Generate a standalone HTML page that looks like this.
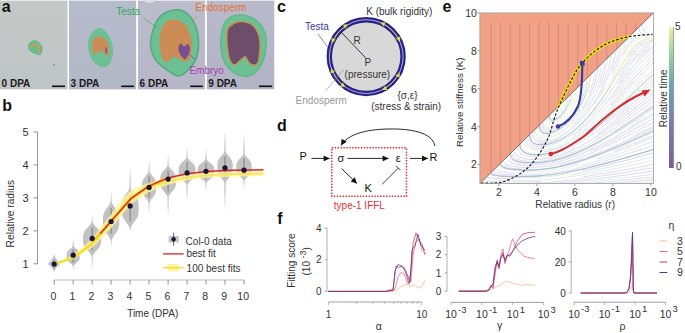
<!DOCTYPE html>
<html><head><meta charset="utf-8"><style>
html,body{margin:0;padding:0;background:#fff;width:685px;height:333px;overflow:hidden}
svg{display:block}
</style></head><body>
<svg width="685" height="333" viewBox="0 0 685 333">
<rect width="685" height="333" fill="#fff"/>
<g id="pa">
<defs><linearGradient id="bg0" x1="0" y1="0" x2="0" y2="1"><stop offset="0" stop-color="#c4c9c8"/><stop offset="1" stop-color="#bfc4c4"/></linearGradient></defs>
<rect x="0" y="0.6" width="67.5" height="88.8" fill="url(#bg0)"/>
<defs><linearGradient id="bg1" x1="0" y1="0" x2="0" y2="1"><stop offset="0" stop-color="#b6bccb"/><stop offset="1" stop-color="#b2b8c6"/></linearGradient></defs>
<rect x="69" y="0.6" width="67.2" height="88.8" fill="url(#bg1)"/>
<defs><linearGradient id="bg2" x1="0" y1="0" x2="0" y2="1"><stop offset="0" stop-color="#bdbccd"/><stop offset="1" stop-color="#b7b6c8"/></linearGradient></defs>
<rect x="138" y="0.6" width="67.0" height="88.8" fill="url(#bg2)"/>
<defs><linearGradient id="bg3" x1="0" y1="0" x2="0" y2="1"><stop offset="0" stop-color="#b9b9cc"/><stop offset="1" stop-color="#b3b3c6"/></linearGradient></defs>
<rect x="206.8" y="0.6" width="67.5" height="88.8" fill="url(#bg3)"/>
<path d="M34.8,40.3 C36.3,40.4 38.2,41.2 39.5,42.5 C40.8,43.8 42.5,46.1 42.7,48.2 C42.9,50.3 41.7,54.0 40.5,55.0 C39.3,56.0 37.3,54.6 35.5,54.0 C33.7,53.4 31.1,52.4 29.8,51.1 C28.6,49.8 27.9,47.5 28.0,46.0 C28.1,44.5 29.4,42.8 30.5,41.8 C31.6,40.8 33.3,40.2 34.8,40.3Z" fill="#66bc8c"/>
<path d="M31.2,47.6 C32.5,45 34,44.4 35.5,44.6 C37.5,44.8 39,46 39.1,48.5 C39.2,50 39.1,51.5 39.1,52.5" fill="none" stroke="#d09a5a" stroke-width="2.1" stroke-linecap="round"/>
<circle cx="54" cy="64.8" r="0.9" fill="#a08070"/>
<path d="M99.2,28.0 C101.8,27.8 104.5,29.5 106.7,32.5 C109.0,35.5 112.0,41.2 112.7,46.0 C113.5,50.8 112.6,57.5 111.2,61.0 C109.8,64.5 107.4,66.8 104.5,67.0 C101.6,67.2 96.8,65.8 94.0,62.5 C91.2,59.2 88.5,52.2 88.0,47.5 C87.5,42.8 89.1,37.2 91.0,34.0 C92.9,30.8 96.6,28.2 99.2,28.0Z" fill="#6cc094"/>
<path d="M98.5,36.2 C100.4,36.1 103.4,37.6 105.0,39.0 C106.6,40.4 107.5,42.0 108.2,44.5 C108.9,47.0 109.5,52.5 109.0,54.2 C108.5,56.0 106.6,55.5 105.5,55.0 C104.4,54.5 103.7,52.1 102.5,51.5 C101.3,50.9 99.8,50.9 98.5,51.5 C97.2,52.1 95.8,55.8 94.7,55.0 C93.6,54.2 91.9,49.6 91.7,47.0 C91.5,44.4 92.4,41.3 93.5,39.5 C94.6,37.7 96.6,36.3 98.5,36.2Z" fill="#cb8c56"/>
<path d="M106,48.2 L106.4,52.7" stroke="#7a4a90" stroke-width="1.6" stroke-linecap="round"/>
<path d="M174.3,10.0 C179.4,9.4 185.0,11.1 188.9,15.1 C192.8,19.1 196.6,27.3 197.9,34.3 C199.2,41.2 198.3,51.0 196.8,56.8 C195.3,62.6 191.9,66.0 188.9,69.2 C185.9,72.4 182.4,75.8 178.8,76.0 C175.2,76.2 171.4,73.1 167.5,70.3 C163.6,67.5 157.9,63.9 155.1,59.0 C152.3,54.1 150.0,47.8 150.6,41.0 C151.2,34.2 154.6,23.7 158.5,18.5 C162.4,13.3 169.2,10.6 174.3,10.0Z" fill="#6cc094"/>
<path d="M174.3,10.0 C179.4,9.4 185.0,11.1 188.9,15.1 C192.8,19.1 196.6,27.3 197.9,34.3 C199.2,41.2 198.3,51.0 196.8,56.8 C195.3,62.6 191.9,66.0 188.9,69.2 C185.9,72.4 182.4,75.8 178.8,76.0 C175.2,76.2 171.4,73.1 167.5,70.3 C163.6,67.5 157.9,63.9 155.1,59.0 C152.3,54.1 150.0,47.8 150.6,41.0 C151.2,34.2 154.6,23.7 158.5,18.5 C162.4,13.3 169.2,10.6 174.3,10.0Z" fill="none" stroke="#54ad80" stroke-width="1.6"/>
<ellipse cx="149.5" cy="1" rx="5" ry="1.8" fill="#dcdce6"/>
<path d="M173.2,19.6 C176.6,19.6 181.4,20.9 184.4,24.1 C187.4,27.3 190.1,33.7 191.2,38.8 C192.3,43.9 191.8,50.8 191.2,54.5 C190.6,58.2 189.5,60.3 187.8,61.3 C186.1,62.2 183.2,61.0 181.0,60.2 C178.8,59.5 176.0,57.0 174.3,56.8 C172.6,56.6 172.4,58.1 170.9,59.0 C169.4,59.9 166.9,63.1 165.3,62.4 C163.7,61.6 162.1,58.4 161.2,54.5 C160.2,50.6 159.1,43.9 159.6,38.8 C160.1,33.7 161.8,27.3 164.1,24.1 C166.4,20.9 169.8,19.6 173.2,19.6Z" fill="#cb8c56"/>
<path d="M181.0,43.5 C181.9,43.4 182.8,46.4 184.0,46.5 C185.2,46.6 187.0,43.4 188.0,44.0 C189.0,44.6 190.2,47.8 190.0,50.0 C189.8,52.2 188.0,55.5 187.0,57.0 C186.0,58.5 185.2,59.7 184.0,59.0 C182.8,58.3 180.4,55.0 179.5,53.0 C178.6,51.0 178.2,48.6 178.5,47.0 C178.8,45.4 180.1,43.6 181.0,43.5Z" fill="#7a4c90"/>
<path d="M227.8,19.0 C231.0,16.4 236.6,14.8 241.3,15.0 C246.0,15.2 252.0,17.2 255.9,20.1 C259.8,23.0 263.2,28.2 264.9,32.5 C266.6,36.8 266.4,41.1 266.0,46.0 C265.6,50.9 264.6,57.3 262.7,61.8 C260.8,66.3 257.6,70.6 254.8,73.0 C252.0,75.4 249.2,76.4 245.8,76.4 C242.4,76.4 237.9,75.1 234.5,73.0 C231.1,70.9 227.8,68.1 225.5,64.0 C223.2,59.9 221.6,53.9 221.0,48.3 C220.4,42.7 221.0,35.2 222.1,30.3 C223.2,25.4 224.6,21.6 227.8,19.0Z" fill="#6cc094"/>
<path d="M227.8,19.0 C231.0,16.4 236.6,14.8 241.3,15.0 C246.0,15.2 252.0,17.2 255.9,20.1 C259.8,23.0 263.2,28.2 264.9,32.5 C266.6,36.8 266.4,41.1 266.0,46.0 C265.6,50.9 264.6,57.3 262.7,61.8 C260.8,66.3 257.6,70.6 254.8,73.0 C252.0,75.4 249.2,76.4 245.8,76.4 C242.4,76.4 237.9,75.1 234.5,73.0 C231.1,70.9 227.8,68.1 225.5,64.0 C223.2,59.9 221.6,53.9 221.0,48.3 C220.4,42.7 221.0,35.2 222.1,30.3 C223.2,25.4 224.6,21.6 227.8,19.0Z" fill="none" stroke="#62b888" stroke-width="1.5"/>
<path d="M230.0,26.9 C231.9,25.2 235.6,22.8 239.0,22.4 C242.4,22.0 247.3,22.9 250.3,24.6 C253.3,26.3 255.5,29.3 257.0,32.5 C258.5,35.7 259.1,39.5 259.3,43.8 C259.5,48.1 258.8,55.0 258.2,58.4 C257.6,61.8 257.2,63.2 255.9,64.0 C254.6,64.8 252.0,64.2 250.3,62.9 C248.6,61.6 247.3,57.0 245.8,56.2 C244.3,55.5 243.2,57.1 241.3,58.4 C239.4,59.7 236.4,64.0 234.5,64.0 C232.6,64.0 231.1,61.8 230.0,58.4 C228.9,55.0 228.2,48.1 227.8,43.8 C227.4,39.5 227.4,35.3 227.8,32.5 C228.2,29.7 228.1,28.6 230.0,26.9Z" fill="#6e4c6c" stroke="#d48a40" stroke-width="2.6" stroke-linejoin="round"/>
<path d="M230.0,26.9 C231.9,25.2 235.6,22.8 239.0,22.4 C242.4,22.0 247.3,22.9 250.3,24.6 C253.3,26.3 255.5,29.3 257.0,32.5 C258.5,35.7 259.1,39.5 259.3,43.8 C259.5,48.1 258.8,55.0 258.2,58.4 C257.6,61.8 257.2,63.2 255.9,64.0 C254.6,64.8 252.0,64.2 250.3,62.9 C248.6,61.6 247.3,57.0 245.8,56.2 C244.3,55.5 243.2,57.1 241.3,58.4 C239.4,59.7 236.4,64.0 234.5,64.0 C232.6,64.0 231.1,61.8 230.0,58.4 C228.9,55.0 228.2,48.1 227.8,43.8 C227.4,39.5 227.4,35.3 227.8,32.5 C228.2,29.7 228.1,28.6 230.0,26.9Z" fill="#6e4c6c"/>
<line x1="142.7" y1="17.6" x2="156.2" y2="27" stroke="#3aa86a" stroke-width="0.6"/>
<line x1="196.8" y1="16.2" x2="180.5" y2="36.5" stroke="#e07a3a" stroke-width="0.6"/>
<line x1="188.6" y1="54" x2="195.4" y2="59.5" stroke="#9a3aa8" stroke-width="0.6"/>
<text x="116.2" y="14.6" font-family="Liberation Sans, sans-serif" font-size="10" fill="#2eab5c">Testa</text>
<text x="195.3" y="11.4" font-family="Liberation Sans, sans-serif" font-size="10" fill="#e8702c">Endosperm</text>
<text x="189.4" y="73.6" font-family="Liberation Sans, sans-serif" font-size="10" fill="#a040aa">Embryo</text>
<text x="1.6" y="86.9" font-family="Liberation Sans, sans-serif" font-size="10" font-weight="bold" fill="#1a1a1a">0 DPA</text>
<text x="70.6" y="86.9" font-family="Liberation Sans, sans-serif" font-size="10" font-weight="bold" fill="#1a1a1a">3 DPA</text>
<text x="139.6" y="86.9" font-family="Liberation Sans, sans-serif" font-size="10" font-weight="bold" fill="#1a1a1a">6 DPA</text>
<text x="208.3" y="86.9" font-family="Liberation Sans, sans-serif" font-size="10" font-weight="bold" fill="#1a1a1a">9 DPA</text>
<rect x="52" y="85.5" width="13.0" height="1.6" fill="#111"/>
<rect x="121.2" y="85.5" width="12.8" height="1.6" fill="#111"/>
<rect x="190.3" y="85.5" width="12.5" height="1.6" fill="#111"/>
<rect x="259" y="85.5" width="13.2" height="1.6" fill="#111"/>
</g>
<text x="1.8" y="11.9" font-family="Liberation Sans, sans-serif" font-size="16" font-weight="bold" fill="#111">a</text>
<g id="pb">
<line x1="37.5" y1="132" x2="37.5" y2="263.8" stroke="#999" stroke-width="1"/>
<line x1="33.5" y1="263.8" x2="37.5" y2="263.8" stroke="#777" stroke-width="0.8"/>
<text x="28.6" y="267.7" font-family="Liberation Sans, sans-serif" font-size="11" fill="#333" text-anchor="end">1</text>
<line x1="33.5" y1="230.9" x2="37.5" y2="230.9" stroke="#777" stroke-width="0.8"/>
<text x="28.6" y="234.8" font-family="Liberation Sans, sans-serif" font-size="11" fill="#333" text-anchor="end">2</text>
<line x1="33.5" y1="197.9" x2="37.5" y2="197.9" stroke="#777" stroke-width="0.8"/>
<text x="28.6" y="201.8" font-family="Liberation Sans, sans-serif" font-size="11" fill="#333" text-anchor="end">3</text>
<line x1="33.5" y1="164.9" x2="37.5" y2="164.9" stroke="#777" stroke-width="0.8"/>
<text x="28.6" y="168.8" font-family="Liberation Sans, sans-serif" font-size="11" fill="#333" text-anchor="end">4</text>
<line x1="33.5" y1="132.0" x2="37.5" y2="132.0" stroke="#777" stroke-width="0.8"/>
<text x="28.6" y="135.9" font-family="Liberation Sans, sans-serif" font-size="11" fill="#333" text-anchor="end">5</text>
<line x1="54.2" y1="280" x2="244" y2="280" stroke="#bbb" stroke-width="1.1"/>
<line x1="54.2" y1="280" x2="54.2" y2="284.6" stroke="#777" stroke-width="0.8"/>
<text x="53.4" y="299.7" font-family="Liberation Sans, sans-serif" font-size="10.5" fill="#333" text-anchor="middle">0</text>
<line x1="73.2" y1="280" x2="73.2" y2="284.6" stroke="#777" stroke-width="0.8"/>
<text x="72.4" y="299.7" font-family="Liberation Sans, sans-serif" font-size="10.5" fill="#333" text-anchor="middle">1</text>
<line x1="92.2" y1="280" x2="92.2" y2="284.6" stroke="#777" stroke-width="0.8"/>
<text x="91.4" y="299.7" font-family="Liberation Sans, sans-serif" font-size="10.5" fill="#333" text-anchor="middle">2</text>
<line x1="111.1" y1="280" x2="111.1" y2="284.6" stroke="#777" stroke-width="0.8"/>
<text x="110.3" y="299.7" font-family="Liberation Sans, sans-serif" font-size="10.5" fill="#333" text-anchor="middle">3</text>
<line x1="130.1" y1="280" x2="130.1" y2="284.6" stroke="#777" stroke-width="0.8"/>
<text x="129.3" y="299.7" font-family="Liberation Sans, sans-serif" font-size="10.5" fill="#333" text-anchor="middle">4</text>
<line x1="149.1" y1="280" x2="149.1" y2="284.6" stroke="#777" stroke-width="0.8"/>
<text x="148.3" y="299.7" font-family="Liberation Sans, sans-serif" font-size="10.5" fill="#333" text-anchor="middle">5</text>
<line x1="168.1" y1="280" x2="168.1" y2="284.6" stroke="#777" stroke-width="0.8"/>
<text x="167.3" y="299.7" font-family="Liberation Sans, sans-serif" font-size="10.5" fill="#333" text-anchor="middle">6</text>
<line x1="187.1" y1="280" x2="187.1" y2="284.6" stroke="#777" stroke-width="0.8"/>
<text x="186.3" y="299.7" font-family="Liberation Sans, sans-serif" font-size="10.5" fill="#333" text-anchor="middle">7</text>
<line x1="206.0" y1="280" x2="206.0" y2="284.6" stroke="#777" stroke-width="0.8"/>
<text x="205.2" y="299.7" font-family="Liberation Sans, sans-serif" font-size="10.5" fill="#333" text-anchor="middle">8</text>
<line x1="225.0" y1="280" x2="225.0" y2="284.6" stroke="#777" stroke-width="0.8"/>
<text x="224.2" y="299.7" font-family="Liberation Sans, sans-serif" font-size="10.5" fill="#333" text-anchor="middle">9</text>
<line x1="244.0" y1="280" x2="244.0" y2="284.6" stroke="#777" stroke-width="0.8"/>
<text x="243.2" y="299.7" font-family="Liberation Sans, sans-serif" font-size="10.5" fill="#333" text-anchor="middle">10</text>
<text x="152.7" y="317.2" font-family="Liberation Sans, sans-serif" font-size="10" fill="#333" text-anchor="middle">Time (DPA)</text>
<text transform="translate(14.2,213.7) rotate(-90)" x="0" y="0" font-family="Liberation Sans, sans-serif" font-size="10.2" fill="#333" text-anchor="middle">Relative radius</text>
<polygon points="54.20,253.40 54.24,253.64 54.28,253.88 54.31,254.12 54.35,254.36 54.38,254.60 54.42,254.84 54.48,255.08 54.55,255.32 54.62,255.56 54.70,255.80 54.79,256.04 54.89,256.28 54.99,256.52 55.09,256.76 55.20,257.00 55.32,257.24 55.44,257.48 55.57,257.72 55.70,257.96 55.84,258.20 55.98,258.44 56.13,258.68 56.28,258.92 56.43,259.16 56.59,259.40 56.76,259.64 56.93,259.88 57.10,260.12 57.28,260.36 57.46,260.60 57.65,260.84 57.84,261.08 58.04,261.32 58.24,261.56 58.44,261.80 58.65,262.04 58.86,262.28 59.08,262.52 59.30,262.76 59.52,263.00 59.75,263.24 59.98,263.48 60.22,263.72 60.46,263.96 60.25,264.20 59.96,264.44 59.68,264.68 59.40,264.92 59.12,265.16 58.86,265.40 58.60,265.64 58.34,265.88 58.09,266.12 57.85,266.36 57.62,266.60 57.39,266.84 57.16,267.08 56.95,267.32 56.74,267.56 56.54,267.80 56.34,268.04 56.15,268.28 55.97,268.52 55.80,268.76 55.63,269.00 55.47,269.24 55.32,269.48 55.18,269.72 55.05,269.96 54.92,270.20 54.80,270.44 54.69,270.68 54.59,270.92 54.50,271.16 54.42,271.40 54.38,271.64 54.34,271.88 54.29,272.12 54.25,272.36 54.20,272.60 54.20,272.60 54.15,272.36 54.11,272.12 54.06,271.88 54.02,271.64 53.98,271.40 53.90,271.16 53.81,270.92 53.71,270.68 53.60,270.44 53.48,270.20 53.35,269.96 53.22,269.72 53.08,269.48 52.93,269.24 52.77,269.00 52.60,268.76 52.43,268.52 52.25,268.28 52.06,268.04 51.86,267.80 51.66,267.56 51.45,267.32 51.24,267.08 51.01,266.84 50.78,266.60 50.55,266.36 50.31,266.12 50.06,265.88 49.80,265.64 49.54,265.40 49.28,265.16 49.00,264.92 48.72,264.68 48.44,264.44 48.15,264.20 47.94,263.96 48.18,263.72 48.42,263.48 48.65,263.24 48.88,263.00 49.10,262.76 49.32,262.52 49.54,262.28 49.75,262.04 49.96,261.80 50.16,261.56 50.36,261.32 50.56,261.08 50.75,260.84 50.94,260.60 51.12,260.36 51.30,260.12 51.47,259.88 51.64,259.64 51.81,259.40 51.97,259.16 52.12,258.92 52.27,258.68 52.42,258.44 52.56,258.20 52.70,257.96 52.83,257.72 52.96,257.48 53.08,257.24 53.20,257.00 53.31,256.76 53.41,256.52 53.51,256.28 53.61,256.04 53.70,255.80 53.78,255.56 53.85,255.32 53.92,255.08 53.98,254.84 54.02,254.60 54.05,254.36 54.09,254.12 54.12,253.88 54.16,253.64 54.20,253.40" fill="#c2c2c2"/>
<line x1="54.2" y1="259.9" x2="54.2" y2="268.1" stroke="#6a6a6a" stroke-width="0.8"/>
<polygon points="73.18,237.70 73.22,238.11 73.25,238.51 73.29,238.92 73.32,239.33 73.36,239.74 73.39,240.14 73.42,240.55 73.46,240.96 73.49,241.37 73.52,241.77 73.55,242.18 73.57,242.59 73.60,243.00 73.63,243.41 73.65,243.81 73.68,244.22 73.70,244.63 73.72,245.03 73.75,245.44 73.77,245.85 73.84,246.26 74.09,246.66 74.39,247.07 74.75,247.48 75.15,247.89 75.58,248.29 76.04,248.70 76.51,249.11 76.98,249.52 77.43,249.93 77.85,250.33 78.24,250.74 78.58,251.15 78.87,251.56 79.12,251.96 79.32,252.37 79.47,252.78 79.59,253.19 79.67,253.59 79.72,254.00 79.75,254.41 79.77,254.81 79.78,255.22 79.78,255.63 79.78,256.04 79.78,256.44 79.78,256.85 79.77,257.26 79.75,257.67 79.71,258.07 79.65,258.48 79.57,258.89 79.45,259.30 79.28,259.70 79.08,260.11 78.82,260.52 78.52,260.93 78.17,261.33 77.78,261.74 77.35,262.15 76.89,262.56 76.42,262.97 75.95,263.37 75.50,263.78 75.07,264.19 74.68,264.60 74.33,265.00 74.04,265.41 73.80,265.82 73.61,266.23 73.56,266.63 73.52,267.04 73.49,267.45 73.45,267.86 73.40,268.26 73.36,268.67 73.32,269.08 73.27,269.49 73.23,269.89 73.18,270.30 73.18,270.30 73.13,269.89 73.09,269.49 73.04,269.08 73.00,268.67 72.96,268.26 72.91,267.86 72.87,267.45 72.84,267.04 72.80,266.63 72.75,266.23 72.56,265.82 72.32,265.41 72.03,265.00 71.68,264.60 71.29,264.19 70.86,263.78 70.41,263.37 69.94,262.97 69.47,262.56 69.01,262.15 68.58,261.74 68.19,261.33 67.84,260.93 67.54,260.52 67.28,260.11 67.08,259.70 66.91,259.30 66.79,258.89 66.71,258.48 66.65,258.07 66.61,257.67 66.59,257.26 66.58,256.85 66.58,256.44 66.58,256.04 66.58,255.63 66.58,255.22 66.59,254.81 66.61,254.41 66.64,254.00 66.69,253.59 66.77,253.19 66.89,252.78 67.04,252.37 67.24,251.96 67.49,251.56 67.78,251.15 68.12,250.74 68.51,250.33 68.93,249.93 69.38,249.52 69.85,249.11 70.32,248.70 70.78,248.29 71.21,247.89 71.61,247.48 71.97,247.07 72.27,246.66 72.52,246.26 72.59,245.85 72.61,245.44 72.64,245.03 72.66,244.63 72.68,244.22 72.71,243.81 72.73,243.41 72.76,243.00 72.79,242.59 72.81,242.18 72.84,241.77 72.87,241.37 72.90,240.96 72.94,240.55 72.97,240.14 73.00,239.74 73.04,239.33 73.07,238.92 73.11,238.51 73.14,238.11 73.18,237.70" fill="#c2c2c2"/>
<line x1="73.2" y1="249.2" x2="73.2" y2="262.8" stroke="#6a6a6a" stroke-width="0.8"/>
<polygon points="92.16,214.00 92.21,214.69 92.25,215.38 92.29,216.06 92.34,216.75 92.38,217.44 92.42,218.12 92.46,218.81 92.49,219.50 92.53,220.19 92.56,220.88 92.63,221.56 92.85,222.25 93.14,222.94 93.51,223.62 93.94,224.31 94.45,225.00 95.02,225.69 95.63,226.38 96.27,227.06 96.92,227.75 97.56,228.44 98.17,229.12 98.74,229.81 99.25,230.50 99.70,231.19 100.07,231.88 100.38,232.56 100.63,233.25 100.82,233.94 100.95,234.62 101.05,235.31 101.10,236.00 101.14,236.69 101.15,237.38 101.16,238.06 101.16,238.75 101.16,239.44 101.16,240.12 101.15,240.81 101.13,241.50 101.09,242.19 101.02,242.88 100.92,243.56 100.77,244.25 100.57,244.94 100.31,245.62 99.98,246.31 99.58,247.00 99.12,247.69 98.59,248.38 98.01,249.06 97.39,249.75 96.74,250.44 96.09,251.12 95.46,251.81 94.86,252.50 94.31,253.19 93.82,253.88 93.40,254.56 93.06,255.25 92.79,255.94 92.72,256.62 92.69,257.31 92.67,258.00 92.64,258.69 92.62,259.38 92.59,260.06 92.56,260.75 92.53,261.44 92.50,262.12 92.47,262.81 92.44,263.50 92.41,264.19 92.38,264.88 92.34,265.56 92.31,266.25 92.27,266.94 92.24,267.62 92.20,268.31 92.16,269.00 92.16,269.00 92.12,268.31 92.08,267.62 92.05,266.94 92.01,266.25 91.98,265.56 91.94,264.88 91.91,264.19 91.88,263.50 91.85,262.81 91.82,262.12 91.79,261.44 91.76,260.75 91.73,260.06 91.70,259.38 91.68,258.69 91.65,258.00 91.63,257.31 91.60,256.62 91.53,255.94 91.26,255.25 90.92,254.56 90.50,253.88 90.01,253.19 89.46,252.50 88.86,251.81 88.23,251.12 87.58,250.44 86.93,249.75 86.31,249.06 85.73,248.38 85.20,247.69 84.74,247.00 84.34,246.31 84.01,245.62 83.75,244.94 83.55,244.25 83.40,243.56 83.30,242.88 83.23,242.19 83.19,241.50 83.17,240.81 83.16,240.12 83.16,239.44 83.16,238.75 83.16,238.06 83.17,237.38 83.18,236.69 83.22,236.00 83.27,235.31 83.37,234.62 83.50,233.94 83.69,233.25 83.94,232.56 84.25,231.88 84.62,231.19 85.07,230.50 85.58,229.81 86.15,229.12 86.76,228.44 87.40,227.75 88.05,227.06 88.69,226.38 89.30,225.69 89.87,225.00 90.38,224.31 90.81,223.62 91.18,222.94 91.47,222.25 91.69,221.56 91.76,220.88 91.79,220.19 91.83,219.50 91.86,218.81 91.90,218.12 91.94,217.44 91.98,216.75 92.03,216.06 92.07,215.38 92.11,214.69 92.16,214.00" fill="#c2c2c2"/>
<line x1="92.2" y1="227.8" x2="92.2" y2="250.2" stroke="#6a6a6a" stroke-width="0.8"/>
<polygon points="111.14,191.30 111.18,192.00 111.22,192.70 111.26,193.40 111.29,194.11 111.33,194.81 111.36,195.51 111.40,196.21 111.43,196.91 111.46,197.61 111.49,198.31 111.52,199.01 111.55,199.72 111.58,200.42 111.61,201.12 111.71,201.82 111.93,202.52 112.20,203.22 112.53,203.92 112.91,204.62 113.34,205.33 113.81,206.03 114.31,206.73 114.84,207.43 115.37,208.13 115.89,208.83 116.40,209.53 116.88,210.23 117.32,210.94 117.71,211.64 118.06,212.34 118.36,213.04 118.61,213.74 118.81,214.44 118.97,215.14 119.08,215.84 119.17,216.55 119.23,217.25 119.27,217.95 119.29,218.65 119.30,219.35 119.30,220.05 119.30,220.75 119.30,221.45 119.30,222.16 119.29,222.86 119.28,223.56 119.26,224.26 119.21,224.96 119.15,225.66 119.05,226.36 118.92,227.06 118.75,227.77 118.54,228.47 118.28,229.17 117.96,229.87 117.60,230.57 117.19,231.27 116.74,231.97 116.25,232.67 115.74,233.38 115.21,234.08 114.68,234.78 114.16,235.48 113.67,236.18 113.21,236.88 112.79,237.58 112.43,238.28 112.12,238.99 111.86,239.69 111.66,240.39 111.50,241.09 111.46,241.79 111.43,242.49 111.39,243.19 111.35,243.89 111.31,244.59 111.27,245.30 111.23,246.00 111.18,246.70 111.14,247.40 111.14,247.40 111.10,246.70 111.05,246.00 111.01,245.30 110.97,244.59 110.93,243.89 110.89,243.19 110.85,242.49 110.82,241.79 110.78,241.09 110.62,240.39 110.42,239.69 110.16,238.99 109.85,238.28 109.49,237.58 109.07,236.88 108.61,236.18 108.12,235.48 107.60,234.78 107.07,234.08 106.54,233.38 106.03,232.67 105.54,231.97 105.09,231.27 104.68,230.57 104.32,229.87 104.00,229.17 103.74,228.47 103.53,227.77 103.36,227.06 103.23,226.36 103.13,225.66 103.07,224.96 103.02,224.26 103.00,223.56 102.99,222.86 102.98,222.16 102.98,221.45 102.98,220.75 102.98,220.05 102.98,219.35 102.99,218.65 103.01,217.95 103.05,217.25 103.11,216.55 103.20,215.84 103.31,215.14 103.47,214.44 103.67,213.74 103.92,213.04 104.22,212.34 104.57,211.64 104.96,210.94 105.40,210.23 105.88,209.53 106.39,208.83 106.91,208.13 107.44,207.43 107.97,206.73 108.47,206.03 108.94,205.33 109.37,204.62 109.75,203.92 110.08,203.22 110.35,202.52 110.57,201.82 110.67,201.12 110.70,200.42 110.73,199.72 110.76,199.01 110.79,198.31 110.82,197.61 110.85,196.91 110.88,196.21 110.92,195.51 110.95,194.81 110.99,194.11 111.02,193.40 111.06,192.70 111.10,192.00 111.14,191.30" fill="#c2c2c2"/>
<line x1="111.1" y1="208.2" x2="111.1" y2="233.8" stroke="#6a6a6a" stroke-width="0.8"/>
<polygon points="130.12,166.00 130.15,166.82 130.19,167.65 130.22,168.47 130.25,169.30 130.28,170.12 130.31,170.95 130.34,171.78 130.37,172.60 130.39,173.43 130.42,174.25 130.45,175.07 130.47,175.90 130.50,176.72 130.52,177.55 130.55,178.38 130.57,179.20 130.59,180.03 130.61,180.85 130.64,181.68 130.66,182.50 130.68,183.32 130.70,184.15 130.71,184.97 130.73,185.80 130.75,186.62 130.77,187.45 130.89,188.28 131.20,189.10 131.57,189.93 132.02,190.75 132.53,191.57 133.08,192.40 133.68,193.22 134.29,194.05 134.91,194.88 135.50,195.70 136.06,196.53 136.57,197.35 137.03,198.18 137.42,199.00 137.75,199.82 138.02,200.65 138.22,201.47 138.38,202.30 138.49,203.12 138.56,203.95 138.60,204.78 138.63,205.60 138.64,206.43 138.64,207.25 138.64,208.07 138.64,208.90 138.64,209.72 138.62,210.55 138.60,211.38 138.55,212.20 138.47,213.03 138.35,213.85 138.19,214.68 137.97,215.50 137.70,216.32 137.36,217.15 136.95,217.97 136.49,218.80 135.96,219.62 135.39,220.45 134.79,221.28 134.18,222.10 133.57,222.93 132.98,223.75 132.43,224.57 131.93,225.40 131.50,226.22 131.14,227.05 130.84,227.88 130.62,228.70 130.45,229.53 130.33,230.35 130.25,231.18 130.19,232.00 130.05,232.00 129.99,231.18 129.91,230.35 129.79,229.53 129.62,228.70 129.40,227.88 129.10,227.05 128.74,226.22 128.31,225.40 127.81,224.57 127.26,223.75 126.67,222.93 126.06,222.10 125.45,221.28 124.85,220.45 124.28,219.62 123.75,218.80 123.29,217.97 122.88,217.15 122.54,216.32 122.27,215.50 122.05,214.68 121.89,213.85 121.77,213.03 121.69,212.20 121.64,211.38 121.62,210.55 121.60,209.72 121.60,208.90 121.60,208.07 121.60,207.25 121.60,206.43 121.61,205.60 121.64,204.78 121.68,203.95 121.75,203.12 121.86,202.30 122.02,201.47 122.22,200.65 122.49,199.82 122.82,199.00 123.21,198.18 123.67,197.35 124.18,196.53 124.74,195.70 125.33,194.88 125.95,194.05 126.56,193.22 127.16,192.40 127.71,191.57 128.22,190.75 128.67,189.93 129.04,189.10 129.35,188.28 129.47,187.45 129.49,186.62 129.51,185.80 129.53,184.97 129.54,184.15 129.56,183.32 129.58,182.50 129.60,181.68 129.63,180.85 129.65,180.03 129.67,179.20 129.69,178.38 129.72,177.55 129.74,176.72 129.77,175.90 129.79,175.07 129.82,174.25 129.85,173.43 129.87,172.60 129.90,171.78 129.93,170.95 129.96,170.12 129.99,169.30 130.02,168.47 130.05,167.65 130.09,166.82 130.12,166.00" fill="#c2c2c2"/>
<line x1="130.1" y1="194.5" x2="130.1" y2="221.5" stroke="#6a6a6a" stroke-width="0.8"/>
<polygon points="149.10,159.30 149.14,159.98 149.18,160.66 149.22,161.34 149.26,162.02 149.30,162.69 149.33,163.37 149.37,164.05 149.40,164.73 149.43,165.41 149.47,166.09 149.50,166.77 149.53,167.45 149.56,168.12 149.58,168.80 149.61,169.48 149.64,170.16 149.66,170.84 149.69,171.52 149.95,172.20 150.27,172.88 150.66,173.55 151.10,174.23 151.60,174.91 152.12,175.59 152.66,176.27 153.20,176.95 153.72,177.63 154.20,178.31 154.63,178.98 155.00,179.66 155.32,180.34 155.58,181.02 155.78,181.70 155.93,182.38 156.04,183.06 156.10,183.74 156.15,184.41 156.17,185.09 156.18,185.77 156.18,186.45 156.18,187.13 156.18,187.81 156.18,188.49 156.16,189.16 156.13,189.84 156.08,190.52 156.00,191.20 155.88,191.88 155.71,192.56 155.49,193.24 155.21,193.92 154.87,194.59 154.47,195.27 154.02,195.95 153.52,196.63 153.00,197.31 152.46,197.99 151.92,198.67 151.41,199.35 150.93,200.03 150.51,200.70 150.14,201.38 149.85,202.06 149.65,202.74 149.63,203.42 149.60,204.10 149.57,204.78 149.54,205.45 149.51,206.13 149.48,206.81 149.45,207.49 149.41,208.17 149.38,208.85 149.34,209.53 149.30,210.21 149.26,210.88 149.23,211.56 149.18,212.24 149.14,212.92 149.10,213.60 149.10,213.60 149.06,212.92 149.02,212.24 148.97,211.56 148.94,210.88 148.90,210.21 148.86,209.53 148.82,208.85 148.79,208.17 148.75,207.49 148.72,206.81 148.69,206.13 148.66,205.45 148.63,204.78 148.60,204.10 148.57,203.42 148.55,202.74 148.35,202.06 148.06,201.38 147.69,200.70 147.27,200.03 146.79,199.35 146.28,198.67 145.74,197.99 145.20,197.31 144.68,196.63 144.18,195.95 143.73,195.27 143.33,194.59 142.99,193.92 142.71,193.24 142.49,192.56 142.32,191.88 142.20,191.20 142.12,190.52 142.07,189.84 142.04,189.16 142.02,188.49 142.02,187.81 142.02,187.13 142.02,186.45 142.02,185.77 142.03,185.09 142.05,184.41 142.10,183.74 142.16,183.06 142.27,182.38 142.42,181.70 142.62,181.02 142.88,180.34 143.20,179.66 143.57,178.98 144.00,178.31 144.48,177.63 145.00,176.95 145.54,176.27 146.08,175.59 146.60,174.91 147.10,174.23 147.54,173.55 147.93,172.88 148.25,172.20 148.51,171.52 148.54,170.84 148.56,170.16 148.59,169.48 148.62,168.80 148.64,168.12 148.67,167.45 148.70,166.77 148.73,166.09 148.77,165.41 148.80,164.73 148.83,164.05 148.87,163.37 148.90,162.69 148.94,162.02 148.98,161.34 149.02,160.66 149.06,159.98 149.10,159.30" fill="#c2c2c2"/>
<line x1="149.1" y1="176.5" x2="149.1" y2="197.5" stroke="#6a6a6a" stroke-width="0.8"/>
<polygon points="168.08,153.60 168.13,154.38 168.17,155.16 168.22,155.94 168.26,156.72 168.30,157.50 168.35,158.28 168.39,159.06 168.42,159.84 168.46,160.62 168.50,161.40 168.53,162.18 168.56,162.96 168.59,163.74 168.62,164.52 168.67,165.30 168.98,166.08 169.38,166.86 169.88,167.64 170.47,168.42 171.12,169.20 171.81,169.98 172.50,170.76 173.17,171.54 173.79,172.32 174.34,173.10 174.81,173.88 175.18,174.66 175.47,175.44 175.69,176.22 175.83,177.00 175.92,177.78 175.97,178.56 175.99,179.34 176.00,180.12 176.00,180.90 176.00,181.68 175.99,182.46 175.98,183.24 175.94,184.02 175.86,184.80 175.73,185.58 175.54,186.36 175.27,187.14 174.91,187.92 174.47,188.70 173.94,189.48 173.34,190.26 172.68,191.04 171.99,191.82 171.29,192.60 170.63,193.38 170.03,194.16 169.50,194.94 169.07,195.72 168.76,196.50 168.75,197.28 168.73,198.06 168.71,198.84 168.69,199.62 168.67,200.40 168.65,201.18 168.63,201.96 168.60,202.74 168.58,203.52 168.55,204.30 168.53,205.08 168.50,205.86 168.47,206.64 168.45,207.42 168.42,208.20 168.39,208.98 168.36,209.76 168.32,210.54 168.29,211.32 168.26,212.10 168.22,212.88 168.19,213.66 168.15,214.44 168.12,215.22 168.08,216.00 168.08,216.00 168.04,215.22 168.01,214.44 167.97,213.66 167.94,212.88 167.90,212.10 167.87,211.32 167.84,210.54 167.80,209.76 167.77,208.98 167.74,208.20 167.71,207.42 167.69,206.64 167.66,205.86 167.63,205.08 167.61,204.30 167.58,203.52 167.56,202.74 167.53,201.96 167.51,201.18 167.49,200.40 167.47,199.62 167.45,198.84 167.43,198.06 167.41,197.28 167.40,196.50 167.09,195.72 166.66,194.94 166.13,194.16 165.53,193.38 164.87,192.60 164.17,191.82 163.48,191.04 162.82,190.26 162.22,189.48 161.69,188.70 161.25,187.92 160.89,187.14 160.62,186.36 160.43,185.58 160.30,184.80 160.22,184.02 160.18,183.24 160.17,182.46 160.16,181.68 160.16,180.90 160.16,180.12 160.17,179.34 160.19,178.56 160.24,177.78 160.33,177.00 160.47,176.22 160.69,175.44 160.98,174.66 161.35,173.88 161.82,173.10 162.37,172.32 162.99,171.54 163.66,170.76 164.35,169.98 165.04,169.20 165.69,168.42 166.28,167.64 166.78,166.86 167.18,166.08 167.49,165.30 167.54,164.52 167.57,163.74 167.60,162.96 167.63,162.18 167.66,161.40 167.70,160.62 167.74,159.84 167.77,159.06 167.81,158.28 167.86,157.50 167.90,156.72 167.94,155.94 167.99,155.16 168.03,154.38 168.08,153.60" fill="#c2c2c2"/>
<line x1="168.1" y1="170.5" x2="168.1" y2="191.5" stroke="#6a6a6a" stroke-width="0.8"/>
<polygon points="187.06,146.40 187.11,147.08 187.15,147.76 187.19,148.44 187.24,149.12 187.28,149.79 187.32,150.47 187.36,151.15 187.39,151.83 187.43,152.51 187.46,153.19 187.50,153.87 187.53,154.55 187.56,155.22 187.59,155.90 187.62,156.58 187.64,157.26 187.87,157.94 188.26,158.62 188.76,159.30 189.36,159.97 190.04,160.65 190.77,161.33 191.52,162.01 192.25,162.69 192.94,163.37 193.55,164.05 194.08,164.73 194.51,165.41 194.84,166.08 195.09,166.76 195.25,167.44 195.36,168.12 195.42,168.80 195.45,169.48 195.46,170.16 195.46,170.84 195.46,171.51 195.46,172.19 195.44,172.87 195.40,173.55 195.31,174.23 195.18,174.91 194.97,175.59 194.68,176.26 194.30,176.94 193.82,177.62 193.24,178.30 192.59,178.98 191.88,179.66 191.13,180.34 190.39,181.02 189.68,181.69 189.04,182.37 188.49,183.05 188.05,183.73 187.74,184.41 187.72,185.09 187.70,185.77 187.68,186.45 187.66,187.12 187.64,187.80 187.62,188.48 187.59,189.16 187.57,189.84 187.54,190.52 187.52,191.20 187.49,191.88 187.46,192.56 187.43,193.23 187.40,193.91 187.37,194.59 187.34,195.27 187.31,195.95 187.28,196.63 187.24,197.31 187.21,197.98 187.17,198.66 187.14,199.34 187.10,200.02 187.06,200.70 187.06,200.70 187.02,200.02 186.98,199.34 186.95,198.66 186.91,197.98 186.88,197.31 186.84,196.63 186.81,195.95 186.78,195.27 186.75,194.59 186.72,193.91 186.69,193.23 186.66,192.56 186.63,191.88 186.60,191.20 186.58,190.52 186.55,189.84 186.53,189.16 186.50,188.48 186.48,187.80 186.46,187.12 186.44,186.45 186.42,185.77 186.40,185.09 186.38,184.41 186.07,183.73 185.63,183.05 185.08,182.37 184.44,181.69 183.73,181.02 182.99,180.34 182.24,179.66 181.53,178.98 180.88,178.30 180.30,177.62 179.82,176.94 179.44,176.26 179.15,175.59 178.94,174.91 178.81,174.23 178.72,173.55 178.68,172.87 178.66,172.19 178.66,171.51 178.66,170.84 178.66,170.16 178.67,169.48 178.70,168.80 178.76,168.12 178.87,167.44 179.03,166.76 179.28,166.08 179.61,165.41 180.04,164.73 180.57,164.05 181.18,163.37 181.87,162.69 182.60,162.01 183.35,161.33 184.08,160.65 184.76,159.97 185.36,159.30 185.86,158.62 186.25,157.94 186.48,157.26 186.50,156.58 186.53,155.90 186.56,155.22 186.59,154.55 186.62,153.87 186.66,153.19 186.69,152.51 186.73,151.83 186.76,151.15 186.80,150.47 186.84,149.79 186.88,149.12 186.93,148.44 186.97,147.76 187.01,147.08 187.06,146.40" fill="#c2c2c2"/>
<line x1="187.1" y1="162.0" x2="187.1" y2="180.0" stroke="#6a6a6a" stroke-width="0.8"/>
<polygon points="206.04,147.90 206.08,148.45 206.12,149.00 206.16,149.56 206.19,150.11 206.23,150.66 206.27,151.22 206.30,151.77 206.33,152.32 206.37,152.87 206.40,153.43 206.43,153.98 206.46,154.53 206.49,155.08 206.51,155.63 206.54,156.19 206.57,156.74 206.59,157.29 206.61,157.84 206.64,158.40 206.66,158.95 206.81,159.50 207.16,160.06 207.60,160.61 208.14,161.16 208.74,161.71 209.40,162.27 210.10,162.82 210.79,163.37 211.46,163.92 212.08,164.47 212.64,165.03 213.11,165.58 213.50,166.13 213.81,166.69 214.05,167.24 214.21,167.79 214.32,168.34 214.39,168.90 214.42,169.45 214.44,170.00 214.44,170.55 214.44,171.10 214.44,171.66 214.43,172.21 214.41,172.76 214.37,173.31 214.29,173.87 214.16,174.42 213.97,174.97 213.71,175.53 213.36,176.08 212.94,176.63 212.43,177.18 211.85,177.73 211.21,178.29 210.53,178.84 209.83,179.39 209.15,179.94 208.50,180.50 207.92,181.05 207.42,181.60 207.02,182.16 206.70,182.71 206.60,183.26 206.58,183.81 206.55,184.37 206.52,184.92 206.49,185.47 206.46,186.02 206.43,186.57 206.39,187.13 206.36,187.68 206.32,188.23 206.29,188.78 206.25,189.34 206.21,189.89 206.17,190.44 206.13,191.00 206.08,191.55 206.04,192.10 206.04,192.10 206.00,191.55 205.95,191.00 205.91,190.44 205.87,189.89 205.83,189.34 205.79,188.78 205.76,188.23 205.72,187.68 205.69,187.13 205.65,186.57 205.62,186.02 205.59,185.47 205.56,184.92 205.53,184.37 205.50,183.81 205.48,183.26 205.38,182.71 205.06,182.16 204.66,181.60 204.16,181.05 203.58,180.50 202.93,179.94 202.25,179.39 201.55,178.84 200.87,178.29 200.23,177.73 199.65,177.18 199.14,176.63 198.72,176.08 198.37,175.53 198.11,174.97 197.92,174.42 197.79,173.87 197.71,173.31 197.67,172.76 197.65,172.21 197.64,171.66 197.64,171.10 197.64,170.55 197.64,170.00 197.66,169.45 197.69,168.90 197.76,168.34 197.87,167.79 198.03,167.24 198.27,166.69 198.58,166.13 198.97,165.58 199.44,165.03 200.00,164.47 200.62,163.92 201.29,163.37 201.98,162.82 202.68,162.27 203.34,161.71 203.94,161.16 204.48,160.61 204.92,160.06 205.27,159.50 205.42,158.95 205.44,158.40 205.47,157.84 205.49,157.29 205.51,156.74 205.54,156.19 205.57,155.63 205.59,155.08 205.62,154.53 205.65,153.98 205.68,153.43 205.71,152.87 205.75,152.32 205.78,151.77 205.81,151.22 205.85,150.66 205.89,150.11 205.92,149.56 205.96,149.00 206.00,148.45 206.04,147.90" fill="#c2c2c2"/>
<line x1="206.0" y1="163.1" x2="206.0" y2="178.9" stroke="#6a6a6a" stroke-width="0.8"/>
<polygon points="225.02,130.70 225.07,131.70 225.11,132.70 225.15,133.70 225.20,134.70 225.24,135.70 225.28,136.70 225.32,137.70 225.35,138.70 225.39,139.70 225.42,140.70 225.46,141.70 225.49,142.70 225.52,143.70 225.55,144.70 225.58,145.70 225.60,146.70 225.63,147.70 225.65,148.70 225.68,149.70 225.70,150.70 225.73,151.70 226.20,152.70 226.81,153.70 227.56,154.70 228.39,155.70 229.26,156.70 230.09,157.70 230.83,158.70 231.45,159.70 231.92,160.70 232.27,161.70 232.49,162.70 232.62,163.70 232.68,164.70 232.70,165.70 232.70,166.70 232.70,167.70 232.69,168.70 232.66,169.70 232.57,170.70 232.41,171.70 232.14,172.70 231.75,173.70 231.21,174.70 230.54,175.70 229.76,176.70 228.91,177.70 228.05,178.70 227.25,179.70 226.55,180.70 225.99,181.70 225.76,182.70 225.75,183.70 225.73,184.70 225.71,185.70 225.70,186.70 225.68,187.70 225.66,188.70 225.64,189.70 225.62,190.70 225.60,191.70 225.58,192.70 225.55,193.70 225.53,194.70 225.50,195.70 225.48,196.70 225.45,197.70 225.42,198.70 225.39,199.70 225.36,200.70 225.33,201.70 225.30,202.70 225.27,203.70 225.24,204.70 225.20,205.70 225.17,206.70 225.13,207.70 225.10,208.70 225.06,209.70 225.02,210.70 225.02,210.70 224.98,209.70 224.94,208.70 224.91,207.70 224.87,206.70 224.84,205.70 224.80,204.70 224.77,203.70 224.74,202.70 224.71,201.70 224.68,200.70 224.65,199.70 224.62,198.70 224.59,197.70 224.56,196.70 224.54,195.70 224.51,194.70 224.49,193.70 224.46,192.70 224.44,191.70 224.42,190.70 224.40,189.70 224.38,188.70 224.36,187.70 224.34,186.70 224.33,185.70 224.31,184.70 224.29,183.70 224.28,182.70 224.05,181.70 223.49,180.70 222.79,179.70 221.99,178.70 221.13,177.70 220.28,176.70 219.50,175.70 218.83,174.70 218.29,173.70 217.90,172.70 217.63,171.70 217.47,170.70 217.38,169.70 217.35,168.70 217.34,167.70 217.34,166.70 217.34,165.70 217.36,164.70 217.42,163.70 217.55,162.70 217.77,161.70 218.12,160.70 218.59,159.70 219.21,158.70 219.95,157.70 220.78,156.70 221.65,155.70 222.48,154.70 223.23,153.70 223.84,152.70 224.31,151.70 224.34,150.70 224.36,149.70 224.39,148.70 224.41,147.70 224.44,146.70 224.46,145.70 224.49,144.70 224.52,143.70 224.55,142.70 224.58,141.70 224.62,140.70 224.65,139.70 224.69,138.70 224.72,137.70 224.76,136.70 224.80,135.70 224.84,134.70 224.89,133.70 224.93,132.70 224.97,131.70 225.02,130.70" fill="#c2c2c2"/>
<line x1="225.0" y1="156.5" x2="225.0" y2="177.5" stroke="#6a6a6a" stroke-width="0.8"/>
<polygon points="244.00,133.60 244.03,134.30 244.07,134.99 244.10,135.69 244.13,136.38 244.17,137.08 244.20,137.78 244.23,138.47 244.26,139.17 244.29,139.87 244.31,140.56 244.34,141.26 244.37,141.95 244.39,142.65 244.42,143.35 244.44,144.04 244.47,144.74 244.49,145.44 244.51,146.13 244.53,146.83 244.55,147.53 244.58,148.22 244.59,148.92 244.61,149.61 244.63,150.31 244.65,151.01 244.67,151.70 244.68,152.40 244.70,153.09 244.71,153.79 244.76,154.49 245.14,155.18 245.62,155.88 246.19,156.58 246.84,157.27 247.53,157.97 248.23,158.66 248.91,159.36 249.54,160.06 250.09,160.75 250.55,161.45 250.93,162.15 251.21,162.84 251.41,163.54 251.54,164.24 251.62,164.93 251.66,165.63 251.68,166.32 251.68,167.02 251.68,167.72 251.68,168.41 251.67,169.11 251.64,169.81 251.58,170.50 251.47,171.20 251.29,171.89 251.04,172.59 250.71,173.29 250.28,173.98 249.76,174.68 249.15,175.38 248.49,176.07 247.79,176.77 247.10,177.46 246.43,178.16 245.83,178.86 245.31,179.55 244.89,180.25 244.57,180.94 244.49,181.64 244.46,182.34 244.42,183.03 244.38,183.73 244.34,184.43 244.29,185.12 244.25,185.82 244.20,186.52 244.16,187.21 244.11,187.91 244.05,188.60 244.00,189.30 244.00,189.30 243.95,188.60 243.89,187.91 243.84,187.21 243.80,186.52 243.75,185.82 243.71,185.12 243.66,184.43 243.62,183.73 243.58,183.03 243.54,182.34 243.51,181.64 243.43,180.94 243.11,180.25 242.69,179.55 242.17,178.86 241.57,178.16 240.90,177.46 240.21,176.77 239.51,176.07 238.85,175.38 238.24,174.68 237.72,173.98 237.29,173.29 236.96,172.59 236.71,171.89 236.53,171.20 236.42,170.50 236.36,169.81 236.33,169.11 236.32,168.41 236.32,167.72 236.32,167.02 236.32,166.32 236.34,165.63 236.38,164.93 236.46,164.24 236.59,163.54 236.79,162.84 237.07,162.15 237.45,161.45 237.91,160.75 238.46,160.06 239.09,159.36 239.77,158.66 240.47,157.97 241.16,157.27 241.81,156.58 242.38,155.88 242.86,155.18 243.24,154.49 243.29,153.79 243.30,153.09 243.32,152.40 243.33,151.70 243.35,151.01 243.37,150.31 243.39,149.61 243.41,148.92 243.42,148.22 243.45,147.53 243.47,146.83 243.49,146.13 243.51,145.44 243.53,144.74 243.56,144.04 243.58,143.35 243.61,142.65 243.63,141.95 243.66,141.26 243.69,140.56 243.71,139.87 243.74,139.17 243.77,138.47 243.80,137.78 243.83,137.08 243.87,136.38 243.90,135.69 243.93,134.99 243.97,134.30 244.00,133.60" fill="#c2c2c2"/>
<line x1="244.0" y1="158.5" x2="244.0" y2="176.5" stroke="#6a6a6a" stroke-width="0.8"/>
<polygon points="54.3,263.0 73.0,255.4 92.0,239.0 111.0,214.5 121.0,200.0 132.0,189.5 149.0,183.0 168.0,178.3 187.0,174.7 206.0,172.9 225.0,172.0 244.0,171.5 263.5,171.1 263.5,176.1 244.0,176.5 225.0,177.0 206.0,178.1 187.0,180.3 168.0,184.7 149.0,192.0 132.0,203.5 121.0,216.0 111.0,228.5 92.0,248.0 73.0,259.0 54.3,265.6" fill="#fff59a" opacity="0.8"/>
<path d="M121.0,208.0 C122.8,206.1 127.3,199.9 132.0,196.5 C136.7,193.1 143.0,190.0 149.0,187.5 C155.0,185.0 161.7,183.2 168.0,181.5 C174.3,179.8 180.7,178.5 187.0,177.5 C193.3,176.5 199.7,176.0 206.0,175.5 C212.3,175.0 218.7,174.8 225.0,174.5 C231.3,174.2 237.6,174.2 244.0,174.0 C250.4,173.8 260.2,173.7 263.5,173.6" fill="none" stroke="#f6de30" stroke-width="1.8" opacity="0.6"/>
<polyline points="92.2,243.0 111.1,221.3 130.8,198.7 148.8,186.1 167.7,178.0" fill="none" stroke="#f4dc18" stroke-width="3.2" stroke-linejoin="round" opacity="0.9"/>
<polyline points="92.2,243.0 111.1,221.3 130.8,198.7 148.8,186.1 167.7,178.0 187.1,173.8 206.0,171.5 225.0,170.4 244.0,170.0 263.5,169.8" fill="none" stroke="#d9262a" stroke-width="1.5" stroke-linejoin="round"/>
<path d="M54.3,264.3 C57.4,263.1 66.7,260.7 73.0,257.2 C79.3,253.7 87.5,247.3 92.0,243.5 C96.5,239.7 98.7,236.0 100.0,234.5" fill="none" stroke="#f4dc18" stroke-width="2.1" stroke-linecap="round"/>
<circle cx="54.2" cy="264.0" r="2.6" fill="#1c1438"/>
<circle cx="73.2" cy="255.2" r="2.6" fill="#1c1438"/>
<circle cx="92.2" cy="238.4" r="2.6" fill="#1c1438"/>
<circle cx="111.1" cy="221.5" r="2.6" fill="#1c1438"/>
<circle cx="130.1" cy="205.9" r="2.6" fill="#1c1438"/>
<circle cx="149.1" cy="187.4" r="2.6" fill="#1c1438"/>
<circle cx="168.1" cy="179.1" r="2.6" fill="#1c1438"/>
<circle cx="187.1" cy="172.9" r="2.6" fill="#1c1438"/>
<circle cx="206.0" cy="171.3" r="2.6" fill="#1c1438"/>
<circle cx="225.0" cy="167.9" r="2.6" fill="#1c1438"/>
<circle cx="244.0" cy="170.2" r="2.6" fill="#1c1438"/>
<rect x="168.6" y="235.9" width="10.2" height="6.6" fill="#c6c6c6"/>
<line x1="173.6" y1="232.6" x2="173.6" y2="245.8" stroke="#555" stroke-width="0.9"/>
<circle cx="173.6" cy="239.2" r="2.2" fill="#1c1438"/>
<text x="185.6" y="245" font-family="Liberation Sans, sans-serif" font-size="10" fill="#333">Col-0 data</text>
<line x1="163" y1="253.9" x2="183.7" y2="253.9" stroke="#d9262a" stroke-width="1.3"/>
<text x="186.4" y="257" font-family="Liberation Sans, sans-serif" font-size="10" fill="#333">best fit</text>
<rect x="168" y="264" width="10.5" height="7.4" fill="#fff3a0"/>
<line x1="163" y1="267.7" x2="183.7" y2="267.7" stroke="#f6de10" stroke-width="1.3"/>
<text x="186.6" y="271.5" font-family="Liberation Sans, sans-serif" font-size="10" fill="#333">100 best fits</text>
</g>
<text x="2.2" y="110.8" font-family="Liberation Sans, sans-serif" font-size="16" font-weight="bold" fill="#111">b</text>
<g id="pc">
<circle cx="366.2" cy="56.6" r="36.9" fill="#d8d8d8" stroke="#28238a" stroke-width="5.4"/>
<circle cx="366.2" cy="56.6" r="36.9" fill="none" stroke="#e8e8f4" stroke-width="0.7"/>
<path d="M345.57,26.01 A36.9,36.9 0 0 0 333.03,40.42" fill="none" stroke="#e6d840" stroke-width="0.8"/>
<path d="M348.31,24.33 L345.05,28.76 L342.82,24.74Z" fill="#e6d840"/>
<path d="M331.75,43.38 L331.40,37.88 L335.69,39.53Z" fill="#e6d840"/>
<path d="M398.63,38.99 A36.9,36.9 0 0 0 382.95,23.72" fill="none" stroke="#e6d840" stroke-width="0.8"/>
<path d="M400.04,41.89 L395.94,38.22 L400.16,36.38Z" fill="#e6d840"/>
<path d="M380.02,22.39 L385.52,22.13 L383.80,26.39Z" fill="#e6d840"/>
<path d="M332.23,71.02 A36.9,36.9 0 0 0 342.98,85.28" fill="none" stroke="#e6d840" stroke-width="0.8"/>
<path d="M331.11,68.00 L334.84,72.05 L330.46,73.47Z" fill="#e6d840"/>
<path d="M345.57,87.19 L340.13,86.30 L342.71,82.49Z" fill="#e6d840"/>
<path d="M384.65,88.56 A36.9,36.9 0 0 0 398.16,75.05" fill="none" stroke="#e6d840" stroke-width="0.8"/>
<path d="M381.79,90.04 L385.35,85.85 L387.30,90.01Z" fill="#e6d840"/>
<path d="M399.64,72.19 L399.61,77.70 L395.45,75.75Z" fill="#e6d840"/>
<line x1="340.4" y1="31.3" x2="365.6" y2="57.8" stroke="#111" stroke-width="0.8"/>
<text x="353.6" y="43.9" font-family="Liberation Sans, sans-serif" font-size="10" fill="#333">R</text>
<text x="364.5" y="66.4" font-family="Liberation Sans, sans-serif" font-size="10" fill="#333">P</text>
<text x="344.6" y="78" font-family="Liberation Sans, sans-serif" font-size="10" fill="#333">(pressure)</text>
<text x="366.2" y="15.4" font-family="Liberation Sans, sans-serif" font-size="10" fill="#333">K (bulk rigidity)</text>
<text x="305" y="29.7" font-family="Liberation Sans, sans-serif" font-size="10" fill="#3a3aa0">Testa</text>
<line x1="318" y1="33.9" x2="327.6" y2="47.2" stroke="#3a3aa0" stroke-width="0.6"/>
<text x="295.6" y="103.6" font-family="Liberation Sans, sans-serif" font-size="10" fill="#999">Endosperm</text>
<line x1="325.8" y1="90.8" x2="343.9" y2="69.3" stroke="#888" stroke-width="0.6"/>
<text x="397.4" y="99" font-family="Liberation Sans, sans-serif" font-size="10" fill="#333">{σ,ε}</text>
<text x="371.2" y="109.6" font-family="Liberation Sans, sans-serif" font-size="10" fill="#333">(stress &amp; strain)</text>
</g>
<text x="277" y="12.1" font-family="Liberation Sans, sans-serif" font-size="16" font-weight="bold" fill="#111">c</text>
<g id="pd">
<defs><marker id="ah" viewBox="0 0 10 10" refX="10" refY="5" markerWidth="8" markerHeight="6" markerUnits="userSpaceOnUse" orient="auto"><path d="M0,0 L10,5 L0,10Z" fill="#111"/></marker></defs>
<rect x="331.8" y="147.8" width="74.7" height="48.4" fill="none" stroke="#e8303a" stroke-width="1.5" stroke-dasharray="1.5,1.4"/>
<text x="299.6" y="159.8" font-family="Liberation Sans, sans-serif" font-size="11" fill="#111">P</text>
<text x="337.5" y="161.7" font-family="Liberation Sans, sans-serif" font-size="11" fill="#111">σ</text>
<text x="395.8" y="161.9" font-family="Liberation Sans, sans-serif" font-size="11" fill="#111">ε</text>
<text x="429.6" y="160.5" font-family="Liberation Sans, sans-serif" font-size="11" fill="#111">R</text>
<text x="364.4" y="191.8" font-family="Liberation Sans, sans-serif" font-size="11" fill="#111">K</text>
<line x1="311.4" y1="158.4" x2="329.6" y2="158.4" stroke="#111" stroke-width="0.9" marker-end="url(#ah)"/>
<line x1="347.5" y1="158.4" x2="388.6" y2="158.4" stroke="#111" stroke-width="0.9" marker-end="url(#ah)"/>
<line x1="410" y1="158.4" x2="428" y2="158.4" stroke="#111" stroke-width="0.9" marker-end="url(#ah)"/>
<line x1="341.5" y1="168.5" x2="357" y2="183.6" stroke="#111" stroke-width="0.9" marker-end="url(#ah)"/>
<line x1="382.2" y1="184.3" x2="398.4" y2="168.1" stroke="#111" stroke-width="0.8"/>
<line x1="396.2" y1="165.9" x2="400.6" y2="170.3" stroke="#111" stroke-width="0.8"/>
<path d="M435,146 C432,132 410,128.5 388,129 C366,129.5 348,134 341,145.4" fill="none" stroke="#111" stroke-width="0.9" marker-end="url(#ah)"/>
<text x="333.8" y="208.6" font-family="Liberation Sans, sans-serif" font-size="10" fill="#e8303a">type-1 IFFL</text>
</g>
<text x="277" y="131.2" font-family="Liberation Sans, sans-serif" font-size="16" font-weight="bold" fill="#111">d</text>
<g id="pe">
<rect x="479.9" y="12.9" width="173.5" height="170.7" fill="#fff"/>
<defs><clipPath id="ec"><rect x="479.9" y="12.9" width="173.5" height="170.7"/></clipPath><linearGradient id="cb" x1="0" y1="1" x2="0" y2="0"><stop offset="0" stop-color="#7a5c9c"/><stop offset="0.35" stop-color="#7a80b4"/><stop offset="0.6" stop-color="#6aa8b0"/><stop offset="0.85" stop-color="#a8d8a0"/><stop offset="1" stop-color="#f2f0a0"/></linearGradient></defs>
<g clip-path="url(#ec)">
<polyline points="481.8,183.6 481.8,183.6 483.8,183.6 485.7,183.6 487.6,183.6 489.6,183.6 491.5,183.6 493.4,183.6 495.3,183.6 497.3,183.6 499.2,183.6 501.1,183.6 503.1,183.6 505.0,183.6 506.9,183.6 508.8,183.5 510.8,183.5 512.7,183.5 514.6,183.5 516.5,183.5 518.5,183.4 520.4,183.4 522.3,183.4 524.3,183.3 526.2,183.3 528.1,183.3 530.0,183.2 532.0,183.1 533.9,183.1 535.8,183.0 537.7,182.9 539.7,182.8 541.6,182.7 543.5,182.6 545.4,182.5 547.4,182.4 549.3,182.2 551.2,182.1 553.1,182.0 555.1,181.8 557.0,181.6 558.9,181.4 560.8,181.3 562.7,181.1 564.6,180.9 566.6,180.7 568.5,180.4 570.4,180.2 572.3,180.0 574.2,179.8 576.1,179.5 578.0,179.3 580.0,179.0 581.9,178.8 583.8,178.5 585.7,178.3 587.6,178.0 589.5,177.7 591.4,177.5 593.3,177.2 595.2,176.9 597.1,176.6 599.0,176.4 601.0,176.1 602.9,175.8 604.8,175.5 606.7,175.2 608.6,174.9 610.5,174.6 612.4,174.3 614.3,174.0 616.2,173.8 618.1,173.5 620.0,173.2 621.9,172.9 623.8,172.5 625.7,172.2 627.6,171.9 629.5,171.6 631.4,171.3 633.3,171.0 635.2,170.7 637.1,170.4 639.0,170.1 640.9,169.8 642.8,169.5 644.7,169.2 646.6,168.8 648.5,168.5 650.4,168.2 652.3,167.9 653.4,167.7" fill="none" stroke="#b0a8d8" stroke-width="0.55" opacity="0.8"/>
<polyline points="552.0,183.6 552.0,183.6 554.0,183.5 555.9,183.3 557.8,183.2 559.7,183.0 561.6,182.8 563.6,182.7 565.5,182.5 567.4,182.3 569.3,182.1 571.2,181.9 573.1,181.7 575.1,181.5 577.0,181.3 578.9,181.1 580.8,180.9 582.7,180.6 584.6,180.4 586.6,180.2 588.5,179.9 590.4,179.7 592.3,179.5 594.2,179.2 596.1,179.0 598.0,178.7 599.9,178.5 601.8,178.3 603.8,178.0 605.7,177.8 607.6,177.5 609.5,177.2 611.4,177.0 613.3,176.7 615.2,176.5 617.1,176.2 619.0,176.0 620.9,175.7 622.9,175.4 624.8,175.2 626.7,174.9 628.6,174.6 630.5,174.4 632.4,174.1 634.3,173.8 636.2,173.6 638.1,173.3 640.0,173.0 641.9,172.8 643.9,172.5 645.8,172.2 647.7,172.0 649.6,171.7 651.5,171.4 653.4,171.1 653.4,171.1" fill="none" stroke="#b0a8d8" stroke-width="0.55" opacity="0.8"/>
<polyline points="571.5,183.6 571.5,183.6 573.4,183.4 575.4,183.2 577.3,183.1 579.2,182.9 581.1,182.7 583.0,182.5 585.0,182.3 586.9,182.1 588.8,181.9 590.7,181.7 592.6,181.5 594.5,181.3 596.4,181.0 598.4,180.8 600.3,180.6 602.2,180.4 604.1,180.2 606.0,180.0 607.9,179.8 609.9,179.5 611.8,179.3 613.7,179.1 615.6,178.9 617.5,178.6 619.4,178.4 621.3,178.2 623.3,178.0 625.2,177.7 627.1,177.5 629.0,177.3 630.9,177.0 632.8,176.8 634.7,176.6 636.7,176.4 638.6,176.1 640.5,175.9 642.4,175.7 644.3,175.4 646.2,175.2 648.1,175.0 650.0,174.7 652.0,174.5 653.4,174.3" fill="none" stroke="#a0c8b8" stroke-width="0.55" opacity="0.7"/>
<polyline points="589.1,183.6 589.1,183.6 591.0,183.4 592.9,183.2 594.8,183.1 596.7,182.9 598.7,182.7 600.6,182.5 602.5,182.3 604.4,182.1 606.3,181.9 608.3,181.7 610.2,181.5 612.1,181.4 614.0,181.2 615.9,181.0 617.8,180.8 619.8,180.6 621.7,180.4 623.6,180.2 625.5,180.0 627.4,179.8 629.3,179.6 631.3,179.4 633.2,179.2 635.1,179.0 637.0,178.8 638.9,178.6 640.8,178.4 642.8,178.2 644.7,178.0 646.6,177.8 648.5,177.6 650.4,177.4 652.4,177.2 653.4,177.1" fill="none" stroke="#b0a8d8" stroke-width="0.55" opacity="0.8"/>
<polyline points="608.6,183.6 608.6,183.6 610.5,183.4 612.4,183.3 614.3,183.1 616.2,182.9 618.2,182.8 620.1,182.6 622.0,182.4 623.9,182.3 625.8,182.1 627.8,181.9 629.7,181.7 631.6,181.6 633.5,181.4 635.4,181.2 637.4,181.1 639.3,180.9 641.2,180.7 643.1,180.5 645.0,180.4 647.0,180.2 648.9,180.0 650.8,179.9 652.7,179.7 653.4,179.6" fill="none" stroke="#b0a8d8" stroke-width="0.55" opacity="0.8"/>
<polyline points="628.1,183.6 628.1,183.6 630.0,183.4 631.9,183.3 633.8,183.1 635.7,183.0 637.7,182.8 639.6,182.7 641.5,182.5 643.4,182.4 645.4,182.2 647.3,182.1 649.2,181.9 651.1,181.8 653.0,181.6 653.4,181.6" fill="none" stroke="#acd4ac" stroke-width="0.55" opacity="0.7"/>
<polyline points="583.2,176.8 585.1,176.5 587.0,176.2 588.9,175.9 590.8,175.6 592.7,175.3 594.6,175.0 596.5,174.7 598.4,174.3 600.3,174.0 602.2,173.7 604.1,173.4 606.0,173.1 607.9,172.7 609.8,172.4 611.7,172.1 613.6,171.7 615.5,171.4 617.4,171.1 619.3,170.7 621.2,170.4 623.1,170.0 625.0,169.7 626.9,169.4 628.8,169.0 630.7,168.7 632.6,168.3 634.5,168.0 636.4,167.6 638.3,167.3 640.1,166.9 642.0,166.6 643.9,166.2 645.8,165.9 647.7,165.5 649.6,165.1 651.5,164.8 653.4,164.4 653.4,164.4" fill="none" stroke="#b0a8d8" stroke-width="0.55" opacity="0.8"/>
<polyline points="485.6,179.9 487.5,180.1 489.4,180.3 491.4,180.3 493.3,180.4 495.2,180.5 497.1,180.5 499.1,180.5 501.0,180.6 502.9,180.6 504.8,180.6 506.8,180.6 508.7,180.6 510.6,180.6 512.6,180.6 514.5,180.6 516.4,180.6 518.3,180.6 520.3,180.6 522.2,180.5 524.1,180.5 526.1,180.5 528.0,180.4 529.9,180.3 531.8,180.3 533.8,180.2 535.7,180.1 537.6,180.0 539.5,179.9 541.5,179.8 543.4,179.7 545.3,179.5 547.2,179.4 549.1,179.2 551.1,179.0 553.0,178.9 554.9,178.7 556.8,178.5 558.7,178.2 560.6,178.0 562.6,177.8 564.5,177.5 566.4,177.3 568.3,177.0 570.2,176.7 572.1,176.4 574.0,176.2 575.9,175.9 577.8,175.6 579.7,175.2 581.6,174.9 583.5,174.6 585.4,174.3 587.3,174.0 589.2,173.6 591.1,173.3 593.0,172.9 594.9,172.6 596.8,172.2 598.7,171.9 600.6,171.5 602.5,171.2 604.4,170.8 606.3,170.4 608.1,170.1 610.0,169.7 611.9,169.3 613.8,168.9 615.7,168.5 617.6,168.2 619.5,167.8 621.4,167.4 623.3,167.0 625.1,166.6 627.0,166.2 628.9,165.8 630.8,165.4 632.7,165.0 634.6,164.6 636.5,164.2 638.3,163.8 640.2,163.4 642.1,163.0 644.0,162.6 645.9,162.2 647.8,161.8 649.6,161.4 651.5,161.0 653.4,160.6 653.4,160.6" fill="none" stroke="#acd4ac" stroke-width="0.55" opacity="0.7"/>
<polyline points="570.6,174.9 572.5,174.5 574.4,174.2 576.3,173.9 578.2,173.5 580.1,173.2 582.0,172.8 583.9,172.5 585.8,172.1 587.7,171.8 589.6,171.4 591.5,171.0 593.3,170.6 595.2,170.2 597.1,169.8 599.0,169.4 600.9,169.0 602.8,168.6 604.7,168.2 606.5,167.8 608.4,167.4 610.3,167.0 612.2,166.6 614.1,166.1 615.9,165.7 617.8,165.3 619.7,164.8 621.6,164.4 623.4,164.0 625.3,163.5 627.2,163.1 629.1,162.7 630.9,162.2 632.8,161.8 634.7,161.3 636.6,160.9 638.4,160.4 640.3,160.0 642.2,159.5 644.0,159.0 645.9,158.6 647.8,158.1 649.7,157.7 651.5,157.2 653.4,156.7 653.4,156.7" fill="none" stroke="#a0c8b8" stroke-width="0.55" opacity="0.7"/>
<polyline points="582.4,170.8 584.3,170.4 586.2,170.0 588.1,169.6 590.0,169.2 591.9,168.7 593.7,168.3 595.6,167.9 597.5,167.5 599.4,167.0 601.2,166.6 603.1,166.1 605.0,165.7 606.9,165.2 608.7,164.7 610.6,164.3 612.5,163.8 614.3,163.3 616.2,162.9 618.1,162.4 619.9,161.9 621.8,161.4 623.7,160.9 625.5,160.5 627.4,160.0 629.2,159.5 631.1,159.0 633.0,158.5 634.8,158.0 636.7,157.5 638.5,157.0 640.4,156.5 642.3,156.0 644.1,155.5 646.0,155.0 647.8,154.5 649.7,153.9 651.5,153.4 653.4,152.9 653.4,152.9" fill="none" stroke="#a8a0d0" stroke-width="0.55" opacity="0.8"/>
<polyline points="590.4,167.0 592.3,166.5 594.2,166.0 596.0,165.6 597.9,165.1 599.8,164.6 601.6,164.1 603.5,163.6 605.4,163.1 607.2,162.6 609.1,162.1 610.9,161.6 612.8,161.1 614.6,160.6 616.5,160.0 618.3,159.5 620.2,159.0 622.0,158.5 623.9,157.9 625.7,157.4 627.6,156.9 629.4,156.3 631.3,155.8 633.1,155.2 635.0,154.7 636.8,154.1 638.7,153.6 640.5,153.0 642.4,152.5 644.2,151.9 646.0,151.3 647.9,150.8 649.7,150.2 651.6,149.6 653.4,149.1 653.4,149.1" fill="none" stroke="#b0a8d8" stroke-width="0.55" opacity="0.8"/>
<polyline points="494.0,172.2 495.7,173.1 497.6,173.5 499.5,173.8 501.4,174.1 503.3,174.3 505.2,174.4 507.1,174.5 509.1,174.6 511.0,174.7 512.9,174.8 514.8,174.8 516.8,174.9 518.7,174.9 520.6,174.9 522.5,174.9 524.5,174.9 526.4,174.9 528.3,174.8 530.3,174.8 532.2,174.7 534.1,174.6 536.0,174.5 538.0,174.4 539.9,174.2 541.8,174.1 543.7,173.9 545.6,173.7 547.6,173.5 549.5,173.3 551.4,173.1 553.3,172.8 555.2,172.5 557.1,172.2 559.0,171.9 560.9,171.6 562.8,171.3 564.7,170.9 566.6,170.5 568.5,170.2 570.4,169.8 572.2,169.4 574.1,169.0 576.0,168.5 577.9,168.1 579.8,167.6 581.6,167.2 583.5,166.7 585.4,166.2 587.2,165.8 589.1,165.3 590.9,164.8 592.8,164.3 594.7,163.8 596.5,163.2 598.4,162.7 600.2,162.2 602.1,161.7 603.9,161.1 605.8,160.6 607.6,160.0 609.5,159.5 611.3,158.9 613.1,158.4 615.0,157.8 616.8,157.2 618.7,156.7 620.5,156.1 622.3,155.5 624.2,154.9 626.0,154.3 627.8,153.7 629.7,153.2 631.5,152.6 633.3,152.0 635.2,151.4 637.0,150.8 638.8,150.2 640.6,149.5 642.5,148.9 644.3,148.3 646.1,147.7 647.9,147.1 649.8,146.5 651.6,145.9 653.4,145.2 653.4,145.2" fill="none" stroke="#b8b0dc" stroke-width="0.55" opacity="0.8"/>
<polyline points="582.2,165.2 584.1,164.7 586.0,164.2 587.8,163.7 589.7,163.1 591.5,162.6 593.4,162.0 595.2,161.5 597.0,160.9 598.9,160.4 600.7,159.8 602.6,159.2 604.4,158.6 606.2,158.0 608.1,157.4 609.9,156.8 611.7,156.2 613.5,155.6 615.4,155.0 617.2,154.4 619.0,153.8 620.8,153.2 622.6,152.5 624.5,151.9 626.3,151.3 628.1,150.6 629.9,150.0 631.7,149.3 633.5,148.7 635.3,148.0 637.2,147.4 639.0,146.7 640.8,146.1 642.6,145.4 644.4,144.7 646.2,144.1 648.0,143.4 649.8,142.7 651.6,142.1 653.4,141.4 653.4,141.4" fill="none" stroke="#a0c8b8" stroke-width="0.55" opacity="0.7"/>
<polyline points="595.8,159.2 597.6,158.6 599.4,158.0 601.3,157.4 603.1,156.8 604.9,156.1 606.7,155.5 608.5,154.8 610.3,154.2 612.1,153.6 614.0,152.9 615.8,152.2 617.6,151.6 619.4,150.9 621.2,150.2 623.0,149.6 624.8,148.9 626.6,148.2 628.4,147.5 630.2,146.8 632.0,146.1 633.8,145.4 635.5,144.7 637.3,144.0 639.1,143.3 640.9,142.6 642.7,141.9 644.5,141.2 646.3,140.5 648.1,139.7 649.8,139.0 651.6,138.3 653.4,137.6 653.4,137.6" fill="none" stroke="#a0c8b8" stroke-width="0.55" opacity="0.7"/>
<polyline points="633.9,143.8 635.6,143.0 637.4,142.3 639.2,141.6 641.0,140.9 642.8,140.1 644.5,139.4 646.3,138.6 648.1,137.9 649.9,137.1 651.6,136.4 653.4,135.7 653.4,135.7" fill="none" stroke="#b0a8d8" stroke-width="0.55" opacity="0.8"/>
<polyline points="500.0,165.5 501.0,166.8 501.0,166.8 502.6,167.8 504.4,168.4 506.3,168.9 508.2,169.3 510.1,169.5 512.0,169.8 513.9,170.0 515.8,170.1 517.7,170.2 519.7,170.3 521.6,170.4 523.5,170.4 525.5,170.4 527.4,170.4 529.3,170.4 531.2,170.3 533.2,170.3 535.1,170.2 537.0,170.1 538.9,169.9 540.9,169.7 542.8,169.6 544.7,169.3 546.6,169.1 548.5,168.9 550.4,168.6 552.3,168.3 554.2,167.9 556.1,167.6 558.0,167.2 559.9,166.8 561.8,166.4 563.7,166.0 565.5,165.5 567.4,165.1 569.3,164.6 571.1,164.1 573.0,163.6 574.8,163.1 576.7,162.5 578.5,161.9 580.4,161.4 582.2,160.8 584.0,160.2 585.8,159.6 587.7,159.0 589.5,158.4 591.3,157.7 593.1,157.1 594.9,156.4 596.7,155.8 598.5,155.1 600.3,154.4 602.1,153.7 603.9,153.0 605.7,152.3 607.5,151.6 609.3,150.9 611.1,150.2 612.9,149.5 614.6,148.8 616.4,148.0 618.2,147.3 620.0,146.6 621.8,145.8 623.5,145.1 625.3,144.3 627.1,143.5 628.8,142.8 630.6,142.0 632.3,141.3 634.1,140.5 635.9,139.7 637.6,138.9 639.4,138.1 641.1,137.4 642.9,136.6 644.6,135.8 646.4,135.0 648.2,134.2 649.9,133.4 651.7,132.6 653.4,131.8 653.4,131.8" fill="none" stroke="#a8a0d0" stroke-width="0.55" opacity="0.8"/>
<polyline points="586.6,157.5 588.4,156.9 590.2,156.2 592.0,155.5 593.8,154.8 595.6,154.1 597.4,153.4 599.2,152.7 601.0,152.0 602.8,151.3 604.5,150.5 606.3,149.8 608.1,149.0 609.9,148.3 611.6,147.5 613.4,146.8 615.1,146.0 616.9,145.2 618.7,144.4 620.4,143.6 622.2,142.8 623.9,142.0 625.7,141.2 627.4,140.4 629.1,139.6 630.9,138.8 632.6,138.0 634.4,137.2 636.1,136.3 637.8,135.5 639.6,134.7 641.3,133.9 643.0,133.0 644.8,132.2 646.5,131.4 648.2,130.5 649.9,129.7 651.7,128.8 653.4,128.0 653.4,128.0" fill="none" stroke="#a8a0d0" stroke-width="0.55" opacity="0.8"/>
<polyline points="632.8,136.4 634.5,135.5 636.2,134.7 637.9,133.8 639.7,133.0 641.4,132.1 643.1,131.2 644.8,130.4 646.5,129.5 648.3,128.7 650.0,127.8 651.7,126.9 653.4,126.1 653.4,126.1" fill="none" stroke="#a8a0d0" stroke-width="0.55" opacity="0.8"/>
<polyline points="504.4,162.1 505.6,163.6 507.2,164.6 509.0,165.3 510.8,165.8 512.7,166.2 514.6,166.6 516.5,166.8 518.4,167.0 520.4,167.2 522.3,167.3 524.2,167.4 526.1,167.4 528.1,167.5 530.0,167.4 531.9,167.4 533.9,167.3 535.8,167.2 537.7,167.1 539.6,167.0 541.5,166.8 543.5,166.6 545.4,166.3 547.3,166.1 549.2,165.8 551.1,165.4 553.0,165.1 554.9,164.7 556.8,164.3 558.6,163.9 560.5,163.4 562.4,163.0 564.2,162.5 566.1,162.0 567.9,161.4 569.8,160.9 571.6,160.3 573.4,159.7 575.3,159.1 577.1,158.4 578.9,157.8 580.7,157.1 582.5,156.5 584.3,155.8 586.1,155.1 587.9,154.4 589.7,153.7 591.5,152.9 593.2,152.2 595.0,151.4 596.8,150.7 598.5,149.9 600.3,149.1 602.0,148.3 603.8,147.5 605.5,146.7 607.3,145.9 609.0,145.1 610.7,144.3 612.5,143.5 614.2,142.6 615.9,141.8 617.7,140.9 619.4,140.1 621.1,139.2 622.8,138.3 624.5,137.5 626.2,136.6 628.0,135.7 629.7,134.8 631.4,134.0 633.1,133.1 634.8,132.2 636.5,131.3 638.2,130.4 639.9,129.5 641.6,128.6 643.3,127.7 644.9,126.8 646.6,125.9 648.3,125.0 650.0,124.1 651.7,123.1 653.4,122.2 653.4,122.2" fill="none" stroke="#b0a8d8" stroke-width="0.55" opacity="0.8"/>
<polyline points="590.5,151.5 592.3,150.7 594.1,149.9 595.8,149.1 597.6,148.3 599.3,147.5 601.0,146.7 602.8,145.9 604.5,145.0 606.2,144.2 607.9,143.3 609.7,142.5 611.4,141.6 613.1,140.7 614.8,139.8 616.5,138.9 618.2,138.0 619.9,137.1 621.6,136.2 623.3,135.3 625.0,134.4 626.6,133.5 628.3,132.6 630.0,131.6 631.7,130.7 633.4,129.8 635.0,128.8 636.7,127.9 638.4,127.0 640.1,126.0 641.7,125.1 643.4,124.1 645.1,123.2 646.7,122.2 648.4,121.3 650.1,120.3 651.7,119.3 653.4,118.4 653.4,118.4" fill="none" stroke="#a8a0d0" stroke-width="0.55" opacity="0.8"/>
<polyline points="507.3,159.0 508.3,160.6 509.8,161.8 511.5,162.7 513.3,163.3 515.2,163.8 517.0,164.2 519.0,164.5 520.9,164.7 522.8,164.9 524.7,165.1 526.6,165.1 528.6,165.2 530.5,165.2 532.4,165.2 534.3,165.1 536.3,165.0 538.2,164.9 540.1,164.7 542.0,164.5 543.9,164.3 545.9,164.0 547.8,163.8 549.7,163.4 551.5,163.1 553.4,162.7 555.3,162.3 557.2,161.8 559.1,161.4 560.9,160.9 562.8,160.3 564.6,159.8 566.5,159.2 568.3,158.6 570.1,158.0 571.9,157.4 573.7,156.7 575.5,156.0 577.3,155.4 579.1,154.6 580.9,153.9 582.7,153.2 584.4,152.4 586.2,151.7 588.0,150.9 589.7,150.1 591.5,149.3 593.2,148.5 594.9,147.6 596.7,146.8 598.4,145.9 600.1,145.1 601.8,144.2 603.5,143.3 605.2,142.5 606.9,141.6 608.6,140.7 610.3,139.8 612.0,138.8 613.7,137.9 615.4,137.0 617.1,136.1 618.7,135.1 620.4,134.2 622.1,133.2 623.7,132.3 625.4,131.3 627.1,130.3 628.7,129.4 630.4,128.4 632.0,127.4 633.7,126.4 635.3,125.5 637.0,124.5 638.6,123.5 640.3,122.5 641.9,121.5 643.6,120.5 645.2,119.5 646.8,118.5 648.5,117.5 650.1,116.5 651.8,115.5 653.4,114.6 653.4,114.6" fill="none" stroke="#a8a0d0" stroke-width="0.55" opacity="0.8"/>
<polyline points="627.3,128.8 628.9,127.8 630.6,126.8 632.2,125.8 633.8,124.8 635.5,123.8 637.1,122.8 638.7,121.8 640.4,120.8 642.0,119.7 643.6,118.7 645.3,117.7 646.9,116.7 648.5,115.7 650.1,114.7 651.8,113.7 653.4,112.6 653.4,112.6" fill="none" stroke="#a0c8b8" stroke-width="0.55" opacity="0.7"/>
<polyline points="551.6,161.4 553.5,161.0 555.4,160.6 557.2,160.1 559.1,159.6 560.9,159.1 562.8,158.5 564.6,157.9 566.4,157.3 568.3,156.7 570.1,156.0 571.9,155.4 573.7,154.7 575.5,154.0 577.2,153.2 579.0,152.5 580.8,151.7 582.5,150.9 584.3,150.1 586.0,149.3 587.7,148.5 589.5,147.6 591.2,146.8 592.9,145.9 594.6,145.0 596.3,144.1 598.0,143.2 599.7,142.3 601.4,141.4 603.0,140.4 604.7,139.5 606.4,138.5 608.0,137.6 609.7,136.6 611.4,135.6 613.0,134.7 614.7,133.7 616.3,132.7 617.9,131.7 619.6,130.7 621.2,129.7 622.8,128.6 624.5,127.6 626.1,126.6 627.7,125.6 629.3,124.5 630.9,123.5 632.5,122.5 634.1,121.4 635.8,120.4 637.4,119.3 639.0,118.3 640.6,117.2 642.2,116.2 643.8,115.1 645.4,114.1 647.0,113.0 648.6,112.0 650.2,110.9 651.8,109.9 653.4,108.8 653.4,108.8" fill="none" stroke="#a8a0d0" stroke-width="0.55" opacity="0.8"/>
<polyline points="613.7,131.8 615.3,130.8 616.9,129.8 618.5,128.7 620.1,127.7 621.7,126.6 623.3,125.5 624.9,124.5 626.5,123.4 628.1,122.3 629.7,121.3 631.3,120.2 632.9,119.1 634.5,118.0 636.0,116.9 637.6,115.9 639.2,114.8 640.8,113.7 642.4,112.6 643.9,111.5 645.5,110.4 647.1,109.3 648.7,108.2 650.2,107.1 651.8,106.1 653.4,105.0 653.4,105.0" fill="none" stroke="#b8b0dc" stroke-width="0.55" opacity="0.8"/>
<polyline points="511.8,153.3 512.3,155.1 513.3,156.7 514.8,158.0 516.4,158.9 518.2,159.6 520.1,160.2 521.9,160.6 523.8,160.9 525.8,161.2 527.7,161.3 529.6,161.4 531.5,161.5 533.5,161.5 535.4,161.4 537.3,161.4 539.2,161.2 541.1,161.0 543.1,160.8 545.0,160.6 546.9,160.3 548.8,159.9 550.7,159.5 552.5,159.1 554.4,158.7 556.3,158.2 558.1,157.7 560.0,157.1 561.8,156.5 563.6,155.9 565.4,155.3 567.3,154.6 569.0,153.9 570.8,153.2 572.6,152.5 574.4,151.7 576.1,150.9 577.9,150.1 579.6,149.3 581.3,148.5 583.1,147.6 584.8,146.7 586.5,145.8 588.2,144.9 589.9,144.0 591.5,143.1 593.2,142.1 594.9,141.2 596.5,140.2 598.2,139.2 599.8,138.2 601.5,137.2 603.1,136.2 604.7,135.2 606.3,134.2 608.0,133.2 609.6,132.1 611.2,131.1 612.8,130.0 614.4,128.9 616.0,127.9 617.5,126.8 619.1,125.7 620.7,124.6 622.3,123.5 623.8,122.4 625.4,121.3 627.0,120.2 628.5,119.1 630.1,118.0 631.7,116.9 633.2,115.7 634.8,114.6 636.3,113.5 637.9,112.4 639.4,111.2 641.0,110.1 642.5,109.0 644.1,107.9 645.6,106.7 647.2,105.6 648.7,104.5 650.3,103.4 651.8,102.2 653.4,101.1 653.4,101.1" fill="none" stroke="#b8b0dc" stroke-width="0.55" opacity="0.8"/>
<polyline points="615.1,126.0 616.6,124.9 618.2,123.8 619.7,122.6 621.3,121.5 622.8,120.4 624.4,119.2 625.9,118.1 627.4,117.0 629.0,115.8 630.5,114.7 632.0,113.5 633.6,112.3 635.1,111.2 636.6,110.0 638.1,108.9 639.7,107.7 641.2,106.5 642.7,105.4 644.2,104.2 645.7,103.1 647.3,101.9 648.8,100.7 650.3,99.6 651.9,98.4 653.4,97.3 653.4,97.3" fill="none" stroke="#b0a8d8" stroke-width="0.55" opacity="0.8"/>
<polyline points="514.5,152.0 515.2,153.7 516.3,155.2 517.8,156.4 519.5,157.2 521.3,157.9 523.2,158.4 525.1,158.8 527.0,159.1 528.9,159.3 530.8,159.4 532.8,159.5 534.7,159.5 536.6,159.4 538.5,159.3 540.5,159.2 542.4,159.0 544.3,158.7 546.2,158.4 548.1,158.1 550.0,157.7 551.8,157.3 553.7,156.8 555.6,156.3 557.4,155.8 559.3,155.2 561.1,154.6 562.9,153.9 564.7,153.3 566.5,152.6 568.3,151.8 570.0,151.1 571.8,150.3 573.5,149.5 575.3,148.7 577.0,147.8 578.7,147.0 580.4,146.1 582.1,145.2 583.8,144.2 585.5,143.3 587.1,142.3 588.8,141.4 590.4,140.4 592.1,139.4 593.7,138.3 595.3,137.3 596.9,136.3 598.5,135.2 600.1,134.2 601.7,133.1 603.3,132.0 604.9,130.9 606.4,129.8 608.0,128.7 609.6,127.6 611.1,126.5 612.7,125.3 614.2,124.2 615.7,123.0 617.3,121.9 618.8,120.7 620.3,119.6 621.8,118.4 623.3,117.2 624.9,116.0 626.4,114.9 627.9,113.7 629.4,112.5 630.9,111.3 632.4,110.1 633.9,108.9 635.4,107.7 636.9,106.5 638.4,105.3 639.9,104.1 641.4,102.9 642.9,101.7 644.4,100.6 645.9,99.4 647.4,98.2 648.9,97.0 650.4,95.8 651.9,94.6 653.4,93.5 653.4,93.5" fill="none" stroke="#a8a0d0" stroke-width="0.55" opacity="0.8"/>
<polyline points="598.0,133.7 599.5,132.6 601.1,131.5 602.7,130.4 604.2,129.3 605.8,128.2 607.3,127.0 608.8,125.9 610.4,124.7 611.9,123.5 613.4,122.4 614.9,121.2 616.4,120.0 617.9,118.8 619.4,117.6 620.9,116.4 622.4,115.2 623.9,114.0 625.3,112.8 626.8,111.6 628.3,110.4 629.8,109.1 631.2,107.9 632.7,106.7 634.2,105.5 635.7,104.2 637.1,103.0 638.6,101.8 640.1,100.5 641.5,99.3 643.0,98.1 644.5,96.9 646.0,95.7 647.4,94.4 648.9,93.2 650.4,92.0 651.9,90.8 653.4,89.6 653.4,89.6" fill="none" stroke="#b0a8d8" stroke-width="0.55" opacity="0.8"/>
<polyline points="615.6,118.2 617.1,116.9 618.5,115.7 620.0,114.5 621.5,113.2 622.9,112.0 624.4,110.7 625.8,109.5 627.3,108.2 628.7,107.0 630.2,105.7 631.6,104.5 633.0,103.2 634.5,102.0 635.9,100.7 637.4,99.4 638.8,98.2 640.3,96.9 641.7,95.7 643.2,94.4 644.6,93.2 646.1,91.9 647.5,90.7 649.0,89.5 650.5,88.2 651.9,87.0 653.4,85.8 653.4,85.8" fill="none" stroke="#a8a0d0" stroke-width="0.55" opacity="0.8"/>
<polyline points="517.6,147.2 517.9,149.0 518.6,150.8 519.7,152.3 521.1,153.5 522.8,154.4 524.6,155.2 526.5,155.7 528.3,156.1 530.3,156.3 532.2,156.5 534.1,156.6 536.0,156.6 537.9,156.6 539.9,156.5 541.8,156.3 543.7,156.0 545.6,155.8 547.5,155.4 549.4,155.0 551.3,154.6 553.1,154.1 555.0,153.6 556.8,153.0 558.6,152.4 560.5,151.7 562.3,151.0 564.0,150.3 565.8,149.6 567.6,148.8 569.3,148.0 571.0,147.1 572.7,146.3 574.4,145.4 576.1,144.4 577.8,143.5 579.5,142.5 581.1,141.5 582.7,140.5 584.4,139.5 586.0,138.5 587.6,137.4 589.2,136.4 590.7,135.3 592.3,134.2 593.9,133.1 595.4,131.9 597.0,130.8 598.5,129.6 600.0,128.5 601.5,127.3 603.0,126.1 604.5,124.9 606.0,123.7 607.5,122.5 609.0,121.3 610.5,120.0 611.9,118.8 613.4,117.6 614.8,116.3 616.3,115.1 617.7,113.8 619.1,112.5 620.6,111.3 622.0,110.0 623.4,108.7 624.9,107.4 626.3,106.2 627.7,104.9 629.1,103.6 630.5,102.3 631.9,101.0 633.4,99.7 634.8,98.4 636.2,97.1 637.6,95.9 639.0,94.6 640.4,93.3 641.9,92.0 643.3,90.7 644.7,89.5 646.1,88.2 647.6,86.9 649.0,85.7 650.5,84.4 651.9,83.2 653.4,81.9 653.4,81.9" fill="none" stroke="#b8b0dc" stroke-width="0.55" opacity="0.8"/>
<polyline points="605.5,122.1 606.9,120.8 608.4,119.6 609.8,118.3 611.2,117.1 612.7,115.8 614.1,114.5 615.5,113.2 616.9,111.9 618.3,110.6 619.7,109.3 621.1,108.0 622.5,106.7 623.9,105.4 625.3,104.1 626.7,102.8 628.1,101.5 629.5,100.1 630.9,98.8 632.3,97.5 633.6,96.2 635.0,94.9 636.4,93.6 637.8,92.2 639.2,90.9 640.6,89.6 642.0,88.3 643.4,87.0 644.8,85.7 646.2,84.4 647.6,83.2 649.1,81.9 650.5,80.6 651.9,79.4 653.4,78.1 653.4,78.1" fill="none" stroke="#b8b0dc" stroke-width="0.55" opacity="0.8"/>
<polyline points="547.4,153.7 549.3,153.3 551.2,152.8 553.0,152.3 554.9,151.8 556.7,151.2 558.5,150.5 560.3,149.8 562.1,149.1 563.9,148.4 565.6,147.6 567.3,146.7 569.1,145.9 570.8,145.0 572.5,144.1 574.1,143.1 575.8,142.2 577.4,141.2 579.1,140.2 580.7,139.1 582.3,138.1 583.9,137.0 585.4,135.9 587.0,134.8 588.6,133.7 590.1,132.6 591.6,131.4 593.1,130.2 594.7,129.0 596.1,127.8 597.6,126.6 599.1,125.4 600.6,124.2 602.0,122.9 603.5,121.7 604.9,120.4 606.3,119.2 607.8,117.9 609.2,116.6 610.6,115.3 612.0,114.0 613.4,112.7 614.8,111.4 616.2,110.1 617.6,108.7 618.9,107.4 620.3,106.1 621.7,104.7 623.0,103.4 624.4,102.0 625.8,100.7 627.1,99.4 628.5,98.0 629.8,96.7 631.2,95.3 632.5,94.0 633.9,92.6 635.3,91.3 636.6,89.9 638.0,88.6 639.4,87.3 640.7,85.9 642.1,84.6 643.5,83.3 644.9,82.0 646.3,80.7 647.7,79.4 649.1,78.1 650.5,76.8 652.0,75.5 653.4,74.3 653.4,74.3" fill="none" stroke="#b0a8d8" stroke-width="0.55" opacity="0.8"/>
<polyline points="607.2,116.2 608.6,114.9 610.0,113.5 611.4,112.2 612.7,110.9 614.1,109.5 615.4,108.2 616.8,106.8 618.1,105.5 619.5,104.1 620.8,102.7 622.2,101.4 623.5,100.0 624.8,98.6 626.2,97.3 627.5,95.9 628.8,94.5 630.1,93.1 631.5,91.8 632.8,90.4 634.1,89.0 635.5,87.6 636.8,86.3 638.1,84.9 639.5,83.6 640.8,82.2 642.2,80.9 643.6,79.5 644.9,78.2 646.3,76.9 647.7,75.6 649.1,74.3 650.5,73.0 652.0,71.7 653.4,70.4 653.4,70.4" fill="none" stroke="#acd4ac" stroke-width="0.55" opacity="0.7"/>
<polyline points="572.3,141.9 574.0,140.9 575.6,139.9 577.2,138.9 578.8,137.8 580.4,136.7 582.0,135.6 583.5,134.5 585.1,133.3 586.6,132.2 588.1,131.0 589.6,129.8 591.1,128.6 592.6,127.4 594.0,126.1 595.5,124.9 596.9,123.6 598.3,122.3 599.8,121.1 601.2,119.8 602.6,118.4 603.9,117.1 605.3,115.8 606.7,114.5 608.0,113.1 609.4,111.8 610.7,110.4 612.1,109.0 613.4,107.7 614.7,106.3 616.1,104.9 617.4,103.5 618.7,102.1 620.0,100.8 621.3,99.4 622.6,98.0 623.9,96.6 625.2,95.2 626.5,93.8 627.8,92.3 629.1,90.9 630.4,89.5 631.7,88.1 633.0,86.7 634.3,85.3 635.6,84.0 636.9,82.6 638.2,81.2 639.6,79.8 640.9,78.4 642.2,77.1 643.6,75.7 645.0,74.4 646.3,73.0 647.7,71.7 649.1,70.4 650.5,69.1 652.0,67.9 653.4,66.6 653.4,66.6" fill="none" stroke="#d8e6a0" stroke-width="0.55" opacity="0.7"/>
<polyline points="600.8,118.1 602.1,116.8 603.5,115.5 604.8,114.1 606.2,112.7 607.5,111.4 608.8,110.0 610.2,108.6 611.5,107.2 612.8,105.8 614.1,104.4 615.4,103.0 616.6,101.6 617.9,100.2 619.2,98.8 620.5,97.3 621.7,95.9 623.0,94.5 624.3,93.0 625.5,91.6 626.8,90.2 628.1,88.8 629.3,87.3 630.6,85.9 631.9,84.5 633.2,83.0 634.4,81.6 635.7,80.2 637.0,78.8 638.3,77.4 639.6,76.0 640.9,74.6 642.3,73.3 643.6,71.9 645.0,70.5 646.3,69.2 647.7,67.9 649.1,66.6 650.5,65.3 651.9,64.0 653.4,62.8 653.4,62.8" fill="none" stroke="#b8b0dc" stroke-width="0.55" opacity="0.8"/>
<polyline points="610.8,105.4 612.1,103.9 613.4,102.5 614.6,101.1 615.9,99.6 617.1,98.2 618.4,96.7 619.6,95.3 620.9,93.8 622.1,92.4 623.3,90.9 624.6,89.5 625.8,88.0 627.0,86.5 628.3,85.1 629.5,83.6 630.7,82.2 632.0,80.7 633.2,79.3 634.5,77.8 635.8,76.4 637.0,75.0 638.3,73.6 639.6,72.2 640.9,70.8 642.2,69.4 643.6,68.0 644.9,66.6 646.3,65.3 647.6,64.0 649.1,62.7 650.5,61.4 651.9,60.2 653.4,58.9 653.4,58.9" fill="none" stroke="#a8a0d0" stroke-width="0.55" opacity="0.8"/>
<polyline points="524.3,140.8 524.5,142.6 525.1,144.4 526.1,146.0 527.5,147.4 529.1,148.4 530.9,149.1 532.7,149.7 534.6,150.0 536.5,150.3 538.4,150.3 540.4,150.3 542.3,150.2 544.2,150.0 546.1,149.7 548.0,149.3 549.9,148.8 551.7,148.3 553.6,147.8 555.4,147.1 557.2,146.5 559.0,145.7 560.7,145.0 562.5,144.1 564.2,143.3 565.9,142.4 567.6,141.4 569.2,140.5 570.9,139.5 572.5,138.4 574.1,137.4 575.6,136.3 577.2,135.2 578.8,134.0 580.3,132.9 581.8,131.7 583.3,130.5 584.8,129.3 586.2,128.0 587.7,126.8 589.1,125.5 590.5,124.2 591.9,122.9 593.3,121.6 594.7,120.3 596.0,118.9 597.4,117.6 598.7,116.2 600.0,114.8 601.3,113.4 602.6,112.0 603.9,110.6 605.2,109.2 606.5,107.8 607.7,106.3 609.0,104.9 610.2,103.5 611.5,102.0 612.7,100.5 613.9,99.1 615.2,97.6 616.4,96.1 617.6,94.7 618.8,93.2 620.0,91.7 621.2,90.2 622.4,88.7 623.6,87.2 624.8,85.8 626.0,84.3 627.2,82.8 628.4,81.3 629.6,79.8 630.8,78.3 632.0,76.9 633.2,75.4 634.5,74.0 635.7,72.5 637.0,71.1 638.2,69.6 639.5,68.2 640.8,66.8 642.1,65.4 643.4,64.0 644.8,62.7 646.2,61.3 647.6,60.0 649.0,58.8 650.4,57.5 651.9,56.3 653.4,55.1 653.4,55.1" fill="none" stroke="#acd4ac" stroke-width="0.55" opacity="0.7"/>
<polyline points="610.8,100.0 612.0,98.5 613.2,97.0 614.4,95.5 615.6,94.0 616.7,92.5 617.9,91.0 619.1,89.5 620.2,88.0 621.4,86.5 622.6,85.0 623.7,83.4 624.9,81.9 626.0,80.4 627.2,78.9 628.4,77.4 629.6,75.9 630.7,74.4 631.9,72.9 633.1,71.4 634.3,69.9 635.5,68.5 636.8,67.0 638.0,65.6 639.3,64.1 640.6,62.7 641.9,61.3 643.2,60.0 644.6,58.6 646.0,57.3 647.4,56.0 648.8,54.8 650.3,53.6 651.8,52.4 653.4,51.3 653.4,51.3" fill="none" stroke="#b8b0dc" stroke-width="0.55" opacity="0.8"/>
<polyline points="572.7,135.9 574.3,134.8 575.8,133.6 577.4,132.4 578.9,131.2 580.3,130.0 581.8,128.8 583.2,127.5 584.7,126.3 586.1,125.0 587.5,123.6 588.8,122.3 590.2,121.0 591.5,119.6 592.9,118.2 594.2,116.8 595.5,115.4 596.8,114.0 598.0,112.6 599.3,111.2 600.5,109.7 601.8,108.3 603.0,106.8 604.2,105.3 605.4,103.8 606.6,102.4 607.8,100.9 609.0,99.4 610.1,97.8 611.3,96.3 612.4,94.8 613.6,93.3 614.7,91.8 615.9,90.2 617.0,88.7 618.1,87.1 619.2,85.6 620.4,84.1 621.5,82.5 622.6,81.0 623.7,79.4 624.8,77.9 625.9,76.3 627.1,74.8 628.2,73.3 629.3,71.7 630.5,70.2 631.7,68.7 632.8,67.2 634.0,65.7 635.2,64.2 636.4,62.7 637.7,61.3 638.9,59.8 640.2,58.4 641.5,57.1 642.9,55.7 644.3,54.4 645.7,53.1 647.2,51.9 648.7,50.7 650.2,49.5 651.8,48.4 653.4,47.4 653.4,47.4" fill="none" stroke="#a8a0d0" stroke-width="0.55" opacity="0.8"/>
<polyline points="636.2,60.5 637.4,59.0 638.7,57.6 639.9,56.2 641.3,54.8 642.6,53.5 644.0,52.2 645.5,50.9 647.0,49.7 648.5,48.6 650.1,47.5 651.7,46.5 653.4,45.5 653.4,45.5" fill="none" stroke="#b0a8d8" stroke-width="0.55" opacity="0.8"/>
<polyline points="527.8,138.3 528.2,140.2 529.0,141.9 530.1,143.4 531.6,144.6 533.3,145.5 535.1,146.1 537.0,146.5 538.9,146.7 540.9,146.8 542.8,146.7 544.7,146.5 546.6,146.2 548.5,145.8 550.4,145.3 552.2,144.8 554.0,144.2 555.8,143.5 557.6,142.7 559.3,141.9 561.1,141.1 562.8,140.2 564.4,139.2 566.1,138.3 567.7,137.2 569.3,136.2 570.9,135.1 572.4,134.0 574.0,132.8 575.5,131.6 576.9,130.4 578.4,129.2 579.9,127.9 581.3,126.6 582.7,125.3 584.1,124.0 585.4,122.7 586.8,121.3 588.1,119.9 589.4,118.6 590.7,117.2 592.0,115.7 593.3,114.3 594.5,112.9 595.7,111.4 597.0,109.9 598.2,108.4 599.4,107.0 600.5,105.5 601.7,103.9 602.8,102.4 604.0,100.9 605.1,99.4 606.2,97.8 607.3,96.3 608.4,94.7 609.5,93.1 610.6,91.6 611.7,90.0 612.8,88.4 613.8,86.8 614.9,85.2 615.9,83.6 617.0,82.0 618.0,80.5 619.0,78.9 620.1,77.3 621.1,75.7 622.1,74.1 623.2,72.5 624.2,70.9 625.3,69.3 626.3,67.7 627.4,66.1 628.4,64.5 629.5,62.9 630.6,61.4 631.7,59.8 632.9,58.3 634.1,56.8 635.3,55.3 636.5,53.9 637.8,52.4 639.1,51.1 640.5,49.7 641.9,48.5 643.4,47.3 644.9,46.1 646.5,45.1 648.2,44.1 649.9,43.2 651.6,42.4 653.4,41.7 653.4,41.7" fill="none" stroke="#b8b0dc" stroke-width="0.55" opacity="0.8"/>
<polyline points="618.7,75.9 619.7,74.3 620.7,72.7 621.7,71.1 622.7,69.4 623.7,67.8 624.7,66.2 625.7,64.6 626.8,63.0 627.8,61.4 628.8,59.8 629.9,58.2 631.0,56.7 632.1,55.1 633.3,53.6 634.5,52.1 635.7,50.7 637.0,49.3 638.4,47.9 639.8,46.6 641.3,45.4 642.9,44.3 644.5,43.3 646.2,42.4 647.9,41.6 649.7,40.9 651.6,40.3 653.4,39.8 653.4,39.8" fill="none" stroke="#a8a0d0" stroke-width="0.55" opacity="0.8"/>
<polyline points="572.2,131.9 573.7,130.7 575.1,129.5 576.6,128.3 578.0,127.0 579.4,125.7 580.8,124.4 582.1,123.0 583.5,121.7 584.8,120.3 586.1,118.9 587.4,117.5 588.6,116.0 589.9,114.6 591.1,113.1 592.3,111.6 593.5,110.1 594.7,108.6 595.8,107.1 597.0,105.6 598.1,104.1 599.2,102.5 600.3,100.9 601.4,99.4 602.5,97.8 603.5,96.2 604.6,94.6 605.6,93.0 606.6,91.4 607.7,89.8 608.6,88.2 609.6,86.5 610.6,84.9 611.6,83.3 612.6,81.6 613.5,80.0 614.5,78.3 615.4,76.7 616.3,75.0 617.3,73.4 618.2,71.7 619.1,70.0 620.0,68.4 621.0,66.7 621.9,65.0 622.8,63.4 623.7,61.7 624.7,60.1 625.6,58.4 626.6,56.8 627.6,55.1 628.6,53.5 629.6,51.9 630.7,50.4 631.9,48.8 633.1,47.4 634.4,45.9 635.7,44.6 637.2,43.4 638.8,42.3 640.5,41.4 642.2,40.6 644.0,39.9 645.8,39.3 647.7,38.9 649.6,38.5 651.5,38.1 653.4,37.8 653.4,37.8" fill="none" stroke="#acd4ac" stroke-width="0.55" opacity="0.7"/>
<polyline points="639.1,27.6 639.2,29.5 639.7,31.3 640.7,32.9 642.1,34.1 643.9,34.9 645.7,35.4 647.6,35.6 649.5,35.8 651.5,35.9 653.4,35.9 653.4,35.9" fill="none" stroke="#a8a0d0" stroke-width="0.55" opacity="0.8"/>
<polyline points="483.8,181.7 485.7,181.8 487.6,181.9 489.6,181.9 491.5,181.9 493.4,182.0 495.4,182.0 497.3,182.0 499.2,182.0 501.1,182.0 503.1,182.0 505.0,182.0 506.9,182.0 508.9,182.0 510.8,182.0 512.7,182.0 514.6,182.0 516.6,182.0 518.5,182.0 520.4,181.9 522.3,181.9 524.3,181.9 526.2,181.8 528.1,181.8 530.1,181.7 532.0,181.6 533.9,181.6 535.8,181.5 537.8,181.4 539.7,181.3 541.6,181.2" fill="none" stroke="#b8b0dc" stroke-width="0.55" opacity="0.8"/>
<polyline points="629.6,65.9 630.7,64.3 631.9,62.8 633.0,61.3 634.2,59.8 635.4,58.3 636.6,56.8 637.9,55.4 639.2,54.0 640.5,52.6 641.9,51.3 643.3,50.0 644.8,48.8 646.3,47.6 647.9,46.5 649.5,45.5" fill="none" stroke="#a8a0d0" stroke-width="0.55" opacity="0.8"/>
<polyline points="642.7,23.9 642.8,25.8 643.1,27.7 643.7,29.5 644.7,31.1 646.0,32.4 647.7,33.4 649.5,34.0 651.4,34.4 653.3,34.7 653.4,34.7" fill="none" stroke="#b8b0dc" stroke-width="0.55" opacity="0.8"/>
<polyline points="487.8,177.3 489.6,177.8 491.6,178.1 493.5,178.3 495.4,178.4 497.3,178.5 499.3,178.6 501.2,178.6 503.1,178.7 505.0,178.7 507.0,178.8 508.9,178.8 510.8,178.8" fill="none" stroke="#a8a0d0" stroke-width="0.55" opacity="0.8"/>
<polyline points="513.0,177.8 515.0,177.9 516.9,177.9 518.8,177.9 520.8,177.8 522.7,177.8 524.6,177.8 526.5,177.8 528.5,177.7 530.4,177.6 532.3,177.6 534.2,177.5 536.2,177.4 538.1,177.3 540.0,177.2 541.9,177.0 543.9,176.9 545.8,176.7 547.7,176.5 549.6,176.3 551.5,176.1 553.4,175.9 555.4,175.7 557.3,175.4 559.2,175.2 561.1,174.9 563.0,174.6 564.9,174.3 566.8,174.0 568.7,173.7" fill="none" stroke="#a0c8b8" stroke-width="0.55" opacity="0.7"/>
<polyline points="490.5,174.4 491.7,175.2 491.7,175.2 493.6,175.6 495.5,175.9 497.4,176.1 499.3,176.3 501.3,176.4 503.2,176.5 505.1,176.6 507.0,176.7 509.0,176.7 510.9,176.8 512.8,176.8 514.7,176.8 516.7,176.8 518.6,176.9 520.5,176.8 522.5,176.8 524.4,176.8 526.3,176.8 528.2,176.7 530.2,176.7 532.1,176.6 534.0,176.5 535.9,176.4 537.9,176.3 539.8,176.2 541.7,176.0" fill="none" stroke="#b8b0dc" stroke-width="0.55" opacity="0.8"/>
<polyline points="604.8,91.5 605.8,89.8 606.8,88.2 607.7,86.6 608.7,84.9 609.6,83.2 610.5,81.6 611.5,79.9 612.4,78.2 613.3,76.6 614.1,74.9 615.0,73.2 615.9,71.5 616.8,69.8 617.6,68.1 618.5,66.4 619.3,64.7 620.2,63.0 621.0,61.3 621.9,59.6 622.7,57.9 623.6,56.2 624.4,54.5 625.3,52.8 626.2,51.1 627.2,49.5 628.2,47.8 629.2,46.3 630.3,44.7 631.6,43.3 633.0,42.0 634.6,40.9 636.3,40.0 638.1,39.3 639.9,38.8 641.8,38.4 643.7,38.1 645.6,37.8 647.5,37.6" fill="none" stroke="#d8e6a0" stroke-width="0.55" opacity="0.7"/>
<polyline points="627.9,57.9 628.9,56.3 630.0,54.7 631.1,53.2 632.2,51.6 633.4,50.1 634.6,48.7 635.9,47.3 637.3,45.9 638.8,44.7 640.3,43.6 642.0,42.6 643.7,41.7" fill="none" stroke="#b8b0dc" stroke-width="0.55" opacity="0.8"/>
<polyline points="496.2,169.6 497.7,170.7 499.5,171.3 501.4,171.8 503.3,172.1 505.2,172.3 507.1,172.5 509.0,172.7 511.0,172.8 512.9,172.9 514.8,173.0" fill="none" stroke="#b8b0dc" stroke-width="0.55" opacity="0.8"/>
<polyline points="516.9,172.1 518.9,172.2 520.8,172.2 522.7,172.2 524.6,172.2 526.6,172.2 528.5,172.2 530.4,172.1 532.4,172.1 534.3,172.0 536.2,171.9 538.1,171.7 540.1,171.6 542.0,171.4 543.9,171.2 545.8,171.0 547.7,170.8 549.6,170.5 551.5,170.3 553.4,170.0 555.3,169.6 557.2,169.3 559.1,169.0 561.0,168.6 562.9,168.2 564.8,167.8 566.7,167.4 568.6,166.9 570.4,166.5 572.3,166.0 574.2,165.5 576.0,165.0 577.9,164.5 579.7,164.0" fill="none" stroke="#acd4ac" stroke-width="0.55" opacity="0.7"/>
<polyline points="565.7,172.4 567.6,172.1 569.5,171.7 571.4,171.4 573.3,171.0 575.2,170.6 577.1,170.2 579.0,169.8 580.8,169.4 582.7,169.0 584.6,168.5 586.5,168.1" fill="none" stroke="#b8b0dc" stroke-width="0.55" opacity="0.8"/>
<polyline points="502.4,164.5 503.8,165.7 505.5,166.6 507.4,167.2 509.2,167.6 511.1,168.0 513.0,168.3 515.0,168.5 516.9,168.7 518.8,168.8 520.7,168.9" fill="none" stroke="#b8b0dc" stroke-width="0.55" opacity="0.8"/>
<polyline points="560.0,165.3 561.9,164.9 563.7,164.4 565.6,163.9 567.5,163.4 569.3,162.9 571.2,162.4 573.0,161.8 574.8,161.3 576.7,160.7 578.5,160.1 580.3,159.5 582.2,158.9 584.0,158.2" fill="none" stroke="#b8b0dc" stroke-width="0.55" opacity="0.8"/>
<polyline points="623.0,54.9 623.8,53.2 624.7,51.5 625.5,49.8 626.4,48.1 627.3,46.4 628.3,44.8 629.4,43.2 630.7,41.8 632.2,40.6 633.9,39.8" fill="none" stroke="#b8b0dc" stroke-width="0.55" opacity="0.8"/>
<polyline points="509.5,156.9 510.4,158.5 511.7,159.8 513.4,160.8 515.2,161.5 517.0,162.1 518.9,162.5 520.8,162.8 522.7,163.1 524.6,163.3 526.5,163.4" fill="none" stroke="#b8b0dc" stroke-width="0.55" opacity="0.8"/>
<polyline points="528.8,163.1 530.7,163.1 532.7,163.1 534.6,163.1 536.5,163.0 538.4,162.9 540.4,162.7 542.3,162.5 544.2,162.3 546.1,162.0 548.0,161.7 549.9,161.3" fill="none" stroke="#b0a8d8" stroke-width="0.55" opacity="0.8"/>
<polyline points="612.5,74.1 613.3,72.4 614.1,70.7 614.9,69.0 615.7,67.3 616.5,65.5 617.3,63.8 618.0,62.0 618.8,60.3 619.5,58.5 620.3,56.8 621.0,55.0 621.7,53.3 622.4,51.5 623.1,49.8 623.9,48.0 624.6,46.2 625.3,44.5 626.1,42.7 626.9,41.2 628.1,39.8 628.1,39.8 629.3,39.3 630.6,39.0 632.5,38.7 634.4,38.4 636.3,38.2 638.2,38.0 640.1,37.8" fill="none" stroke="#a0c8b8" stroke-width="0.55" opacity="0.7"/>
<polyline points="618.5,83.3 619.6,81.8 620.7,80.2 621.8,78.6 622.9,77.1 623.9,75.5 625.0,73.9 626.1,72.4 627.2,70.8 628.3,69.2 629.4,67.7" fill="none" stroke="#b0a8d8" stroke-width="0.55" opacity="0.8"/>
<polyline points="519.4,146.1 519.8,147.9 520.6,149.6 521.8,151.1 523.4,152.2 525.1,153.1 526.9,153.8 528.7,154.3 530.6,154.6 532.5,154.8 534.5,155.0 536.4,155.0 538.3,155.0 540.2,154.9 542.2,154.7 544.1,154.4" fill="none" stroke="#a0c8b8" stroke-width="0.55" opacity="0.7"/>
<polyline points="613.4,151.4 615.2,150.7 617.0,150.0 618.8,149.3 620.6,148.6 622.4,147.9 624.2,147.2 625.9,146.4 627.7,145.7 629.5,145.0 631.3,144.3" fill="none" stroke="#b0a8d8" stroke-width="0.55" opacity="0.8"/>
<polyline points="521.1,144.9 521.5,146.7 522.4,148.4 523.7,149.8 525.2,151.0 526.9,151.8 528.7,152.5 530.6,152.9 532.5,153.2 534.4,153.4 536.3,153.5 538.3,153.5 540.2,153.4 542.1,153.3 544.0,153.0 545.9,152.7" fill="none" stroke="#d8e6a0" stroke-width="0.55" opacity="0.7"/>
<polyline points="544.3,151.7 546.2,151.4 548.1,151.0 550.0,150.6 551.9,150.1 553.7,149.5 555.5,148.9 557.3,148.2 559.1,147.5 560.9,146.8 562.7,146.0 564.4,145.2 566.1,144.3 567.8,143.4 569.5,142.5" fill="none" stroke="#a8a0d0" stroke-width="0.55" opacity="0.8"/>
<polyline points="612.3,70.7 613.0,69.0 613.8,67.2 614.5,65.5 615.2,63.7 615.9,61.9 616.5,60.2 617.2,58.4 617.8,56.6 618.4,54.8 618.9,53.0 619.5,51.1 619.9,49.3 620.3,47.4 620.4,45.5" fill="none" stroke="#b0a8d8" stroke-width="0.55" opacity="0.8"/>
<polyline points="526.1,140.3 526.6,142.1 527.4,143.8 528.6,145.2 530.2,146.4 531.9,147.3 533.7,147.9 535.6,148.3 537.5,148.5 539.4,148.6 541.3,148.5 543.2,148.4" fill="none" stroke="#a8a0d0" stroke-width="0.55" opacity="0.8"/>
<polyline points="532.1,134.4 532.5,136.2 533.3,137.9 534.5,139.4 536.0,140.5 537.7,141.3 539.6,141.8 541.5,142.1 543.4,142.1 545.4,141.9 547.3,141.7 549.1,141.3 551.0,140.8 552.8,140.1 554.6,139.5 556.4,138.7 558.1,137.9 559.8,137.0 561.5,136.0 563.1,135.0 564.7,134.0 566.3,132.9 567.8,131.7 569.4,130.6 570.8,129.3 572.3,128.1 573.7,126.8 575.1,125.5 576.5,124.2 577.8,122.8 579.2,121.5 580.5,120.1 581.7,118.6 583.0,117.2 584.2,115.7 585.4,114.3 586.6,112.8 587.8,111.2 588.9,109.7 590.0,108.2 591.1,106.6 592.2,105.0 593.3,103.5 594.3,101.9 595.4,100.3 596.4,98.6 597.3,97.0 598.3,95.4 599.3,93.7 600.2,92.1 601.1,90.4 602.0,88.7 602.9,87.0 603.8,85.3 604.6,83.6 605.4,81.9 606.2,80.2 607.0,78.5 607.8,76.7 608.6,75.0 609.3,73.2 610.0,71.5 610.7,69.7 611.4,67.9 612.1,66.2 612.7,64.4 613.3,62.6 613.9,60.8 614.4,58.9 614.9,57.1 615.3,55.3 615.7,53.4 616.0,51.5" fill="none" stroke="#a8a0d0" stroke-width="0.55" opacity="0.8"/>
<polyline points="529.6,135.7 529.9,137.6 530.5,139.4 531.5,141.0 532.9,142.3 534.5,143.3 536.3,144.0 538.1,144.5 540.1,144.7 542.0,144.7 543.9,144.6" fill="none" stroke="#b0a8d8" stroke-width="0.55" opacity="0.8"/>
<polyline points="538.4,143.3 540.3,143.6 542.2,143.7 544.1,143.6 546.0,143.3 547.9,143.0 549.8,142.6 551.7,142.0 553.5,141.4 555.3,140.7 557.0,139.9 558.8,139.1" fill="none" stroke="#a8a0d0" stroke-width="0.55" opacity="0.8"/>
<polyline points="600.7,87.5 601.5,85.8 602.3,84.1 603.1,82.4 603.9,80.6 604.6,78.9 605.3,77.1 606.0,75.3 606.7,73.6 607.3,71.8 608.0,70.0 608.6,68.2 609.1,66.4 609.6,64.5 610.1,62.7 610.5,60.8 610.9,59.0 611.1,57.1 611.3,55.2" fill="none" stroke="#b8b0dc" stroke-width="0.55" opacity="0.8"/>
<polyline points="533.4,132.0 533.7,133.9 534.3,135.7 535.3,137.3 536.7,138.6 538.4,139.5 540.2,140.1 542.1,140.3 544.0,140.4 546.0,140.3 547.9,140.0 549.7,139.5" fill="none" stroke="#b8b0dc" stroke-width="0.55" opacity="0.8"/>
<polyline points="594.9,139.5 596.6,138.5 598.2,137.5 599.8,136.5 601.4,135.4 603.0,134.4 604.6,133.3 606.2,132.3 607.8,131.2 609.4,130.1 611.0,129.0 612.6,127.9" fill="none" stroke="#acd4ac" stroke-width="0.55" opacity="0.7"/>
<polyline points="535.3,130.2 535.5,132.1 536.2,133.9 537.2,135.5 538.6,136.7 540.3,137.6 542.2,138.0 544.1,138.2 546.0,138.2 547.9,137.9 549.8,137.5 551.7,137.0 553.5,136.3 555.2,135.6 557.0,134.7 558.7,133.8 560.3,132.8 561.9,131.8 563.5,130.7 565.0,129.6 566.5,128.4 568.0,127.1 569.4,125.9 570.8,124.5 572.2,123.2 573.5,121.8 574.8,120.4 576.1,119.0 577.3,117.6 578.5,116.1 579.7,114.6 580.9,113.1 582.0,111.5 583.1,110.0 584.2,108.4 585.2,106.8 586.2,105.2 587.2,103.6 588.2,101.9 589.1,100.3 590.1,98.6 590.9,96.9 591.8,95.2 592.6,93.5 593.5,91.8 594.2,90.1 595.0,88.3 595.7,86.6 596.4,84.8 597.1,83.0 597.7,81.2 598.3,79.4 598.8,77.6 599.4,75.8 599.8,73.9 600.2,72.1 600.6,70.2 600.8,68.3 601.0,66.4" fill="none" stroke="#a0c8b8" stroke-width="0.55" opacity="0.7"/>
<polyline points="573.9,124.0 575.3,122.6 576.6,121.2 577.9,119.8 579.1,118.4 580.4,116.9 581.6,115.5 582.8,114.0 583.9,112.5 585.0,110.9 586.2,109.4 587.2,107.8 588.3,106.2 589.4,104.6 590.4,103.0 591.4,101.4 592.3,99.8 593.3,98.1 594.2,96.4 595.1,94.8 596.0,93.1 596.9,91.4 597.7,89.7 598.5,88.0 599.3,86.2 600.1,84.5 600.8,82.7 601.6,81.0 602.3,79.2 602.9,77.4 603.6,75.7 604.2,73.9 604.8,72.0 605.3,70.2 605.8,68.4 606.2,66.5 606.6,64.7 606.9,62.8 607.2,60.9 607.3,59.0" fill="none" stroke="#b8b0dc" stroke-width="0.55" opacity="0.8"/>
<polyline points="537.0,128.5 537.3,130.4 538.0,132.2 539.0,133.7 540.5,134.9 542.3,135.7 544.2,136.0 546.1,136.1 548.0,135.9 549.9,135.5 551.7,135.0 553.5,134.3 555.3,133.5 557.0,132.7 558.7,131.7 560.3,130.7 561.9,129.6 563.4,128.5" fill="none" stroke="#d8e6a0" stroke-width="0.55" opacity="0.7"/>
<polyline points="594.7,103.9 595.8,102.4 596.8,100.8 597.9,99.2 598.9,97.6 599.9,95.9 600.9,94.3 601.8,92.7 602.8,91.0 603.7,89.4 604.7,87.7" fill="none" stroke="#b0a8d8" stroke-width="0.55" opacity="0.8"/>
<polyline points="538.7,126.9 539.0,128.8 539.7,130.6 540.9,132.1 542.4,133.1 544.2,133.7 546.1,133.9 548.1,133.8 550.0,133.5 551.8,133.0 553.6,132.3 555.4,131.5 557.1,130.6 558.7,129.7 560.3,128.6 561.9,127.5 563.4,126.3 564.8,125.1 566.3,123.8 567.6,122.5 569.0,121.1 570.3,119.7 571.5,118.3 572.8,116.8 573.9,115.3 575.1,113.8 576.2,112.2 577.3,110.7 578.3,109.1 579.3,107.4 580.3,105.8 581.2,104.2 582.1,102.5 583.0,100.8 583.8,99.1 584.6,97.3 585.4,95.6 586.1,93.8 586.8,92.1 587.4,90.3 588.0,88.5 588.6,86.7 589.1,84.8 589.5,83.0 589.8,81.1 590.1,79.2 590.3,77.3 590.4,75.5" fill="none" stroke="#a0c8b8" stroke-width="0.55" opacity="0.7"/>
<polyline points="599.1,83.2 599.8,81.4 600.4,79.6 601.1,77.8 601.6,76.0 602.2,74.2 602.7,72.4 603.2,70.5 603.6,68.7 604.0,66.8 604.2,64.9 604.4,63.0" fill="none" stroke="#b8b0dc" stroke-width="0.55" opacity="0.8"/>
<polyline points="540.3,125.5 540.7,127.3 541.4,129.0 542.7,130.5 544.3,131.4 546.2,131.8 548.1,131.8 550.0,131.6 551.9,131.1 553.7,130.4 555.4,129.6 557.1,128.7 558.7,127.7 560.3,126.6 561.8,125.4 563.3,124.2 564.7,123.0 566.1,121.6 567.4,120.3 568.7,118.8 570.0,117.4 571.2,115.9 572.4,114.4 573.5,112.9 574.6,111.3 575.6,109.7" fill="none" stroke="#b0a8d8" stroke-width="0.55" opacity="0.8"/>
<polyline points="541.8,124.2 542.2,126.0 543.1,127.7 544.5,129.0 546.2,129.7 548.1,129.9 550.0,129.7 551.9,129.3 553.7,128.6 555.5,127.8 557.1,126.9 558.7,125.8 560.3,124.7 561.8,123.5 563.2,122.3 564.6,120.9 566.0,119.6 567.2,118.2 568.5,116.7 569.7,115.2" fill="none" stroke="#a8a0d0" stroke-width="0.55" opacity="0.8"/>
<polyline points="582.0,109.0 583.1,107.4 584.1,105.8 585.1,104.2 586.0,102.5 586.9,100.9 587.8,99.2 588.7,97.5 589.5,95.8 590.4,94.1 591.1,92.3 591.9,90.6 592.6,88.8 593.3,87.1 593.9,85.3 594.5,83.5 595.1,81.7 595.6,79.8 596.1,78.0 596.5,76.1 596.9,74.3 597.2,72.4 597.4,70.5 597.5,68.6" fill="none" stroke="#a8a0d0" stroke-width="0.55" opacity="0.8"/>
<polyline points="543.1,122.5 543.4,124.4 544.2,126.1 545.6,127.4 547.3,128.1 549.2,128.2 551.1,127.9 553.0,127.4 554.8,126.6 556.5,125.7 558.1,124.7" fill="none" stroke="#b8b0dc" stroke-width="0.55" opacity="0.8"/>
<polyline points="572.7,139.9 574.3,138.9 575.9,137.8 577.5,136.7 579.0,135.6 580.6,134.5 582.1,133.3 583.6,132.2 585.2,131.0 586.6,129.8 588.1,128.6 589.6,127.3 591.0,126.1 592.5,124.8 593.9,123.5 595.3,122.2 596.7,120.9" fill="none" stroke="#b8b0dc" stroke-width="0.55" opacity="0.8"/>
<polyline points="544.9,120.7 545.3,122.5 546.2,124.1 547.7,125.3 549.4,125.7 551.3,125.6 553.2,125.1 554.9,124.3 556.6,123.4 558.2,122.4 559.7,121.2 561.2,120.0 562.6,118.6 563.9,117.2 565.2,115.8 566.3,114.3 567.5,112.8 568.6,111.2 569.6,109.6 570.5,108.0 571.5,106.3 572.3,104.6 573.1,102.9 573.8,101.1 574.5,99.3 575.1,97.5 575.6,95.7 576.0,93.8 576.3,92.0 576.5,90.1" fill="none" stroke="#d8e6a0" stroke-width="0.55" opacity="0.7"/>
<polyline points="589.3,92.7 590.0,91.0 590.7,89.2 591.3,87.4 591.9,85.6 592.5,83.8 593.0,81.9 593.4,80.1 593.8,78.3 594.2,76.4 594.4,74.5 594.6,72.6" fill="none" stroke="#b8b0dc" stroke-width="0.55" opacity="0.8"/>
<polyline points="547.3,118.3 547.6,119.9 548.5,121.3 550.1,122.2 552.0,122.3 553.8,121.9 555.6,121.1 557.2,120.1 558.7,119.0 560.2,117.8 561.6,116.4 562.8,115.0 564.0,113.5 565.2,112.0 566.2,110.4 567.2,108.8 568.2,107.1 569.0,105.4 569.8,103.7 570.5,101.9 571.1,100.1 571.6,98.3 572.0,96.4 572.3,94.5" fill="none" stroke="#b8b0dc" stroke-width="0.55" opacity="0.8"/>
<polyline points="549.9,115.1 550.2,116.5 550.9,117.7 552.0,118.4 552.0,118.4 553.9,118.4 555.5,117.8 557.1,116.9 558.6,115.7 560.0,114.4 561.3,113.0 562.5,111.5 563.5,109.9 564.5,108.3 565.4,106.6 566.2,104.9 566.9,103.1 567.4,101.3 567.8,99.4 568.0,97.5" fill="none" stroke="#a0c8b8" stroke-width="0.55" opacity="0.7"/>
<polyline points="566.2,126.1 567.6,124.9 569.0,123.5 570.4,122.2 571.7,120.8 573.0,119.4 574.2,117.9 575.4,116.5 576.6,115.0 577.8,113.4 578.9,111.9 580.0,110.3" fill="none" stroke="#a8a0d0" stroke-width="0.55" opacity="0.8"/>
<polyline points="577.6,107.0 578.6,105.4 579.5,103.7 580.3,102.0 581.1,100.3 581.9,98.5 582.7,96.8 583.4,95.0 584.0,93.2 584.6,91.4 585.2,89.6 585.7,87.8 586.1,85.9 586.5,84.1 586.7,82.2 586.9,80.3" fill="none" stroke="#a8a0d0" stroke-width="0.55" opacity="0.8"/>
<polyline points="552.7,112.9 553.1,113.9 554.0,114.6 554.0,114.6 554.0,114.6 555.4,114.5 556.6,114.0 558.1,112.8 559.5,111.5 560.7,110.0 561.7,108.4 562.6,106.7 563.3,104.9 563.9,103.1 564.2,101.3" fill="none" stroke="#d8e6a0" stroke-width="0.55" opacity="0.7"/>
<polyline points="579.5,100.4 580.2,98.6 580.9,96.9 581.6,95.1 582.2,93.3 582.7,91.5 583.2,89.6 583.6,87.8 584.0,85.9 584.2,84.0 584.4,82.1" fill="none" stroke="#acd4ac" stroke-width="0.55" opacity="0.7"/>
<polyline points="568.5,114.2 569.6,112.6 570.6,111.1 571.7,109.4 572.6,107.8 573.6,106.1 574.4,104.4 575.2,102.7 576.0,101.0 576.7,99.2 577.4,97.4 577.9,95.6 578.5,93.8 578.9,92.0 579.2,90.1 579.5,88.2 579.6,86.3" fill="none" stroke="#d8e6a0" stroke-width="0.55" opacity="0.7"/>
<polyline points="491.0,172.7 491.0,173.1 491.1,173.4 491.3,173.8 491.6,174.0 491.9,174.3 492.2,174.5 492.6,174.6 492.9,174.7" fill="none" stroke="#7b85bb" stroke-width="0.9" opacity="0.85"/>
<polyline points="492.9,174.7 493.3,174.8 493.7,174.9 494.0,175.0 494.4,175.1 494.8,175.2 495.2,175.3 495.6,175.3 495.9,175.4" fill="none" stroke="#7a8ebe" stroke-width="0.9" opacity="0.85"/>
<polyline points="495.9,175.4 496.3,175.4 496.7,175.5 497.1,175.5 497.5,175.6 497.8,175.6 498.2,175.7 498.6,175.7 499.0,175.7" fill="none" stroke="#7891bc" stroke-width="0.9" opacity="0.85"/>
<polyline points="499.0,175.7 499.4,175.8 499.8,175.8 500.1,175.8 500.5,175.9 500.9,175.9 501.3,175.9 501.7,175.9 502.1,176.0" fill="none" stroke="#7793bb" stroke-width="0.9" opacity="0.85"/>
<polyline points="502.1,176.0 502.5,176.0 502.8,176.0 503.2,176.0 503.6,176.1 504.0,176.1 504.4,176.1 504.8,176.1 505.1,176.1" fill="none" stroke="#7694bb" stroke-width="0.9" opacity="0.85"/>
<polyline points="505.1,176.1 505.5,176.1 505.9,176.2 506.3,176.2 506.7,176.2 507.1,176.2 507.5,176.2 507.8,176.2 508.2,176.2" fill="none" stroke="#7695ba" stroke-width="0.9" opacity="0.85"/>
<polyline points="508.2,176.2 508.6,176.3 509.0,176.3 509.4,176.3 509.8,176.3 510.2,176.3 510.5,176.3 510.9,176.3 511.3,176.3" fill="none" stroke="#7595ba" stroke-width="0.9" opacity="0.85"/>
<polyline points="511.3,176.3 511.7,176.3 512.1,176.4 512.5,176.4 512.9,176.4 513.2,176.4 513.6,176.4 514.0,176.4 514.4,176.4" fill="none" stroke="#7596b9" stroke-width="0.9" opacity="0.85"/>
<polyline points="514.4,176.4 514.8,176.4 515.2,176.4 515.6,176.4 515.9,176.4 516.3,176.4 516.7,176.4 517.1,176.4 517.5,176.4" fill="none" stroke="#7497b9" stroke-width="0.9" opacity="0.85"/>
<polyline points="517.5,176.4 517.9,176.4 518.3,176.4 518.6,176.4 519.0,176.4 519.4,176.4 519.8,176.4 520.2,176.4 520.6,176.4" fill="none" stroke="#7497b9" stroke-width="0.9" opacity="0.85"/>
<polyline points="520.6,176.4 521.0,176.4 521.3,176.4 521.7,176.4 522.1,176.4 522.5,176.4 522.9,176.4 523.3,176.4 523.7,176.4" fill="none" stroke="#7498b9" stroke-width="0.9" opacity="0.85"/>
<polyline points="523.7,176.4 524.0,176.4 524.4,176.4 524.8,176.4 525.2,176.4 525.6,176.4 526.0,176.4 526.4,176.4 526.7,176.3" fill="none" stroke="#7498b8" stroke-width="0.9" opacity="0.85"/>
<polyline points="526.7,176.3 527.1,176.3 527.5,176.3 527.9,176.3 528.3,176.3 528.7,176.3 529.0,176.3 529.4,176.3 529.8,176.3" fill="none" stroke="#7398b8" stroke-width="0.9" opacity="0.85"/>
<polyline points="529.8,176.3 530.2,176.3 530.6,176.2 531.0,176.2 531.4,176.2 531.7,176.2 532.1,176.2 532.5,176.2 532.9,176.1" fill="none" stroke="#7399b8" stroke-width="0.9" opacity="0.85"/>
<polyline points="532.9,176.1 533.3,176.1 533.7,176.1 534.1,176.1 534.4,176.1 534.8,176.1 535.2,176.0 535.6,176.0 536.0,176.0" fill="none" stroke="#7399b8" stroke-width="0.9" opacity="0.85"/>
<polyline points="536.0,176.0 536.4,176.0 536.8,176.0 537.1,175.9 537.5,175.9 537.9,175.9 538.3,175.9 538.7,175.8 539.1,175.8" fill="none" stroke="#7399b8" stroke-width="0.9" opacity="0.85"/>
<polyline points="539.1,175.8 539.4,175.8 539.8,175.8 540.2,175.7 540.6,175.7 541.0,175.7 541.4,175.6 541.8,175.6 542.1,175.6" fill="none" stroke="#729ab7" stroke-width="0.9" opacity="0.85"/>
<polyline points="542.1,175.6 542.5,175.6 542.9,175.5 543.3,175.5 543.7,175.5 544.1,175.4 544.4,175.4 544.8,175.4 545.2,175.3" fill="none" stroke="#729ab7" stroke-width="0.9" opacity="0.85"/>
<polyline points="545.2,175.3 545.6,175.3 546.0,175.2 546.4,175.2 546.7,175.2 547.1,175.1 547.5,175.1 547.9,175.1 548.3,175.0" fill="none" stroke="#729ab7" stroke-width="0.9" opacity="0.85"/>
<polyline points="548.3,175.0 548.7,175.0 549.0,174.9 549.4,174.9 549.8,174.8 550.2,174.8 550.6,174.8 551.0,174.7 551.3,174.7" fill="none" stroke="#729ab7" stroke-width="0.9" opacity="0.85"/>
<polyline points="551.3,174.7 551.7,174.6 552.1,174.6 552.5,174.5 552.9,174.5 553.3,174.4 553.6,174.4 554.0,174.3 554.4,174.3" fill="none" stroke="#729bb7" stroke-width="0.9" opacity="0.85"/>
<polyline points="554.4,174.3 554.8,174.2 555.2,174.2 555.5,174.1 555.9,174.1 556.3,174.0 556.7,174.0 557.1,173.9 557.5,173.9" fill="none" stroke="#729bb7" stroke-width="0.9" opacity="0.85"/>
<polyline points="557.5,173.9 557.8,173.8 558.2,173.7 558.6,173.7 559.0,173.6 559.4,173.6 559.7,173.5 560.1,173.5 560.5,173.4" fill="none" stroke="#719bb7" stroke-width="0.9" opacity="0.85"/>
<polyline points="560.5,173.4 560.9,173.3 561.3,173.3 561.6,173.2 562.0,173.2 562.4,173.1 562.8,173.0 563.2,173.0 563.5,172.9" fill="none" stroke="#719bb6" stroke-width="0.9" opacity="0.85"/>
<polyline points="563.5,172.9 563.9,172.8 564.3,172.8 564.7,172.7 565.1,172.6 565.4,172.6 565.8,172.5 566.2,172.4 566.6,172.4" fill="none" stroke="#719cb6" stroke-width="0.9" opacity="0.85"/>
<polyline points="566.6,172.4 567.0,172.3 567.3,172.2 567.7,172.2 568.1,172.1 568.5,172.0 568.9,172.0 569.2,171.9 569.6,171.8" fill="none" stroke="#719cb6" stroke-width="0.9" opacity="0.85"/>
<polyline points="569.6,171.8 570.0,171.7 570.4,171.7 570.8,171.6 571.1,171.5 571.5,171.4 571.9,171.4 572.3,171.3 572.6,171.2" fill="none" stroke="#719cb6" stroke-width="0.9" opacity="0.85"/>
<polyline points="572.6,171.2 573.0,171.1 573.4,171.1 573.8,171.0 574.2,170.9 574.5,170.8 574.9,170.8 575.3,170.7 575.7,170.6" fill="none" stroke="#719cb6" stroke-width="0.9" opacity="0.85"/>
<polyline points="575.7,170.6 576.0,170.5 576.4,170.5 576.8,170.4 577.2,170.3 577.5,170.2 577.9,170.1 578.3,170.1 578.7,170.0" fill="none" stroke="#719cb6" stroke-width="0.9" opacity="0.85"/>
<polyline points="578.7,170.0 579.1,169.9 579.4,169.8 579.8,169.7 580.2,169.6 580.6,169.6 580.9,169.5 581.3,169.4 581.7,169.3" fill="none" stroke="#709db6" stroke-width="0.9" opacity="0.85"/>
<polyline points="581.7,169.3 582.1,169.2 582.4,169.1 582.8,169.1 583.2,169.0 583.6,168.9 583.9,168.8 584.3,168.7 584.7,168.6" fill="none" stroke="#709db6" stroke-width="0.9" opacity="0.85"/>
<polyline points="584.7,168.6 585.1,168.5 585.4,168.5 585.8,168.4 586.2,168.3 586.6,168.2 586.9,168.1 587.3,168.0 587.7,167.9" fill="none" stroke="#709db5" stroke-width="0.9" opacity="0.85"/>
<polyline points="587.7,167.9 588.1,167.8 588.4,167.7 588.8,167.7 589.2,167.6 589.6,167.5 589.9,167.4 590.3,167.3 590.7,167.2" fill="none" stroke="#709db5" stroke-width="0.9" opacity="0.85"/>
<polyline points="590.7,167.2 591.1,167.1 591.4,167.0 591.8,166.9 592.2,166.8 592.6,166.8 592.9,166.7 593.3,166.6 593.7,166.5" fill="none" stroke="#709eb5" stroke-width="0.9" opacity="0.85"/>
<polyline points="593.7,166.5 594.1,166.4 594.4,166.3 594.8,166.2 595.2,166.1 595.6,166.0 595.9,165.9 596.3,165.8 596.7,165.7" fill="none" stroke="#709eb5" stroke-width="0.9" opacity="0.85"/>
<polyline points="596.7,165.7 597.0,165.6 597.4,165.5 597.8,165.4 598.2,165.3 598.5,165.3 598.9,165.2 599.3,165.1 599.7,165.0" fill="none" stroke="#709eb5" stroke-width="0.9" opacity="0.85"/>
<polyline points="599.7,165.0 600.0,164.9 600.4,164.8 600.8,164.7 601.2,164.6 601.5,164.5 601.9,164.4 602.3,164.3 602.6,164.2" fill="none" stroke="#6f9eb5" stroke-width="0.9" opacity="0.85"/>
<polyline points="602.6,164.2 603.0,164.1 603.4,164.0 603.8,163.9 604.1,163.8 604.5,163.7 604.9,163.6 605.2,163.5 605.6,163.4" fill="none" stroke="#6f9eb5" stroke-width="0.9" opacity="0.85"/>
<polyline points="605.6,163.4 606.0,163.3 606.4,163.2 606.7,163.1 607.1,163.0 607.5,162.9 607.9,162.8 608.2,162.7 608.6,162.6" fill="none" stroke="#6f9fb5" stroke-width="0.9" opacity="0.85"/>
<polyline points="608.6,162.6 609.0,162.5 609.3,162.4 609.7,162.3 610.1,162.2 610.5,162.1 610.8,162.0 611.2,161.9 611.6,161.8" fill="none" stroke="#6f9fb4" stroke-width="0.9" opacity="0.85"/>
<polyline points="611.6,161.8 611.9,161.7 612.3,161.6 612.7,161.5 613.1,161.4 613.4,161.3 613.8,161.2 614.2,161.1 614.5,161.0" fill="none" stroke="#6f9fb4" stroke-width="0.9" opacity="0.85"/>
<polyline points="614.5,161.0 614.9,160.9 615.3,160.8 615.7,160.7 616.0,160.6 616.4,160.5 616.8,160.4 617.1,160.3 617.5,160.2" fill="none" stroke="#6f9fb4" stroke-width="0.9" opacity="0.85"/>
<polyline points="617.5,160.2 617.9,160.1 618.3,160.0 618.6,159.9 619.0,159.8 619.4,159.7 619.7,159.5 620.1,159.4 620.5,159.3" fill="none" stroke="#6fa0b4" stroke-width="0.9" opacity="0.85"/>
<polyline points="620.5,159.3 620.8,159.2 621.2,159.1 621.6,159.0 622.0,158.9 622.3,158.8 622.7,158.7 623.1,158.6 623.4,158.5" fill="none" stroke="#6ea0b4" stroke-width="0.9" opacity="0.85"/>
<polyline points="623.4,158.5 623.8,158.4 624.2,158.3 624.6,158.2 624.9,158.1 625.3,158.0 625.7,157.9 626.0,157.8 626.4,157.7" fill="none" stroke="#6ea0b4" stroke-width="0.9" opacity="0.85"/>
<polyline points="626.4,157.7 626.8,157.5 627.1,157.4 627.5,157.3 627.9,157.2 628.3,157.1 628.6,157.0 629.0,156.9 629.4,156.8" fill="none" stroke="#6ea0b4" stroke-width="0.9" opacity="0.85"/>
<polyline points="629.4,156.8 629.7,156.7 630.1,156.6 630.5,156.5 630.8,156.4 631.2,156.3 631.6,156.2 632.0,156.0 632.3,155.9" fill="none" stroke="#6ea1b3" stroke-width="0.9" opacity="0.85"/>
<polyline points="632.3,155.9 632.7,155.8 633.1,155.7 633.4,155.6 633.8,155.5 634.2,155.4 634.5,155.3 634.9,155.2 635.3,155.1" fill="none" stroke="#6ea1b3" stroke-width="0.9" opacity="0.85"/>
<polyline points="635.3,155.1 635.6,155.0 636.0,154.9 636.4,154.8 636.8,154.6 637.1,154.5 637.5,154.4 637.9,154.3 638.2,154.2" fill="none" stroke="#6ea1b3" stroke-width="0.9" opacity="0.85"/>
<polyline points="638.2,154.2 638.6,154.1 639.0,154.0 639.3,153.9 639.7,153.8 640.1,153.7 640.4,153.5 640.8,153.4 641.2,153.3" fill="none" stroke="#6da1b3" stroke-width="0.9" opacity="0.85"/>
<polyline points="641.2,153.3 641.6,153.2 641.9,153.1 642.3,153.0 642.7,152.9 643.0,152.8 643.4,152.7 643.8,152.6 644.1,152.4" fill="none" stroke="#6da2b3" stroke-width="0.9" opacity="0.85"/>
<polyline points="644.1,152.4 644.5,152.3 644.9,152.2 645.2,152.1 645.6,152.0 646.0,151.9 646.4,151.8 646.7,151.7 647.1,151.6" fill="none" stroke="#6da2b3" stroke-width="0.9" opacity="0.85"/>
<polyline points="647.1,151.6 647.5,151.5 647.8,151.3 648.2,151.2 648.6,151.1 648.9,151.0 649.3,150.9 649.7,150.8 650.0,150.7" fill="none" stroke="#6da2b3" stroke-width="0.9" opacity="0.85"/>
<polyline points="650.0,150.7 650.4,150.6 650.8,150.4 651.1,150.3 651.5,150.2 651.9,150.1 652.2,150.0 652.6,149.9 653.0,149.8" fill="none" stroke="#6da3b2" stroke-width="0.9" opacity="0.85"/>
<polyline points="653.0,149.8 653.4,149.7 653.7,149.6 654.1,149.4 654.5,149.3 654.8,149.2 655.2,149.1 655.6,149.0 655.9,148.9" fill="none" stroke="#6da3b2" stroke-width="0.9" opacity="0.85"/>
<polyline points="655.9,148.9 656.3,148.8 656.7,148.7 657.0,148.5" fill="none" stroke="#6ca3b2" stroke-width="0.9" opacity="0.85"/>
<polyline points="500.6,163.2 500.7,163.6 500.7,164.0 500.8,164.3 500.9,164.7 501.0,165.0 501.2,165.4 501.4,165.7 501.7,166.0" fill="none" stroke="#7b85bb" stroke-width="0.9" opacity="0.85"/>
<polyline points="501.7,166.0 502.0,166.2 502.3,166.5 502.6,166.7 502.9,166.9 503.2,167.1 503.6,167.2 503.9,167.4 504.3,167.5" fill="none" stroke="#7b8cbf" stroke-width="0.9" opacity="0.85"/>
<polyline points="504.3,167.5 504.7,167.7 505.0,167.8 505.4,167.9 505.8,168.0 506.1,168.1 506.5,168.2 506.9,168.3 507.3,168.4" fill="none" stroke="#7990bd" stroke-width="0.9" opacity="0.85"/>
<polyline points="507.3,168.4 507.6,168.5 508.0,168.5 508.4,168.6 508.8,168.7 509.2,168.8 509.5,168.8 509.9,168.9 510.3,168.9" fill="none" stroke="#7792bc" stroke-width="0.9" opacity="0.85"/>
<polyline points="510.3,168.9 510.7,169.0 511.1,169.0 511.4,169.1 511.8,169.1 512.2,169.2 512.6,169.2 513.0,169.3 513.4,169.3" fill="none" stroke="#7693bb" stroke-width="0.9" opacity="0.85"/>
<polyline points="513.4,169.3 513.7,169.4 514.1,169.4 514.5,169.4 514.9,169.5 515.3,169.5 515.7,169.5 516.0,169.6 516.4,169.6" fill="none" stroke="#7695ba" stroke-width="0.9" opacity="0.85"/>
<polyline points="516.4,169.6 516.8,169.6 517.2,169.6 517.6,169.7 518.0,169.7 518.3,169.7 518.7,169.7 519.1,169.8 519.5,169.8" fill="none" stroke="#7596ba" stroke-width="0.9" opacity="0.85"/>
<polyline points="519.5,169.8 519.9,169.8 520.3,169.8 520.7,169.8 521.0,169.8 521.4,169.8 521.8,169.9 522.2,169.9 522.6,169.9" fill="none" stroke="#7596b9" stroke-width="0.9" opacity="0.85"/>
<polyline points="522.6,169.9 523.0,169.9 523.4,169.9 523.7,169.9 524.1,169.9 524.5,169.9 524.9,169.9 525.3,169.9 525.7,169.9" fill="none" stroke="#7497b9" stroke-width="0.9" opacity="0.85"/>
<polyline points="525.7,169.9 526.1,169.9 526.4,169.9 526.8,169.9 527.2,169.9 527.6,169.9 528.0,169.9 528.4,169.9 528.8,169.9" fill="none" stroke="#7498b9" stroke-width="0.9" opacity="0.85"/>
<polyline points="528.8,169.9 529.1,169.9 529.5,169.9 529.9,169.9 530.3,169.9 530.7,169.9 531.1,169.9 531.5,169.9 531.8,169.8" fill="none" stroke="#7398b8" stroke-width="0.9" opacity="0.85"/>
<polyline points="531.8,169.8 532.2,169.8 532.6,169.8 533.0,169.8 533.4,169.8 533.8,169.8 534.1,169.8 534.5,169.7 534.9,169.7" fill="none" stroke="#7399b8" stroke-width="0.9" opacity="0.85"/>
<polyline points="534.9,169.7 535.3,169.7 535.7,169.7 536.1,169.6 536.5,169.6 536.8,169.6 537.2,169.6 537.6,169.5 538.0,169.5" fill="none" stroke="#7399b8" stroke-width="0.9" opacity="0.85"/>
<polyline points="538.0,169.5 538.4,169.5 538.8,169.5 539.1,169.4 539.5,169.4 539.9,169.4 540.3,169.3 540.7,169.3 541.1,169.3" fill="none" stroke="#729ab7" stroke-width="0.9" opacity="0.85"/>
<polyline points="541.1,169.3 541.5,169.2 541.8,169.2 542.2,169.2 542.6,169.1 543.0,169.1 543.4,169.0 543.8,169.0 544.1,168.9" fill="none" stroke="#729ab7" stroke-width="0.9" opacity="0.85"/>
<polyline points="544.1,168.9 544.5,168.9 544.9,168.9 545.3,168.8 545.7,168.8 546.1,168.7 546.4,168.7 546.8,168.6 547.2,168.6" fill="none" stroke="#729bb7" stroke-width="0.9" opacity="0.85"/>
<polyline points="547.2,168.6 547.6,168.5 548.0,168.5 548.3,168.4 548.7,168.4 549.1,168.3 549.5,168.2 549.9,168.2 550.3,168.1" fill="none" stroke="#719bb7" stroke-width="0.9" opacity="0.85"/>
<polyline points="550.3,168.1 550.6,168.1 551.0,168.0 551.4,168.0 551.8,167.9 552.2,167.8 552.5,167.8 552.9,167.7 553.3,167.6" fill="none" stroke="#719bb6" stroke-width="0.9" opacity="0.85"/>
<polyline points="553.3,167.6 553.7,167.6 554.1,167.5 554.4,167.4 554.8,167.4 555.2,167.3 555.6,167.2 555.9,167.1 556.3,167.1" fill="none" stroke="#719cb6" stroke-width="0.9" opacity="0.85"/>
<polyline points="556.3,167.1 556.7,167.0 557.1,166.9 557.5,166.9 557.8,166.8 558.2,166.7 558.6,166.6 559.0,166.5 559.3,166.5" fill="none" stroke="#719cb6" stroke-width="0.9" opacity="0.85"/>
<polyline points="559.3,166.5 559.7,166.4 560.1,166.3 560.5,166.2 560.9,166.1 561.2,166.1 561.6,166.0 562.0,165.9 562.4,165.8" fill="none" stroke="#719db6" stroke-width="0.9" opacity="0.85"/>
<polyline points="562.4,165.8 562.7,165.7 563.1,165.6 563.5,165.5 563.9,165.4 564.2,165.4 564.6,165.3 565.0,165.2 565.4,165.1" fill="none" stroke="#709db6" stroke-width="0.9" opacity="0.85"/>
<polyline points="565.4,165.1 565.7,165.0 566.1,164.9 566.5,164.8 566.8,164.7 567.2,164.6 567.6,164.5 568.0,164.4 568.3,164.3" fill="none" stroke="#709db5" stroke-width="0.9" opacity="0.85"/>
<polyline points="568.3,164.3 568.7,164.2 569.1,164.1 569.5,164.0 569.8,163.9 570.2,163.8 570.6,163.7 570.9,163.6 571.3,163.5" fill="none" stroke="#709eb5" stroke-width="0.9" opacity="0.85"/>
<polyline points="571.3,163.5 571.7,163.4 572.0,163.3 572.4,163.2 572.8,163.1 573.2,163.0 573.5,162.9 573.9,162.8 574.3,162.7" fill="none" stroke="#709eb5" stroke-width="0.9" opacity="0.85"/>
<polyline points="574.3,162.7 574.6,162.5 575.0,162.4 575.4,162.3 575.7,162.2 576.1,162.1 576.5,162.0 576.9,161.9 577.2,161.8" fill="none" stroke="#6f9eb5" stroke-width="0.9" opacity="0.85"/>
<polyline points="577.2,161.8 577.6,161.7 578.0,161.5 578.3,161.4 578.7,161.3 579.1,161.2 579.4,161.1 579.8,161.0 580.2,160.8" fill="none" stroke="#6f9fb5" stroke-width="0.9" opacity="0.85"/>
<polyline points="580.2,160.8 580.5,160.7 580.9,160.6 581.3,160.5 581.6,160.4 582.0,160.3 582.4,160.1 582.7,160.0 583.1,159.9" fill="none" stroke="#6f9fb4" stroke-width="0.9" opacity="0.85"/>
<polyline points="583.1,159.9 583.5,159.8 583.8,159.6 584.2,159.5 584.5,159.4 584.9,159.3 585.3,159.2 585.6,159.0 586.0,158.9" fill="none" stroke="#6f9fb4" stroke-width="0.9" opacity="0.85"/>
<polyline points="586.0,158.9 586.4,158.8 586.7,158.7 587.1,158.5 587.5,158.4 587.8,158.3 588.2,158.1 588.5,158.0 588.9,157.9" fill="none" stroke="#6fa0b4" stroke-width="0.9" opacity="0.85"/>
<polyline points="588.9,157.9 589.3,157.8 589.6,157.6 590.0,157.5 590.4,157.4 590.7,157.2 591.1,157.1 591.4,157.0 591.8,156.9" fill="none" stroke="#6ea0b4" stroke-width="0.9" opacity="0.85"/>
<polyline points="591.8,156.9 592.2,156.7 592.5,156.6 592.9,156.5 593.3,156.3 593.6,156.2 594.0,156.1 594.3,155.9 594.7,155.8" fill="none" stroke="#6ea0b4" stroke-width="0.9" opacity="0.85"/>
<polyline points="594.7,155.8 595.1,155.7 595.4,155.5 595.8,155.4 596.1,155.3 596.5,155.1 596.9,155.0 597.2,154.9 597.6,154.7" fill="none" stroke="#6ea1b3" stroke-width="0.9" opacity="0.85"/>
<polyline points="597.6,154.7 597.9,154.6 598.3,154.4 598.7,154.3 599.0,154.2 599.4,154.0 599.7,153.9 600.1,153.8 600.5,153.6" fill="none" stroke="#6ea1b3" stroke-width="0.9" opacity="0.85"/>
<polyline points="600.5,153.6 600.8,153.5 601.2,153.3 601.5,153.2 601.9,153.1 602.2,152.9 602.6,152.8 603.0,152.6 603.3,152.5" fill="none" stroke="#6da2b3" stroke-width="0.9" opacity="0.85"/>
<polyline points="603.3,152.5 603.7,152.4 604.0,152.2 604.4,152.1 604.8,151.9 605.1,151.8 605.5,151.6 605.8,151.5 606.2,151.4" fill="none" stroke="#6da2b3" stroke-width="0.9" opacity="0.85"/>
<polyline points="606.2,151.4 606.5,151.2 606.9,151.1 607.3,150.9 607.6,150.8 608.0,150.6 608.3,150.5 608.7,150.3 609.0,150.2" fill="none" stroke="#6da2b2" stroke-width="0.9" opacity="0.85"/>
<polyline points="609.0,150.2 609.4,150.1 609.7,149.9 610.1,149.8 610.5,149.6 610.8,149.5 611.2,149.3 611.5,149.2 611.9,149.0" fill="none" stroke="#6da3b2" stroke-width="0.9" opacity="0.85"/>
<polyline points="611.9,149.0 612.2,148.9 612.6,148.7 612.9,148.6 613.3,148.4 613.7,148.3 614.0,148.1 614.4,148.0 614.7,147.8" fill="none" stroke="#6ca3b2" stroke-width="0.9" opacity="0.85"/>
<polyline points="614.7,147.8 615.1,147.7 615.4,147.5 615.8,147.4 616.1,147.2 616.5,147.1 616.8,146.9 617.2,146.8 617.6,146.6" fill="none" stroke="#6ca3b2" stroke-width="0.9" opacity="0.85"/>
<polyline points="617.6,146.6 617.9,146.5 618.3,146.3 618.6,146.2 619.0,146.0 619.3,145.9 619.7,145.7 620.0,145.6 620.4,145.4" fill="none" stroke="#6ca4b2" stroke-width="0.9" opacity="0.85"/>
<polyline points="620.4,145.4 620.7,145.3 621.1,145.1 621.4,145.0 621.8,144.8 622.1,144.7 622.5,144.5 622.9,144.4 623.2,144.2" fill="none" stroke="#6ca4b1" stroke-width="0.9" opacity="0.85"/>
<polyline points="623.2,144.2 623.6,144.1 623.9,143.9 624.3,143.7 624.6,143.6 625.0,143.4 625.3,143.3 625.7,143.1 626.0,143.0" fill="none" stroke="#6ba5b1" stroke-width="0.9" opacity="0.85"/>
<polyline points="626.0,143.0 626.4,142.8 626.7,142.7 627.1,142.5 627.4,142.4 627.8,142.2 628.1,142.0 628.5,141.9 628.8,141.7" fill="none" stroke="#6ba5b1" stroke-width="0.9" opacity="0.85"/>
<polyline points="628.8,141.7 629.2,141.6 629.5,141.4 629.9,141.3 630.2,141.1 630.6,141.0 630.9,140.8 631.3,140.6 631.6,140.5" fill="none" stroke="#6ba5b1" stroke-width="0.9" opacity="0.85"/>
<polyline points="631.6,140.5 632.0,140.3 632.3,140.2 632.7,140.0 633.0,139.9 633.4,139.7 633.7,139.5 634.1,139.4 634.5,139.2" fill="none" stroke="#6ba6b0" stroke-width="0.9" opacity="0.85"/>
<polyline points="634.5,139.2 634.8,139.1 635.2,138.9 635.5,138.7 635.9,138.6 636.2,138.4 636.6,138.3 636.9,138.1 637.3,137.9" fill="none" stroke="#6aa6b0" stroke-width="0.9" opacity="0.85"/>
<polyline points="637.3,137.9 637.6,137.8 638.0,137.6 638.3,137.5 638.7,137.3 639.0,137.2 639.4,137.0 639.7,136.8 640.0,136.7" fill="none" stroke="#6aa7b0" stroke-width="0.9" opacity="0.85"/>
<polyline points="640.0,136.7 640.4,136.5 640.7,136.4 641.1,136.2 641.4,136.0 641.8,135.9 642.1,135.7 642.5,135.6 642.8,135.4" fill="none" stroke="#6aa7b0" stroke-width="0.9" opacity="0.85"/>
<polyline points="642.8,135.4 643.2,135.2 643.5,135.1 643.9,134.9 644.2,134.7 644.6,134.6 644.9,134.4 645.3,134.3 645.6,134.1" fill="none" stroke="#6aa8af" stroke-width="0.9" opacity="0.85"/>
<polyline points="645.6,134.1 646.0,133.9 646.3,133.8 646.7,133.6 647.0,133.5 647.4,133.3 647.7,133.1 648.1,133.0 648.4,132.8" fill="none" stroke="#6ba8af" stroke-width="0.9" opacity="0.85"/>
<polyline points="648.4,132.8 648.8,132.6 649.1,132.5 649.5,132.3 649.8,132.2 650.2,132.0 650.5,131.8 650.9,131.7 651.2,131.5" fill="none" stroke="#6ba9af" stroke-width="0.9" opacity="0.85"/>
<polyline points="651.2,131.5 651.6,131.3 651.9,131.2 652.3,131.0 652.6,130.9 653.0,130.7 653.3,130.5 653.7,130.4 654.0,130.2" fill="none" stroke="#6caaae" stroke-width="0.9" opacity="0.85"/>
<polyline points="654.0,130.2 654.3,130.0 654.7,129.9 655.0,129.7 655.4,129.6 655.7,129.4 656.1,129.2 656.4,129.1 656.8,128.9" fill="none" stroke="#6daaae" stroke-width="0.9" opacity="0.85"/>
<polyline points="656.8,128.9 657.1,128.7" fill="none" stroke="#6eabae" stroke-width="0.9" opacity="0.85"/>
<polyline points="510.3,153.7 510.3,154.1 510.3,154.5 510.4,154.8 510.4,155.2 510.5,155.6 510.6,156.0 510.7,156.3 510.9,156.7" fill="none" stroke="#7b85bb" stroke-width="0.9" opacity="0.85"/>
<polyline points="510.9,156.7 511.0,157.0 511.2,157.3 511.4,157.7 511.7,158.0 511.9,158.2 512.2,158.5 512.5,158.8 512.8,159.0" fill="none" stroke="#7b8bbf" stroke-width="0.9" opacity="0.85"/>
<polyline points="512.8,159.0 513.1,159.2 513.4,159.5 513.7,159.7 514.1,159.8 514.4,160.0 514.7,160.2 515.1,160.4 515.4,160.5" fill="none" stroke="#798fbe" stroke-width="0.9" opacity="0.85"/>
<polyline points="515.4,160.5 515.8,160.6 516.2,160.8 516.5,160.9 516.9,161.0 517.3,161.1 517.6,161.3 518.0,161.4 518.4,161.5" fill="none" stroke="#7891bc" stroke-width="0.9" opacity="0.85"/>
<polyline points="518.4,161.5 518.7,161.5 519.1,161.6 519.5,161.7 519.9,161.8 520.2,161.9 520.6,161.9 521.0,162.0 521.4,162.1" fill="none" stroke="#7793bb" stroke-width="0.9" opacity="0.85"/>
<polyline points="521.4,162.1 521.8,162.1 522.1,162.2 522.5,162.3 522.9,162.3 523.3,162.4 523.7,162.4 524.1,162.4 524.4,162.5" fill="none" stroke="#7695ba" stroke-width="0.9" opacity="0.85"/>
<polyline points="524.4,162.5 524.8,162.5 525.2,162.6 525.6,162.6 526.0,162.6 526.4,162.7 526.7,162.7 527.1,162.7 527.5,162.7" fill="none" stroke="#7596b9" stroke-width="0.9" opacity="0.85"/>
<polyline points="527.5,162.7 527.9,162.8 528.3,162.8 528.7,162.8 529.1,162.8 529.4,162.8 529.8,162.8 530.2,162.8 530.6,162.8" fill="none" stroke="#7497b9" stroke-width="0.9" opacity="0.85"/>
<polyline points="530.6,162.8 531.0,162.8 531.4,162.8 531.8,162.9 532.1,162.9 532.5,162.8 532.9,162.8 533.3,162.8 533.7,162.8" fill="none" stroke="#7398b8" stroke-width="0.9" opacity="0.85"/>
<polyline points="533.7,162.8 534.1,162.8 534.5,162.8 534.8,162.8 535.2,162.8 535.6,162.8 536.0,162.8 536.4,162.7 536.8,162.7" fill="none" stroke="#7399b8" stroke-width="0.9" opacity="0.85"/>
<polyline points="536.8,162.7 537.1,162.7 537.5,162.7 537.9,162.6 538.3,162.6 538.7,162.6 539.1,162.6 539.5,162.5 539.8,162.5" fill="none" stroke="#729ab7" stroke-width="0.9" opacity="0.85"/>
<polyline points="539.8,162.5 540.2,162.5 540.6,162.4 541.0,162.4 541.4,162.3 541.8,162.3 542.1,162.3 542.5,162.2 542.9,162.2" fill="none" stroke="#729ab7" stroke-width="0.9" opacity="0.85"/>
<polyline points="542.9,162.2 543.3,162.1 543.7,162.1 544.1,162.0 544.4,162.0 544.8,161.9 545.2,161.9 545.6,161.8 546.0,161.8" fill="none" stroke="#729bb7" stroke-width="0.9" opacity="0.85"/>
<polyline points="546.0,161.8 546.3,161.7 546.7,161.6 547.1,161.6 547.5,161.5 547.9,161.4 548.2,161.4 548.6,161.3 549.0,161.2" fill="none" stroke="#719cb6" stroke-width="0.9" opacity="0.85"/>
<polyline points="549.0,161.2 549.4,161.2 549.8,161.1 550.1,161.0 550.5,161.0 550.9,160.9 551.3,160.8 551.6,160.7 552.0,160.6" fill="none" stroke="#719cb6" stroke-width="0.9" opacity="0.85"/>
<polyline points="552.0,160.6 552.4,160.6 552.8,160.5 553.2,160.4 553.5,160.3 553.9,160.2 554.3,160.1 554.7,160.0 555.0,160.0" fill="none" stroke="#709db6" stroke-width="0.9" opacity="0.85"/>
<polyline points="555.0,160.0 555.4,159.9 555.8,159.8 556.1,159.7 556.5,159.6 556.9,159.5 557.3,159.4 557.6,159.3 558.0,159.2" fill="none" stroke="#709db5" stroke-width="0.9" opacity="0.85"/>
<polyline points="558.0,159.2 558.4,159.1 558.8,159.0 559.1,158.9 559.5,158.8 559.9,158.7 560.2,158.6 560.6,158.4 561.0,158.3" fill="none" stroke="#709eb5" stroke-width="0.9" opacity="0.85"/>
<polyline points="561.0,158.3 561.3,158.2 561.7,158.1 562.1,158.0 562.4,157.9 562.8,157.8 563.2,157.6 563.5,157.5 563.9,157.4" fill="none" stroke="#6f9eb5" stroke-width="0.9" opacity="0.85"/>
<polyline points="563.9,157.4 564.3,157.3 564.6,157.2 565.0,157.0 565.4,156.9 565.7,156.8 566.1,156.7 566.5,156.6 566.8,156.4" fill="none" stroke="#6f9fb4" stroke-width="0.9" opacity="0.85"/>
<polyline points="566.8,156.4 567.2,156.3 567.6,156.2 567.9,156.0 568.3,155.9 568.6,155.8 569.0,155.6 569.4,155.5 569.7,155.4" fill="none" stroke="#6fa0b4" stroke-width="0.9" opacity="0.85"/>
<polyline points="569.7,155.4 570.1,155.2 570.4,155.1 570.8,155.0 571.2,154.8 571.5,154.7 571.9,154.5 572.2,154.4 572.6,154.3" fill="none" stroke="#6ea0b4" stroke-width="0.9" opacity="0.85"/>
<polyline points="572.6,154.3 572.9,154.1 573.3,154.0 573.7,153.8 574.0,153.7 574.4,153.5 574.7,153.4 575.1,153.2 575.4,153.1" fill="none" stroke="#6ea1b3" stroke-width="0.9" opacity="0.85"/>
<polyline points="575.4,153.1 575.8,153.0 576.1,152.8 576.5,152.7 576.9,152.5 577.2,152.3 577.6,152.2 577.9,152.0 578.3,151.9" fill="none" stroke="#6ea1b3" stroke-width="0.9" opacity="0.85"/>
<polyline points="578.3,151.9 578.6,151.7 579.0,151.6 579.3,151.4 579.7,151.3 580.0,151.1 580.4,150.9 580.7,150.8 581.1,150.6" fill="none" stroke="#6da2b3" stroke-width="0.9" opacity="0.85"/>
<polyline points="581.1,150.6 581.4,150.5 581.8,150.3 582.1,150.1 582.5,150.0 582.8,149.8 583.2,149.7 583.5,149.5 583.9,149.3" fill="none" stroke="#6da2b3" stroke-width="0.9" opacity="0.85"/>
<polyline points="583.9,149.3 584.2,149.2 584.6,149.0 584.9,148.8 585.2,148.7 585.6,148.5 585.9,148.3 586.3,148.2 586.6,148.0" fill="none" stroke="#6da3b2" stroke-width="0.9" opacity="0.85"/>
<polyline points="586.6,148.0 587.0,147.8 587.3,147.6 587.7,147.5 588.0,147.3 588.3,147.1 588.7,147.0 589.0,146.8 589.4,146.6" fill="none" stroke="#6ca3b2" stroke-width="0.9" opacity="0.85"/>
<polyline points="589.4,146.6 589.7,146.4 590.1,146.3 590.4,146.1 590.7,145.9 591.1,145.7 591.4,145.6 591.8,145.4 592.1,145.2" fill="none" stroke="#6ca4b2" stroke-width="0.9" opacity="0.85"/>
<polyline points="592.1,145.2 592.4,145.0 592.8,144.8 593.1,144.7 593.5,144.5 593.8,144.3 594.1,144.1 594.5,143.9 594.8,143.8" fill="none" stroke="#6ca4b1" stroke-width="0.9" opacity="0.85"/>
<polyline points="594.8,143.8 595.2,143.6 595.5,143.4 595.8,143.2 596.2,143.0 596.5,142.8 596.8,142.7 597.2,142.5 597.5,142.3" fill="none" stroke="#6ba5b1" stroke-width="0.9" opacity="0.85"/>
<polyline points="597.5,142.3 597.9,142.1 598.2,141.9 598.5,141.7 598.9,141.5 599.2,141.4 599.5,141.2 599.9,141.0 600.2,140.8" fill="none" stroke="#6ba5b1" stroke-width="0.9" opacity="0.85"/>
<polyline points="600.2,140.8 600.5,140.6 600.9,140.4 601.2,140.2 601.5,140.0 601.9,139.8 602.2,139.6 602.5,139.5 602.9,139.3" fill="none" stroke="#6aa6b0" stroke-width="0.9" opacity="0.85"/>
<polyline points="602.9,139.3 603.2,139.1 603.5,138.9 603.9,138.7 604.2,138.5 604.5,138.3 604.9,138.1 605.2,137.9 605.5,137.7" fill="none" stroke="#6aa7b0" stroke-width="0.9" opacity="0.85"/>
<polyline points="605.5,137.7 605.9,137.5 606.2,137.3 606.5,137.1 606.8,136.9 607.2,136.7 607.5,136.5 607.8,136.3 608.2,136.1" fill="none" stroke="#6aa7b0" stroke-width="0.9" opacity="0.85"/>
<polyline points="608.2,136.1 608.5,135.9 608.8,135.8 609.1,135.6 609.5,135.4 609.8,135.2 610.1,135.0 610.5,134.8 610.8,134.6" fill="none" stroke="#6aa8af" stroke-width="0.9" opacity="0.85"/>
<polyline points="610.8,134.6 611.1,134.4 611.4,134.2 611.8,134.0 612.1,133.8 612.4,133.6 612.8,133.4 613.1,133.2 613.4,133.0" fill="none" stroke="#6ba9af" stroke-width="0.9" opacity="0.85"/>
<polyline points="613.4,133.0 613.7,132.7 614.1,132.5 614.4,132.3 614.7,132.1 615.0,131.9 615.4,131.7 615.7,131.5 616.0,131.3" fill="none" stroke="#6caaae" stroke-width="0.9" opacity="0.85"/>
<polyline points="616.0,131.3 616.3,131.1 616.7,130.9 617.0,130.7 617.3,130.5 617.6,130.3 618.0,130.1 618.3,129.9 618.6,129.7" fill="none" stroke="#6daaae" stroke-width="0.9" opacity="0.85"/>
<polyline points="618.6,129.7 618.9,129.5 619.3,129.3 619.6,129.1 619.9,128.9 620.2,128.7 620.5,128.4 620.9,128.2 621.2,128.0" fill="none" stroke="#6eabad" stroke-width="0.9" opacity="0.85"/>
<polyline points="621.2,128.0 621.5,127.8 621.8,127.6 622.2,127.4 622.5,127.2 622.8,127.0 623.1,126.8 623.5,126.6 623.8,126.4" fill="none" stroke="#6facad" stroke-width="0.9" opacity="0.85"/>
<polyline points="623.8,126.4 624.1,126.2 624.4,126.0 624.7,125.7 625.1,125.5 625.4,125.3 625.7,125.1 626.0,124.9 626.3,124.7" fill="none" stroke="#70adac" stroke-width="0.9" opacity="0.85"/>
<polyline points="626.3,124.7 626.7,124.5 627.0,124.3 627.3,124.1 627.6,123.8 627.9,123.6 628.3,123.4 628.6,123.2 628.9,123.0" fill="none" stroke="#71aeac" stroke-width="0.9" opacity="0.85"/>
<polyline points="628.9,123.0 629.2,122.8 629.5,122.6 629.9,122.4 630.2,122.2 630.5,121.9 630.8,121.7 631.1,121.5 631.5,121.3" fill="none" stroke="#72afab" stroke-width="0.9" opacity="0.85"/>
<polyline points="631.5,121.3 631.8,121.1 632.1,120.9 632.4,120.7 632.7,120.5 633.1,120.2 633.4,120.0 633.7,119.8 634.0,119.6" fill="none" stroke="#74b0ab" stroke-width="0.9" opacity="0.85"/>
<polyline points="634.0,119.6 634.3,119.4 634.7,119.2 635.0,119.0 635.3,118.7 635.6,118.5 635.9,118.3 636.2,118.1 636.6,117.9" fill="none" stroke="#75b1aa" stroke-width="0.9" opacity="0.85"/>
<polyline points="636.6,117.9 636.9,117.7 637.2,117.5 637.5,117.2 637.8,117.0 638.2,116.8 638.5,116.6 638.8,116.4 639.1,116.2" fill="none" stroke="#76b2aa" stroke-width="0.9" opacity="0.85"/>
<polyline points="639.1,116.2 639.4,116.0 639.7,115.7 640.1,115.5 640.4,115.3 640.7,115.1 641.0,114.9 641.3,114.7 641.6,114.5" fill="none" stroke="#77b3a9" stroke-width="0.9" opacity="0.85"/>
<polyline points="641.6,114.5 642.0,114.2 642.3,114.0 642.6,113.8 642.9,113.6 643.2,113.4 643.6,113.2 643.9,112.9 644.2,112.7" fill="none" stroke="#79b5a8" stroke-width="0.9" opacity="0.85"/>
<polyline points="644.2,112.7 644.5,112.5 644.8,112.3 645.1,112.1 645.5,111.9 645.8,111.7 646.1,111.4 646.4,111.2 646.7,111.0" fill="none" stroke="#7ab6a8" stroke-width="0.9" opacity="0.85"/>
<polyline points="646.7,111.0 647.0,110.8 647.4,110.6 647.7,110.4 648.0,110.1 648.3,109.9 648.6,109.7 648.9,109.5 649.3,109.3" fill="none" stroke="#7bb7a7" stroke-width="0.9" opacity="0.85"/>
<polyline points="649.3,109.3 649.6,109.1 649.9,108.9 650.2,108.6 650.5,108.4 650.9,108.2 651.2,108.0 651.5,107.8 651.8,107.6" fill="none" stroke="#7cb8a6" stroke-width="0.9" opacity="0.85"/>
<polyline points="651.8,107.6 652.1,107.4 652.4,107.1 652.8,106.9 653.1,106.7 653.4,106.5 653.7,106.3 654.0,106.1 654.4,105.8" fill="none" stroke="#7eb9a6" stroke-width="0.9" opacity="0.85"/>
<polyline points="654.4,105.8 654.7,105.6 655.0,105.4 655.3,105.2 655.6,105.0 655.9,104.8 656.3,104.6 656.6,104.4 656.9,104.1" fill="none" stroke="#7fbaa5" stroke-width="0.9" opacity="0.85"/>
<polyline points="656.9,104.1 657.2,103.9" fill="none" stroke="#81bca4" stroke-width="0.9" opacity="0.85"/>
<polyline points="519.9,144.2 520.0,144.6 520.0,145.0 520.0,145.4 520.0,145.7 520.1,146.1 520.1,146.5 520.2,146.9 520.3,147.2" fill="none" stroke="#7b85bb" stroke-width="0.9" opacity="0.85"/>
<polyline points="520.3,147.2 520.4,147.6 520.5,147.9 520.7,148.3 520.8,148.6 521.0,149.0 521.2,149.3 521.4,149.6 521.7,149.9" fill="none" stroke="#7b8abe" stroke-width="0.9" opacity="0.85"/>
<polyline points="521.7,149.9 521.9,150.2 522.2,150.5 522.4,150.8 522.7,151.0 523.0,151.3 523.3,151.5 523.6,151.7 524.0,151.9" fill="none" stroke="#7a8ebe" stroke-width="0.9" opacity="0.85"/>
<polyline points="524.0,151.9 524.3,152.1 524.6,152.3 525.0,152.5 525.3,152.7 525.7,152.8 526.0,153.0 526.4,153.1 526.7,153.2" fill="none" stroke="#7891bc" stroke-width="0.9" opacity="0.85"/>
<polyline points="526.7,153.2 527.1,153.4 527.5,153.5 527.8,153.6 528.2,153.7 528.6,153.8 528.9,153.9 529.3,154.0 529.7,154.0" fill="none" stroke="#7694bb" stroke-width="0.9" opacity="0.85"/>
<polyline points="529.7,154.0 530.1,154.1 530.5,154.2 530.8,154.3 531.2,154.3 531.6,154.4 532.0,154.4 532.4,154.5 532.7,154.5" fill="none" stroke="#7596ba" stroke-width="0.9" opacity="0.85"/>
<polyline points="532.7,154.5 533.1,154.5 533.5,154.6 533.9,154.6 534.3,154.6 534.7,154.6 535.1,154.7 535.4,154.7 535.8,154.7" fill="none" stroke="#7497b9" stroke-width="0.9" opacity="0.85"/>
<polyline points="535.8,154.7 536.2,154.7 536.6,154.7 537.0,154.7 537.4,154.7 537.8,154.7 538.1,154.7 538.5,154.7 538.9,154.6" fill="none" stroke="#7399b8" stroke-width="0.9" opacity="0.85"/>
<polyline points="538.9,154.6 539.3,154.6 539.7,154.6 540.1,154.6 540.4,154.5 540.8,154.5 541.2,154.5 541.6,154.4 542.0,154.4" fill="none" stroke="#729ab7" stroke-width="0.9" opacity="0.85"/>
<polyline points="542.0,154.4 542.4,154.4 542.8,154.3 543.1,154.3 543.5,154.2 543.9,154.2 544.3,154.1 544.7,154.1 545.0,154.0" fill="none" stroke="#729bb7" stroke-width="0.9" opacity="0.85"/>
<polyline points="545.0,154.0 545.4,154.0 545.8,153.9 546.2,153.8 546.6,153.8 546.9,153.7 547.3,153.6 547.7,153.5 548.1,153.5" fill="none" stroke="#719cb6" stroke-width="0.9" opacity="0.85"/>
<polyline points="548.1,153.5 548.5,153.4 548.8,153.3 549.2,153.2 549.6,153.1 550.0,153.0 550.3,153.0 550.7,152.9 551.1,152.8" fill="none" stroke="#709db6" stroke-width="0.9" opacity="0.85"/>
<polyline points="551.1,152.8 551.5,152.7 551.8,152.6 552.2,152.5 552.6,152.4 552.9,152.3 553.3,152.2 553.7,152.1 554.0,152.0" fill="none" stroke="#709eb5" stroke-width="0.9" opacity="0.85"/>
<polyline points="554.0,152.0 554.4,151.8 554.8,151.7 555.2,151.6 555.5,151.5 555.9,151.4 556.3,151.3 556.6,151.1 557.0,151.0" fill="none" stroke="#6f9fb5" stroke-width="0.9" opacity="0.85"/>
<polyline points="557.0,151.0 557.3,150.9 557.7,150.8 558.1,150.6 558.4,150.5 558.8,150.4 559.2,150.2 559.5,150.1 559.9,150.0" fill="none" stroke="#6fa0b4" stroke-width="0.9" opacity="0.85"/>
<polyline points="559.9,150.0 560.2,149.8 560.6,149.7 561.0,149.5 561.3,149.4 561.7,149.3 562.0,149.1 562.4,149.0 562.7,148.8" fill="none" stroke="#6ea0b4" stroke-width="0.9" opacity="0.85"/>
<polyline points="562.7,148.8 563.1,148.7 563.4,148.5 563.8,148.4 564.1,148.2 564.5,148.0 564.8,147.9 565.2,147.7 565.5,147.6" fill="none" stroke="#6ea1b3" stroke-width="0.9" opacity="0.85"/>
<polyline points="565.5,147.6 565.9,147.4 566.2,147.2 566.6,147.1 566.9,146.9 567.3,146.7 567.6,146.6 568.0,146.4 568.3,146.2" fill="none" stroke="#6da2b3" stroke-width="0.9" opacity="0.85"/>
<polyline points="568.3,146.2 568.7,146.1 569.0,145.9 569.3,145.7 569.7,145.5 570.0,145.4 570.4,145.2 570.7,145.0 571.0,144.8" fill="none" stroke="#6da3b2" stroke-width="0.9" opacity="0.85"/>
<polyline points="571.0,144.8 571.4,144.6 571.7,144.5 572.1,144.3 572.4,144.1 572.7,143.9 573.1,143.7 573.4,143.5 573.7,143.4" fill="none" stroke="#6ca4b2" stroke-width="0.9" opacity="0.85"/>
<polyline points="573.7,143.4 574.1,143.2 574.4,143.0 574.7,142.8 575.1,142.6 575.4,142.4 575.7,142.2 576.1,142.0 576.4,141.8" fill="none" stroke="#6ca4b1" stroke-width="0.9" opacity="0.85"/>
<polyline points="576.4,141.8 576.7,141.6 577.1,141.4 577.4,141.2 577.7,141.0 578.0,140.8 578.4,140.6 578.7,140.4 579.0,140.2" fill="none" stroke="#6ba5b1" stroke-width="0.9" opacity="0.85"/>
<polyline points="579.0,140.2 579.3,140.0 579.7,139.8 580.0,139.6 580.3,139.4 580.6,139.2 581.0,139.0 581.3,138.8 581.6,138.5" fill="none" stroke="#6ba6b0" stroke-width="0.9" opacity="0.85"/>
<polyline points="581.6,138.5 581.9,138.3 582.2,138.1 582.6,137.9 582.9,137.7 583.2,137.5 583.5,137.3 583.8,137.0 584.1,136.8" fill="none" stroke="#6aa7b0" stroke-width="0.9" opacity="0.85"/>
<polyline points="584.1,136.8 584.5,136.6 584.8,136.4 585.1,136.2 585.4,136.0 585.7,135.7 586.0,135.5 586.3,135.3 586.7,135.1" fill="none" stroke="#6aa7b0" stroke-width="0.9" opacity="0.85"/>
<polyline points="586.7,135.1 587.0,134.9 587.3,134.6 587.6,134.4 587.9,134.2 588.2,134.0 588.5,133.7 588.8,133.5 589.1,133.3" fill="none" stroke="#6ba9af" stroke-width="0.9" opacity="0.85"/>
<polyline points="589.1,133.3 589.4,133.0 589.8,132.8 590.1,132.6 590.4,132.4 590.7,132.1 591.0,131.9 591.3,131.7 591.6,131.4" fill="none" stroke="#6caaae" stroke-width="0.9" opacity="0.85"/>
<polyline points="591.6,131.4 591.9,131.2 592.2,131.0 592.5,130.7 592.8,130.5 593.1,130.3 593.4,130.0 593.7,129.8 594.0,129.6" fill="none" stroke="#6eabae" stroke-width="0.9" opacity="0.85"/>
<polyline points="594.0,129.6 594.3,129.3 594.6,129.1 594.9,128.8 595.2,128.6 595.5,128.4 595.8,128.1 596.1,127.9 596.4,127.6" fill="none" stroke="#6facad" stroke-width="0.9" opacity="0.85"/>
<polyline points="596.4,127.6 596.7,127.4 597.0,127.2 597.3,126.9 597.6,126.7 597.9,126.4 598.2,126.2 598.5,125.9 598.8,125.7" fill="none" stroke="#70adac" stroke-width="0.9" opacity="0.85"/>
<polyline points="598.8,125.7 599.1,125.5 599.4,125.2 599.7,125.0 600.0,124.7 600.3,124.5 600.5,124.2 600.8,124.0 601.1,123.7" fill="none" stroke="#72afac" stroke-width="0.9" opacity="0.85"/>
<polyline points="601.1,123.7 601.4,123.5 601.7,123.2 602.0,123.0 602.3,122.7 602.6,122.5 602.9,122.2 603.2,122.0 603.5,121.7" fill="none" stroke="#73b0ab" stroke-width="0.9" opacity="0.85"/>
<polyline points="603.5,121.7 603.7,121.5 604.0,121.2 604.3,121.0 604.6,120.7 604.9,120.5 605.2,120.2 605.5,120.0 605.8,119.7" fill="none" stroke="#75b1aa" stroke-width="0.9" opacity="0.85"/>
<polyline points="605.8,119.7 606.0,119.5 606.3,119.2 606.6,119.0 606.9,118.7 607.2,118.4 607.5,118.2 607.8,117.9 608.0,117.7" fill="none" stroke="#76b3a9" stroke-width="0.9" opacity="0.85"/>
<polyline points="608.0,117.7 608.3,117.4 608.6,117.2 608.9,116.9 609.2,116.6 609.5,116.4 609.7,116.1 610.0,115.9 610.3,115.6" fill="none" stroke="#78b4a9" stroke-width="0.9" opacity="0.85"/>
<polyline points="610.3,115.6 610.6,115.4 610.9,115.1 611.1,114.8 611.4,114.6 611.7,114.3 612.0,114.1 612.3,113.8 612.5,113.5" fill="none" stroke="#7ab5a8" stroke-width="0.9" opacity="0.85"/>
<polyline points="612.5,113.5 612.8,113.3 613.1,113.0 613.4,112.7 613.7,112.5 613.9,112.2 614.2,112.0 614.5,111.7 614.8,111.4" fill="none" stroke="#7bb7a7" stroke-width="0.9" opacity="0.85"/>
<polyline points="614.8,111.4 615.0,111.2 615.3,110.9 615.6,110.6 615.9,110.4 616.2,110.1 616.4,109.8 616.7,109.6 617.0,109.3" fill="none" stroke="#7db8a6" stroke-width="0.9" opacity="0.85"/>
<polyline points="617.0,109.3 617.3,109.1 617.5,108.8 617.8,108.5 618.1,108.3 618.4,108.0 618.6,107.7 618.9,107.5 619.2,107.2" fill="none" stroke="#7fbaa5" stroke-width="0.9" opacity="0.85"/>
<polyline points="619.2,107.2 619.5,106.9 619.7,106.7 620.0,106.4 620.3,106.1 620.6,105.9 620.8,105.6 621.1,105.3 621.4,105.1" fill="none" stroke="#81bca4" stroke-width="0.9" opacity="0.85"/>
<polyline points="621.4,105.1 621.7,104.8 621.9,104.5 622.2,104.3 622.5,104.0 622.7,103.7 623.0,103.5 623.3,103.2 623.6,102.9" fill="none" stroke="#82bda4" stroke-width="0.9" opacity="0.85"/>
<polyline points="623.6,102.9 623.8,102.7 624.1,102.4 624.4,102.1 624.7,101.8 624.9,101.6 625.2,101.3 625.5,101.0 625.7,100.8" fill="none" stroke="#84bfa3" stroke-width="0.9" opacity="0.85"/>
<polyline points="625.7,100.8 626.0,100.5 626.3,100.2 626.6,100.0 626.8,99.7 627.1,99.4 627.4,99.2 627.6,98.9 627.9,98.6" fill="none" stroke="#86c1a2" stroke-width="0.9" opacity="0.85"/>
<polyline points="627.9,98.6 628.2,98.3 628.5,98.1 628.7,97.8 629.0,97.5 629.3,97.3 629.5,97.0 629.8,96.7 630.1,96.5" fill="none" stroke="#88c2a1" stroke-width="0.9" opacity="0.85"/>
<polyline points="630.1,96.5 630.4,96.2 630.6,95.9 630.9,95.7 631.2,95.4 631.4,95.1 631.7,94.8 632.0,94.6 632.3,94.3" fill="none" stroke="#8bc4a0" stroke-width="0.9" opacity="0.85"/>
<polyline points="632.3,94.3 632.5,94.0 632.8,93.8 633.1,93.5 633.3,93.2 633.6,93.0 633.9,92.7 634.2,92.4 634.4,92.2" fill="none" stroke="#8dc69f" stroke-width="0.9" opacity="0.85"/>
<polyline points="634.4,92.2 634.7,91.9 635.0,91.6 635.3,91.3 635.5,91.1 635.8,90.8 636.1,90.5 636.3,90.3 636.6,90.0" fill="none" stroke="#8fc89e" stroke-width="0.9" opacity="0.85"/>
<polyline points="636.6,90.0 636.9,89.7 637.2,89.5 637.4,89.2 637.7,88.9 638.0,88.7 638.3,88.4 638.5,88.1 638.8,87.9" fill="none" stroke="#91ca9c" stroke-width="0.9" opacity="0.85"/>
<polyline points="638.8,87.9 639.1,87.6 639.3,87.3 639.6,87.1 639.9,86.8 640.2,86.5 640.4,86.3 640.7,86.0 641.0,85.7" fill="none" stroke="#94cc9b" stroke-width="0.9" opacity="0.85"/>
<polyline points="641.0,85.7 641.3,85.5 641.5,85.2 641.8,84.9 642.1,84.7 642.4,84.4 642.7,84.1 642.9,83.9 643.2,83.6" fill="none" stroke="#96ce9a" stroke-width="0.9" opacity="0.85"/>
<polyline points="643.2,83.6 643.5,83.4 643.8,83.1 644.0,82.8 644.3,82.6 644.6,82.3 644.9,82.0 645.2,81.8 645.4,81.5" fill="none" stroke="#9ad19a" stroke-width="0.9" opacity="0.85"/>
<polyline points="645.4,81.5 645.7,81.3 646.0,81.0 646.3,80.7 646.6,80.5 646.8,80.2 647.1,80.0 647.4,79.7 647.7,79.4" fill="none" stroke="#a1d39a" stroke-width="0.9" opacity="0.85"/>
<polyline points="647.7,79.4 648.0,79.2 648.2,78.9 648.5,78.7 648.8,78.4 649.1,78.1 649.4,77.9 649.7,77.6 649.9,77.4" fill="none" stroke="#a7d59b" stroke-width="0.9" opacity="0.85"/>
<polyline points="649.9,77.4 650.2,77.1 650.5,76.9 650.8,76.6 651.1,76.4 651.4,76.1 651.7,75.9 651.9,75.6 652.2,75.3" fill="none" stroke="#aed89b" stroke-width="0.9" opacity="0.85"/>
<polyline points="652.2,75.3 652.5,75.1 652.8,74.8 653.1,74.6 653.4,74.3 653.7,74.1 654.0,73.8 654.3,73.6 654.6,73.3" fill="none" stroke="#b5da9b" stroke-width="0.9" opacity="0.85"/>
<polyline points="654.6,73.3 654.8,73.1 655.1,72.8 655.4,72.6 655.7,72.4 656.0,72.1 656.3,71.9 656.6,71.6 656.9,71.4" fill="none" stroke="#bcdd9c" stroke-width="0.9" opacity="0.85"/>
<polyline points="656.9,71.4 657.2,71.1" fill="none" stroke="#c3df9c" stroke-width="0.9" opacity="0.85"/>
<polyline points="529.6,134.7 529.6,135.1 529.6,135.5 529.6,135.9 529.7,136.2 529.7,136.6 529.7,137.0 529.8,137.4 529.9,137.7" fill="none" stroke="#7b85bb" stroke-width="0.9" opacity="0.85"/>
<polyline points="529.9,137.7 530.0,138.1 530.1,138.5 530.2,138.8 530.3,139.2 530.5,139.5 530.6,139.9 530.8,140.2 531.0,140.5" fill="none" stroke="#7b8abf" stroke-width="0.9" opacity="0.85"/>
<polyline points="531.0,140.5 531.2,140.9 531.5,141.2 531.7,141.5 531.9,141.7 532.2,142.0 532.5,142.3 532.8,142.5 533.1,142.8" fill="none" stroke="#7a8ebe" stroke-width="0.9" opacity="0.85"/>
<polyline points="533.1,142.8 533.4,143.0 533.7,143.2 534.1,143.4 534.4,143.5 534.8,143.7 535.1,143.9 535.5,144.0 535.8,144.1" fill="none" stroke="#7792bc" stroke-width="0.9" opacity="0.85"/>
<polyline points="535.8,144.1 536.2,144.2 536.6,144.4 536.9,144.5 537.3,144.5 537.7,144.6 538.1,144.7 538.5,144.8 538.8,144.8" fill="none" stroke="#7595ba" stroke-width="0.9" opacity="0.85"/>
<polyline points="538.8,144.8 539.2,144.9 539.6,144.9 540.0,144.9 540.4,144.9 540.8,145.0 541.1,145.0 541.5,145.0 541.9,145.0" fill="none" stroke="#7498b8" stroke-width="0.9" opacity="0.85"/>
<polyline points="541.9,145.0 542.3,145.0 542.7,145.0 543.1,144.9 543.5,144.9 543.8,144.9 544.2,144.9 544.6,144.8 545.0,144.8" fill="none" stroke="#729ab7" stroke-width="0.9" opacity="0.85"/>
<polyline points="545.0,144.8 545.4,144.7 545.8,144.7 546.1,144.6 546.5,144.5 546.9,144.5 547.3,144.4 547.7,144.3 548.0,144.3" fill="none" stroke="#719cb6" stroke-width="0.9" opacity="0.85"/>
<polyline points="548.0,144.3 548.4,144.2 548.8,144.1 549.2,144.0 549.5,143.9 549.9,143.8 550.3,143.7 550.6,143.6 551.0,143.5" fill="none" stroke="#709eb5" stroke-width="0.9" opacity="0.85"/>
<polyline points="551.0,143.5 551.4,143.4 551.8,143.3 552.1,143.2 552.5,143.0 552.9,142.9 553.2,142.8 553.6,142.7 553.9,142.5" fill="none" stroke="#6f9fb4" stroke-width="0.9" opacity="0.85"/>
<polyline points="553.9,142.5 554.3,142.4 554.7,142.3 555.0,142.1 555.4,142.0 555.7,141.8 556.1,141.7 556.4,141.5 556.8,141.4" fill="none" stroke="#6ea1b3" stroke-width="0.9" opacity="0.85"/>
<polyline points="556.8,141.4 557.2,141.2 557.5,141.1 557.9,140.9 558.2,140.8 558.5,140.6 558.9,140.4 559.2,140.3 559.6,140.1" fill="none" stroke="#6da2b3" stroke-width="0.9" opacity="0.85"/>
<polyline points="559.6,140.1 559.9,139.9 560.3,139.7 560.6,139.6 561.0,139.4 561.3,139.2 561.6,139.0 562.0,138.8 562.3,138.7" fill="none" stroke="#6ca3b2" stroke-width="0.9" opacity="0.85"/>
<polyline points="562.3,138.7 562.6,138.5 563.0,138.3 563.3,138.1 563.6,137.9 564.0,137.7 564.3,137.5 564.6,137.3 564.9,137.1" fill="none" stroke="#6ba5b1" stroke-width="0.9" opacity="0.85"/>
<polyline points="564.9,137.1 565.3,136.9 565.6,136.7 565.9,136.5 566.2,136.3 566.6,136.1 566.9,135.8 567.2,135.6 567.5,135.4" fill="none" stroke="#6ba6b0" stroke-width="0.9" opacity="0.85"/>
<polyline points="567.5,135.4 567.8,135.2 568.2,135.0 568.5,134.8 568.8,134.5 569.1,134.3 569.4,134.1 569.7,133.9 570.0,133.7" fill="none" stroke="#6aa7b0" stroke-width="0.9" opacity="0.85"/>
<polyline points="570.0,133.7 570.3,133.4 570.6,133.2 571.0,133.0 571.3,132.7 571.6,132.5 571.9,132.3 572.2,132.0 572.5,131.8" fill="none" stroke="#6ba9af" stroke-width="0.9" opacity="0.85"/>
<polyline points="572.5,131.8 572.8,131.6 573.1,131.3 573.4,131.1 573.7,130.9 574.0,130.6 574.3,130.4 574.6,130.1 574.9,129.9" fill="none" stroke="#6daaae" stroke-width="0.9" opacity="0.85"/>
<polyline points="574.9,129.9 575.1,129.6 575.4,129.4 575.7,129.1 576.0,128.9 576.3,128.6 576.6,128.4 576.9,128.1 577.2,127.9" fill="none" stroke="#6facad" stroke-width="0.9" opacity="0.85"/>
<polyline points="577.2,127.9 577.5,127.6 577.7,127.4 578.0,127.1 578.3,126.9 578.6,126.6 578.9,126.3 579.2,126.1 579.4,125.8" fill="none" stroke="#71aeac" stroke-width="0.9" opacity="0.85"/>
<polyline points="579.4,125.8 579.7,125.6 580.0,125.3 580.3,125.0 580.6,124.8 580.8,124.5 581.1,124.2 581.4,124.0 581.6,123.7" fill="none" stroke="#73b0ab" stroke-width="0.9" opacity="0.85"/>
<polyline points="581.6,123.7 581.9,123.4 582.2,123.2 582.5,122.9 582.7,122.6 583.0,122.3 583.3,122.1 583.5,121.8 583.8,121.5" fill="none" stroke="#75b1aa" stroke-width="0.9" opacity="0.85"/>
<polyline points="583.8,121.5 584.1,121.3 584.3,121.0 584.6,120.7 584.9,120.4 585.1,120.1 585.4,119.9 585.6,119.6 585.9,119.3" fill="none" stroke="#77b3a9" stroke-width="0.9" opacity="0.85"/>
<polyline points="585.9,119.3 586.2,119.0 586.4,118.7 586.7,118.5 586.9,118.2 587.2,117.9 587.5,117.6 587.7,117.3 588.0,117.0" fill="none" stroke="#79b5a8" stroke-width="0.9" opacity="0.85"/>
<polyline points="588.0,117.0 588.2,116.8 588.5,116.5 588.7,116.2 589.0,115.9 589.2,115.6 589.5,115.3 589.7,115.0 590.0,114.7" fill="none" stroke="#7bb7a7" stroke-width="0.9" opacity="0.85"/>
<polyline points="590.0,114.7 590.2,114.4 590.5,114.2 590.7,113.9 591.0,113.6 591.2,113.3 591.4,113.0 591.7,112.7 591.9,112.4" fill="none" stroke="#7db9a6" stroke-width="0.9" opacity="0.85"/>
<polyline points="591.9,112.4 592.2,112.1 592.4,111.8 592.6,111.5 592.9,111.2 593.1,110.9 593.4,110.6 593.6,110.3 593.8,110.0" fill="none" stroke="#80bba5" stroke-width="0.9" opacity="0.85"/>
<polyline points="593.8,110.0 594.1,109.7 594.3,109.4 594.6,109.1 594.8,108.8 595.0,108.5 595.3,108.2 595.5,107.9 595.7,107.6" fill="none" stroke="#82bda4" stroke-width="0.9" opacity="0.85"/>
<polyline points="595.7,107.6 595.9,107.3 596.2,107.0 596.4,106.7 596.6,106.4 596.9,106.1 597.1,105.8 597.3,105.5 597.6,105.2" fill="none" stroke="#85bfa3" stroke-width="0.9" opacity="0.85"/>
<polyline points="597.6,105.2 597.8,104.9 598.0,104.6 598.2,104.2 598.5,103.9 598.7,103.6 598.9,103.3 599.1,103.0 599.4,102.7" fill="none" stroke="#87c1a1" stroke-width="0.9" opacity="0.85"/>
<polyline points="599.4,102.7 599.6,102.4 599.8,102.1 600.0,101.8 600.2,101.5 600.5,101.1 600.7,100.8 600.9,100.5 601.1,100.2" fill="none" stroke="#8ac3a0" stroke-width="0.9" opacity="0.85"/>
<polyline points="601.1,100.2 601.3,99.9 601.5,99.6 601.8,99.3 602.0,99.0 602.2,98.6 602.4,98.3 602.6,98.0 602.8,97.7" fill="none" stroke="#8cc69f" stroke-width="0.9" opacity="0.85"/>
<polyline points="602.8,97.7 603.1,97.4 603.3,97.1 603.5,96.7 603.7,96.4 603.9,96.1 604.1,95.8 604.3,95.5 604.5,95.2" fill="none" stroke="#8fc89d" stroke-width="0.9" opacity="0.85"/>
<polyline points="604.5,95.2 604.7,94.8 605.0,94.5 605.2,94.2 605.4,93.9 605.6,93.6 605.8,93.2 606.0,92.9 606.2,92.6" fill="none" stroke="#92cb9c" stroke-width="0.9" opacity="0.85"/>
<polyline points="606.2,92.6 606.4,92.3 606.6,92.0 606.8,91.6 607.0,91.3 607.2,91.0 607.4,90.7 607.6,90.4 607.8,90.0" fill="none" stroke="#95cd9b" stroke-width="0.9" opacity="0.85"/>
<polyline points="607.8,90.0 608.0,89.7 608.2,89.4 608.4,89.1 608.6,88.7 608.8,88.4 609.0,88.1 609.2,87.8 609.4,87.4" fill="none" stroke="#99d09a" stroke-width="0.9" opacity="0.85"/>
<polyline points="609.4,87.4 609.6,87.1 609.8,86.8 610.0,86.5 610.2,86.1 610.4,85.8 610.6,85.5 610.8,85.2 611.0,84.8" fill="none" stroke="#a1d39a" stroke-width="0.9" opacity="0.85"/>
<polyline points="611.0,84.8 611.2,84.5 611.4,84.2 611.6,83.9 611.8,83.5 612.0,83.2 612.2,82.9 612.4,82.5 612.6,82.2" fill="none" stroke="#aad69b" stroke-width="0.9" opacity="0.85"/>
<polyline points="612.6,82.2 612.8,81.9 613.0,81.6 613.2,81.2 613.3,80.9 613.5,80.6 613.7,80.2 613.9,79.9 614.1,79.6" fill="none" stroke="#b3d99b" stroke-width="0.9" opacity="0.85"/>
<polyline points="614.1,79.6 614.3,79.3 614.5,78.9 614.7,78.6 614.9,78.3 615.1,77.9 615.3,77.6 615.4,77.3 615.6,76.9" fill="none" stroke="#bcdd9c" stroke-width="0.9" opacity="0.85"/>
<polyline points="615.6,76.9 615.8,76.6 616.0,76.3 616.2,76.0 616.4,75.6 616.6,75.3 616.8,75.0 617.0,74.6 617.1,74.3" fill="none" stroke="#c6e09d" stroke-width="0.9" opacity="0.85"/>
<polyline points="617.1,74.3 617.3,74.0 617.5,73.6 617.7,73.3 617.9,73.0 618.1,72.6 618.3,72.3 618.5,72.0 618.6,71.6" fill="none" stroke="#d1e49d" stroke-width="0.9" opacity="0.85"/>
<polyline points="618.6,71.6 618.8,71.3 619.0,71.0 619.2,70.7 619.4,70.3 619.6,70.0 619.8,69.7 620.0,69.3 620.1,69.0" fill="none" stroke="#dce99e" stroke-width="0.9" opacity="0.85"/>
<polyline points="620.1,69.0 620.3,68.7 620.5,68.3 620.7,68.0 620.9,67.7 621.1,67.3 621.3,67.0 621.4,66.7 621.6,66.3" fill="none" stroke="#e9ed9f" stroke-width="0.9" opacity="0.85"/>
<polyline points="621.6,66.3 621.8,66.0 622.0,65.7 622.2,65.3 622.4,65.0 622.6,64.7 622.8,64.3 622.9,64.0 623.1,63.7" fill="none" stroke="#f0f0a0" stroke-width="0.9" opacity="0.85"/>
<polyline points="623.1,63.7 623.3,63.4 623.5,63.0 623.7,62.7 623.9,62.4 624.1,62.0 624.3,61.7 624.5,61.4 624.6,61.0" fill="none" stroke="#f0f0a0" stroke-width="0.9" opacity="0.85"/>
<polyline points="624.6,61.0 624.8,60.7 625.0,60.4 625.2,60.1 625.4,59.7 625.6,59.4 625.8,59.1 626.0,58.7 626.2,58.4" fill="none" stroke="#f0f0a0" stroke-width="0.9" opacity="0.85"/>
<polyline points="626.2,58.4 626.4,58.1 626.6,57.8 626.8,57.4 627.0,57.1 627.2,56.8 627.4,56.5 627.6,56.1 627.8,55.8" fill="none" stroke="#f0f0a0" stroke-width="0.9" opacity="0.85"/>
<polyline points="627.8,55.8 628.0,55.5 628.2,55.2 628.4,54.8 628.6,54.5 628.8,54.2 629.0,53.9 629.2,53.6 629.4,53.2" fill="none" stroke="#f0f0a0" stroke-width="0.9" opacity="0.85"/>
<polyline points="629.4,53.2 629.6,52.9 629.8,52.6 630.1,52.3 630.3,52.0 630.5,51.7 630.7,51.4 630.9,51.0 631.2,50.7" fill="none" stroke="#f0f0a0" stroke-width="0.9" opacity="0.85"/>
<polyline points="631.2,50.7 631.4,50.4 631.6,50.1 631.8,49.8 632.1,49.5 632.3,49.2 632.5,48.9 632.8,48.6 633.0,48.3" fill="none" stroke="#f0f0a0" stroke-width="0.9" opacity="0.85"/>
<polyline points="633.0,48.3 633.3,48.0 633.5,47.7 633.8,47.4 634.0,47.2 634.3,46.9 634.5,46.6 634.8,46.3 635.1,46.0" fill="none" stroke="#f0f0a0" stroke-width="0.9" opacity="0.85"/>
<polyline points="635.1,46.0 635.3,45.8 635.6,45.5 635.9,45.2 636.2,45.0 636.4,44.7 636.7,44.5 637.0,44.2 637.3,44.0" fill="none" stroke="#f0f0a0" stroke-width="0.9" opacity="0.85"/>
<polyline points="637.3,44.0 637.6,43.7 637.9,43.5 638.2,43.3 638.5,43.1 638.9,42.8 639.2,42.6 639.5,42.4 639.8,42.2" fill="none" stroke="#f0f0a0" stroke-width="0.9" opacity="0.85"/>
<polyline points="639.8,42.2 640.2,42.0 640.5,41.8 640.8,41.6 641.2,41.5 641.5,41.3 641.9,41.1 642.2,41.0 642.6,40.8" fill="none" stroke="#f0f0a0" stroke-width="0.9" opacity="0.85"/>
<polyline points="642.6,40.8 642.9,40.6 643.3,40.5 643.6,40.4 644.0,40.2 644.3,40.1 644.7,40.0 645.1,39.8 645.4,39.7" fill="none" stroke="#f0f0a0" stroke-width="0.9" opacity="0.85"/>
<polyline points="645.4,39.7 645.8,39.6 646.2,39.5 646.5,39.4 646.9,39.3 647.3,39.2 647.7,39.1 648.0,39.0 648.4,38.9" fill="none" stroke="#f0f0a0" stroke-width="0.9" opacity="0.85"/>
<polyline points="648.4,38.9 648.8,38.8 649.2,38.7 649.5,38.7 649.9,38.6 650.3,38.5 650.7,38.4 651.0,38.4 651.4,38.3" fill="none" stroke="#f0f0a0" stroke-width="0.9" opacity="0.85"/>
<polyline points="651.4,38.3 651.8,38.2 652.2,38.1 652.6,38.1 652.9,38.0 653.3,38.0 653.7,37.9 654.1,37.9 654.5,37.8" fill="none" stroke="#f0f0a0" stroke-width="0.9" opacity="0.85"/>
<polyline points="654.5,37.8 654.8,37.7 655.2,37.7 655.6,37.6 656.0,37.6 656.4,37.5 656.8,37.5 657.1,37.4" fill="none" stroke="#f0f0a0" stroke-width="0.9" opacity="0.85"/>
<polyline points="539.2,125.2 539.3,125.6 539.3,126.0 539.3,126.4 539.3,126.7 539.4,127.1 539.4,127.5 539.5,127.9 539.6,128.2" fill="none" stroke="#7b85bb" stroke-width="0.9" opacity="0.85"/>
<polyline points="539.6,128.2 539.7,128.6 539.8,129.0 539.9,129.3 540.0,129.7 540.2,130.0 540.4,130.4 540.6,130.7 540.8,131.0" fill="none" stroke="#7b8cbf" stroke-width="0.9" opacity="0.85"/>
<polyline points="540.8,131.0 541.1,131.3 541.3,131.6 541.6,131.8 541.9,132.1 542.2,132.3 542.6,132.5 542.9,132.7 543.2,132.8" fill="none" stroke="#7891bc" stroke-width="0.9" opacity="0.85"/>
<polyline points="543.2,132.8 543.6,133.0 544.0,133.1 544.3,133.2 544.7,133.3 545.1,133.3 545.5,133.4 545.9,133.4 546.2,133.5" fill="none" stroke="#7596b9" stroke-width="0.9" opacity="0.85"/>
<polyline points="546.2,133.5 546.6,133.5 547.0,133.5 547.4,133.5 547.8,133.4 548.2,133.4 548.5,133.4 548.9,133.3 549.3,133.2" fill="none" stroke="#729ab7" stroke-width="0.9" opacity="0.85"/>
<polyline points="549.3,133.2 549.7,133.2 550.1,133.1 550.4,133.0 550.8,132.9 551.2,132.8 551.6,132.7 551.9,132.6 552.3,132.5" fill="none" stroke="#709eb5" stroke-width="0.9" opacity="0.85"/>
<polyline points="552.3,132.5 552.6,132.3 553.0,132.2 553.4,132.1 553.7,131.9 554.1,131.8 554.4,131.6 554.8,131.5 555.1,131.3" fill="none" stroke="#6ea1b3" stroke-width="0.9" opacity="0.85"/>
<polyline points="555.1,131.3 555.5,131.1 555.8,131.0 556.2,130.8 556.5,130.6 556.8,130.4 557.2,130.2 557.5,130.0 557.8,129.8" fill="none" stroke="#6ca4b2" stroke-width="0.9" opacity="0.85"/>
<polyline points="557.8,129.8 558.2,129.7 558.5,129.5 558.8,129.2 559.2,129.0 559.5,128.8 559.8,128.6 560.1,128.4 560.4,128.2" fill="none" stroke="#6aa6b0" stroke-width="0.9" opacity="0.85"/>
<polyline points="560.4,128.2 560.7,128.0 561.1,127.7 561.4,127.5 561.7,127.3 562.0,127.1 562.3,126.8 562.6,126.6 562.9,126.4" fill="none" stroke="#6ba9af" stroke-width="0.9" opacity="0.85"/>
<polyline points="562.9,126.4 563.2,126.1 563.5,125.9 563.8,125.6 564.1,125.4 564.4,125.1 564.7,124.9 564.9,124.6 565.2,124.4" fill="none" stroke="#6facad" stroke-width="0.9" opacity="0.85"/>
<polyline points="565.2,124.4 565.5,124.1 565.8,123.9 566.1,123.6 566.4,123.4 566.6,123.1 566.9,122.8 567.2,122.6 567.5,122.3" fill="none" stroke="#73afab" stroke-width="0.9" opacity="0.85"/>
<polyline points="567.5,122.3 567.7,122.0 568.0,121.7 568.3,121.5 568.5,121.2 568.8,120.9 569.1,120.6 569.3,120.4 569.6,120.1" fill="none" stroke="#76b2aa" stroke-width="0.9" opacity="0.85"/>
<polyline points="569.6,120.1 569.8,119.8 570.1,119.5 570.4,119.2 570.6,119.0 570.9,118.7 571.1,118.4 571.4,118.1 571.6,117.8" fill="none" stroke="#79b5a8" stroke-width="0.9" opacity="0.85"/>
<polyline points="571.6,117.8 571.8,117.5 572.1,117.2 572.3,116.9 572.6,116.6 572.8,116.3 573.1,116.0 573.3,115.7 573.5,115.4" fill="none" stroke="#7db8a6" stroke-width="0.9" opacity="0.85"/>
<polyline points="573.5,115.4 573.8,115.1 574.0,114.8 574.2,114.5 574.5,114.2 574.7,113.9 574.9,113.6 575.1,113.3 575.4,113.0" fill="none" stroke="#80bba5" stroke-width="0.9" opacity="0.85"/>
<polyline points="575.4,113.0 575.6,112.7 575.8,112.4 576.0,112.1 576.2,111.7 576.5,111.4 576.7,111.1 576.9,110.8 577.1,110.5" fill="none" stroke="#84bea3" stroke-width="0.9" opacity="0.85"/>
<polyline points="577.1,110.5 577.3,110.2 577.5,109.8 577.7,109.5 577.9,109.2 578.1,108.9 578.3,108.6 578.5,108.2 578.7,107.9" fill="none" stroke="#87c2a1" stroke-width="0.9" opacity="0.85"/>
<polyline points="578.7,107.9 578.9,107.6 579.1,107.3 579.3,106.9 579.5,106.6 579.7,106.3 579.9,105.9 580.1,105.6 580.3,105.3" fill="none" stroke="#8bc59f" stroke-width="0.9" opacity="0.85"/>
<polyline points="580.3,105.3 580.5,105.0 580.7,104.6 580.9,104.3 581.0,104.0 581.2,103.6 581.4,103.3 581.6,103.0 581.8,102.6" fill="none" stroke="#8fc89e" stroke-width="0.9" opacity="0.85"/>
<polyline points="581.8,102.6 581.9,102.3 582.1,101.9 582.3,101.6 582.5,101.3 582.6,100.9 582.8,100.6 583.0,100.2 583.1,99.9" fill="none" stroke="#93cb9c" stroke-width="0.9" opacity="0.85"/>
<polyline points="583.1,99.9 583.3,99.6 583.5,99.2 583.6,98.9 583.8,98.5 583.9,98.2 584.1,97.8 584.3,97.5 584.4,97.1" fill="none" stroke="#97cf9a" stroke-width="0.9" opacity="0.85"/>
<polyline points="584.4,97.1 584.6,96.8 584.7,96.4 584.9,96.1 585.0,95.7 585.2,95.4 585.3,95.0 585.5,94.7 585.6,94.3" fill="none" stroke="#a0d39a" stroke-width="0.9" opacity="0.85"/>
<polyline points="585.6,94.3 585.7,94.0 585.9,93.6 586.0,93.3 586.1,92.9 586.3,92.6 586.4,92.2 586.5,91.9 586.7,91.5" fill="none" stroke="#abd79b" stroke-width="0.9" opacity="0.85"/>
<polyline points="586.7,91.5 586.8,91.1 586.9,90.8 587.0,90.4 587.2,90.1 587.3,89.7 587.4,89.3 587.5,89.0 587.6,88.6" fill="none" stroke="#b7db9c" stroke-width="0.9" opacity="0.85"/>
<polyline points="587.6,88.6 587.8,88.2 587.9,87.9 588.0,87.5 588.1,87.2 588.2,86.8 588.3,86.4 588.4,86.1 588.5,85.7" fill="none" stroke="#c3df9c" stroke-width="0.9" opacity="0.85"/>
<polyline points="588.5,85.7 588.6,85.3 588.7,85.0 588.8,84.6 588.8,84.2 588.9,83.8 589.0,83.5 589.1,83.1 589.2,82.7" fill="none" stroke="#d1e49d" stroke-width="0.9" opacity="0.85"/>
<polyline points="589.2,82.7 589.2,82.4 589.3,82.0 589.4,81.6 589.5,81.2 589.5,80.9 589.6,80.5 589.6,80.1 589.7,79.7" fill="none" stroke="#dfea9e" stroke-width="0.9" opacity="0.85"/>
<polyline points="589.7,79.7 589.7,79.4 589.8,79.0 589.8,78.6 589.9,78.2 589.9,77.9 589.9,77.5 590.0,77.1 590.0,76.7" fill="none" stroke="#f0f0a0" stroke-width="0.9" opacity="0.85"/>
<polyline points="590.0,76.7 590.0,76.3 590.0,76.0 590.0,75.6 590.0,75.2" fill="none" stroke="#f0f0a0" stroke-width="0.9" opacity="0.85"/>
<polyline points="548.9,115.7 548.9,116.1 548.9,116.5 549.0,116.9 549.0,117.2 549.1,117.6 549.2,118.0 549.3,118.3 549.5,118.7" fill="none" stroke="#7b85bb" stroke-width="0.9" opacity="0.85"/>
<polyline points="549.5,118.7 549.7,119.0 549.9,119.3 550.2,119.6 550.5,119.8 550.8,120.0 551.2,120.1 551.6,120.2 551.9,120.3" fill="none" stroke="#7891bc" stroke-width="0.9" opacity="0.85"/>
<polyline points="551.9,120.3 552.3,120.3 552.7,120.3 553.1,120.2 553.5,120.2 553.8,120.1 554.2,120.0 554.6,119.8 554.9,119.7" fill="none" stroke="#719cb6" stroke-width="0.9" opacity="0.85"/>
<polyline points="554.9,119.7 555.3,119.5 555.6,119.4 556.0,119.2 556.3,119.0 556.6,118.8 557.0,118.6 557.3,118.4 557.6,118.2" fill="none" stroke="#6ba5b1" stroke-width="0.9" opacity="0.85"/>
<polyline points="557.6,118.2 557.9,117.9 558.2,117.7 558.5,117.5 558.8,117.2 559.1,117.0 559.4,116.7 559.7,116.5 560.0,116.2" fill="none" stroke="#70adac" stroke-width="0.9" opacity="0.85"/>
<polyline points="560.0,116.2 560.2,115.9 560.5,115.7 560.8,115.4 561.0,115.1 561.3,114.9 561.6,114.6 561.8,114.3 562.1,114.0" fill="none" stroke="#79b5a8" stroke-width="0.9" opacity="0.85"/>
<polyline points="562.1,114.0 562.3,113.7 562.5,113.4 562.8,113.1 563.0,112.8 563.3,112.5 563.5,112.2 563.7,111.9 563.9,111.6" fill="none" stroke="#81bca4" stroke-width="0.9" opacity="0.85"/>
<polyline points="563.9,111.6 564.2,111.3 564.4,111.0 564.6,110.6 564.8,110.3 565.0,110.0 565.2,109.7 565.4,109.4 565.6,109.0" fill="none" stroke="#89c3a0" stroke-width="0.9" opacity="0.85"/>
<polyline points="565.6,109.0 565.8,108.7 566.0,108.4 566.2,108.0 566.4,107.7 566.5,107.4 566.7,107.0 566.9,106.7 567.1,106.4" fill="none" stroke="#91ca9d" stroke-width="0.9" opacity="0.85"/>
<polyline points="567.1,106.4 567.2,106.0 567.4,105.7 567.6,105.3 567.7,105.0 567.9,104.6 568.0,104.3 568.2,103.9 568.3,103.6" fill="none" stroke="#9cd19a" stroke-width="0.9" opacity="0.85"/>
<polyline points="568.3,103.6 568.4,103.2 568.6,102.9 568.7,102.5 568.8,102.2 569.0,101.8 569.1,101.4 569.2,101.1 569.3,100.7" fill="none" stroke="#afd89b" stroke-width="0.9" opacity="0.85"/>
<polyline points="569.3,100.7 569.4,100.4 569.5,100.0 569.6,99.6 569.7,99.3 569.8,98.9 569.9,98.5 569.9,98.1 570.0,97.8" fill="none" stroke="#c5e09d" stroke-width="0.9" opacity="0.85"/>
<polyline points="570.0,97.8 570.1,97.4 570.1,97.0 570.2,96.6 570.2,96.3 570.3,95.9 570.3,95.5 570.3,95.1 570.3,94.7" fill="none" stroke="#dce99e" stroke-width="0.9" opacity="0.85"/>
</g>
<path d="M479.9,183.6 L479.9,12.9 L653.4,12.9Z" fill="#f2a184"/>
<line x1="491.0" y1="22.5" x2="491.0" y2="172.7" stroke="#a8749a" stroke-width="0.65" opacity="0.75"/>
<line x1="500.6" y1="22.5" x2="500.6" y2="163.2" stroke="#a8749a" stroke-width="0.65" opacity="0.75"/>
<line x1="510.3" y1="22.5" x2="510.3" y2="153.7" stroke="#a8749a" stroke-width="0.65" opacity="0.75"/>
<line x1="519.9" y1="22.5" x2="519.9" y2="144.2" stroke="#a8749a" stroke-width="0.65" opacity="0.75"/>
<line x1="529.6" y1="22.5" x2="529.6" y2="134.7" stroke="#a8749a" stroke-width="0.65" opacity="0.75"/>
<line x1="539.2" y1="22.5" x2="539.2" y2="125.2" stroke="#a8749a" stroke-width="0.65" opacity="0.75"/>
<line x1="548.9" y1="22.5" x2="548.9" y2="115.7" stroke="#a8749a" stroke-width="0.65" opacity="0.75"/>
<line x1="558.5" y1="22.5" x2="558.5" y2="106.2" stroke="#a8749a" stroke-width="0.65" opacity="0.75"/>
<line x1="568.2" y1="22.5" x2="568.2" y2="96.7" stroke="#a8749a" stroke-width="0.65" opacity="0.75"/>
<line x1="577.8" y1="22.5" x2="577.8" y2="87.2" stroke="#a8749a" stroke-width="0.65" opacity="0.75"/>
<line x1="587.5" y1="22.5" x2="587.5" y2="77.7" stroke="#a8749a" stroke-width="0.65" opacity="0.75"/>
<line x1="597.1" y1="22.5" x2="597.1" y2="68.2" stroke="#a8749a" stroke-width="0.65" opacity="0.75"/>
<line x1="606.8" y1="22.5" x2="606.8" y2="58.7" stroke="#a8749a" stroke-width="0.65" opacity="0.75"/>
<line x1="616.4" y1="22.5" x2="616.4" y2="49.3" stroke="#a8749a" stroke-width="0.65" opacity="0.75"/>
<line x1="626.1" y1="22.5" x2="626.1" y2="39.8" stroke="#a8749a" stroke-width="0.65" opacity="0.75"/>
<line x1="635.7" y1="22.5" x2="635.7" y2="30.3" stroke="#a8749a" stroke-width="0.65" opacity="0.75"/>
<line x1="479.9" y1="183.6" x2="653.4" y2="12.9" stroke="#333" stroke-width="0.6"/>
<defs><clipPath id="tri"><path d="M479.9,183.6 L479.9,12.9 L653.4,12.9Z"/></clipPath></defs>
<path d="M481.3,183.1 C484.8,182.9 495.3,183.9 502.3,182.0 C509.3,180.1 517.4,175.9 523.4,171.5 C529.4,167.1 533.8,161.6 538.0,155.8 C542.2,150.0 546.0,142.8 548.6,136.8 C551.2,130.8 552.2,125.0 553.9,120.0 C555.6,115.0 555.9,113.4 558.8,106.7 C561.7,100.0 567.6,87.2 571.4,80.0 C575.2,72.8 577.5,68.6 581.6,63.7 C585.7,58.8 591.2,54.0 596.0,50.4 C600.8,46.8 604.9,44.3 610.5,42.0 C616.1,39.7 622.7,37.8 629.7,36.5 C636.7,35.2 648.7,34.7 652.5,34.3" fill="none" stroke="#f2dc10" stroke-width="3.2" clip-path="url(#tri)"/>
<path d="M481.3,183.1 C484.8,182.9 495.3,183.9 502.3,182.0 C509.3,180.1 517.4,175.9 523.4,171.5 C529.4,167.1 533.8,161.6 538.0,155.8 C542.2,150.0 546.0,142.8 548.6,136.8 C551.2,130.8 552.2,125.0 553.9,120.0 C555.6,115.0 555.9,113.4 558.8,106.7 C561.7,100.0 567.6,87.2 571.4,80.0 C575.2,72.8 577.5,68.6 581.6,63.7 C585.7,58.8 591.2,54.0 596.0,50.4 C600.8,46.8 604.9,44.3 610.5,42.0 C616.1,39.7 622.7,37.8 629.7,36.5 C636.7,35.2 648.7,34.7 652.5,34.3" fill="none" stroke="#111" stroke-width="1.1" stroke-dasharray="2.6,1.8"/>
<path d="M558,126.5 C565,124 573,117 578,106 C582,96 582.3,80 582.3,63.3" fill="none" stroke="#3a3a9a" stroke-width="2.1"/>
<circle cx="558" cy="126.5" r="2.2" fill="#3a3a9a"/>
<rect x="580" y="61" width="4.6" height="4.6" fill="#3a3a9a"/>
<path d="M550.8,154.1 C558,153 570,146 583.3,136.8 C598,124 618,104 643,93" fill="none" stroke="#d42a2a" stroke-width="2"/>
<circle cx="550.8" cy="154.1" r="2.3" fill="#d42a2a"/>
<path d="M650.5,89.5 L641.5,90.5 L644.5,96.5Z" fill="#d42a2a"/>
<rect x="479.9" y="12.9" width="173.5" height="170.7" fill="none" stroke="#999" stroke-width="0.8"/>
<line x1="477.4" y1="164.6" x2="479.9" y2="164.6" stroke="#777" stroke-width="0.7"/>
<text x="476.9" y="168.4" font-family="Liberation Sans, sans-serif" font-size="10.5" fill="#333" text-anchor="end">2</text>
<line x1="477.4" y1="126.7" x2="479.9" y2="126.7" stroke="#777" stroke-width="0.7"/>
<text x="476.9" y="130.5" font-family="Liberation Sans, sans-serif" font-size="10.5" fill="#333" text-anchor="end">4</text>
<line x1="477.4" y1="88.8" x2="479.9" y2="88.8" stroke="#777" stroke-width="0.7"/>
<text x="476.9" y="92.6" font-family="Liberation Sans, sans-serif" font-size="10.5" fill="#333" text-anchor="end">6</text>
<line x1="477.4" y1="50.8" x2="479.9" y2="50.8" stroke="#777" stroke-width="0.7"/>
<text x="476.9" y="54.6" font-family="Liberation Sans, sans-serif" font-size="10.5" fill="#333" text-anchor="end">8</text>
<line x1="477.4" y1="12.9" x2="479.9" y2="12.9" stroke="#777" stroke-width="0.7"/>
<text x="476.9" y="16.7" font-family="Liberation Sans, sans-serif" font-size="10.5" fill="#333" text-anchor="end">10</text>
<line x1="498.9" y1="183.6" x2="498.9" y2="186.1" stroke="#777" stroke-width="0.7"/>
<text x="498.9" y="195.8" font-family="Liberation Sans, sans-serif" font-size="10.5" fill="#333" text-anchor="middle">2</text>
<line x1="536.9" y1="183.6" x2="536.9" y2="186.1" stroke="#777" stroke-width="0.7"/>
<text x="536.9" y="195.8" font-family="Liberation Sans, sans-serif" font-size="10.5" fill="#333" text-anchor="middle">4</text>
<line x1="574.9" y1="183.6" x2="574.9" y2="186.1" stroke="#777" stroke-width="0.7"/>
<text x="574.9" y="195.8" font-family="Liberation Sans, sans-serif" font-size="10.5" fill="#333" text-anchor="middle">6</text>
<line x1="612.9" y1="183.6" x2="612.9" y2="186.1" stroke="#777" stroke-width="0.7"/>
<text x="612.9" y="195.8" font-family="Liberation Sans, sans-serif" font-size="10.5" fill="#333" text-anchor="middle">8</text>
<line x1="650.9" y1="183.6" x2="650.9" y2="186.1" stroke="#777" stroke-width="0.7"/>
<text x="650.9" y="195.8" font-family="Liberation Sans, sans-serif" font-size="10.5" fill="#333" text-anchor="middle">10</text>
<text x="575.2" y="207.9" font-family="Liberation Sans, sans-serif" font-size="10.1" fill="#333" text-anchor="middle">Relative radius (r)</text>
<text transform="translate(463.2,102.2) rotate(-90)" font-family="Liberation Sans, sans-serif" font-size="9.8" fill="#333" text-anchor="middle">Relative stiffness (K)</text>
<rect x="669" y="27.2" width="4.4" height="140.8" fill="url(#cb)"/>
<line x1="673.6" y1="27.2" x2="673.6" y2="168" stroke="#666" stroke-width="0.6"/>
<text x="675" y="29.8" font-family="Liberation Sans, sans-serif" font-size="10" fill="#333">5</text>
<text x="676" y="170.3" font-family="Liberation Sans, sans-serif" font-size="10" fill="#333">0</text>
<text transform="translate(667,98.4) rotate(-90)" font-family="Liberation Sans, sans-serif" font-size="10" fill="#333" text-anchor="middle">Relative time</text>
</g>
<text x="442.4" y="11.9" font-family="Liberation Sans, sans-serif" font-size="16" font-weight="bold" fill="#111">e</text>
<g id="pf">
<line x1="327" y1="228" x2="327" y2="291.4" stroke="#aaa" stroke-width="0.9"/>
<line x1="324.5" y1="291.4" x2="327" y2="291.4" stroke="#888" stroke-width="0.7"/>
<text x="321.5" y="295.0" font-family="Liberation Sans, sans-serif" font-size="10" fill="#333" text-anchor="end">0</text>
<line x1="324.5" y1="259.7" x2="327" y2="259.7" stroke="#888" stroke-width="0.7"/>
<text x="321.5" y="263.3" font-family="Liberation Sans, sans-serif" font-size="10" fill="#333" text-anchor="end">2</text>
<line x1="324.5" y1="228.0" x2="327" y2="228.0" stroke="#888" stroke-width="0.7"/>
<text x="321.5" y="231.6" font-family="Liberation Sans, sans-serif" font-size="10" fill="#333" text-anchor="end">4</text>
<line x1="328.5" y1="302" x2="421.7" y2="302" stroke="#888" stroke-width="0.8"/>
<line x1="328.5" y1="302" x2="328.5" y2="305" stroke="#888" stroke-width="0.6"/>
<line x1="356.6" y1="302" x2="356.6" y2="303.8" stroke="#888" stroke-width="0.6"/>
<line x1="373.0" y1="302" x2="373.0" y2="303.8" stroke="#888" stroke-width="0.6"/>
<line x1="384.6" y1="302" x2="384.6" y2="303.8" stroke="#888" stroke-width="0.6"/>
<line x1="393.6" y1="302" x2="393.6" y2="303.8" stroke="#888" stroke-width="0.6"/>
<line x1="401.0" y1="302" x2="401.0" y2="303.8" stroke="#888" stroke-width="0.6"/>
<line x1="407.3" y1="302" x2="407.3" y2="303.8" stroke="#888" stroke-width="0.6"/>
<line x1="412.7" y1="302" x2="412.7" y2="303.8" stroke="#888" stroke-width="0.6"/>
<line x1="417.4" y1="302" x2="417.4" y2="303.8" stroke="#888" stroke-width="0.6"/>
<line x1="421.7" y1="302" x2="421.7" y2="305" stroke="#888" stroke-width="0.6"/>
<text x="328.5" y="318" font-family="Liberation Sans, sans-serif" font-size="10" fill="#333" text-anchor="middle">1</text>
<text x="421.7" y="318" font-family="Liberation Sans, sans-serif" font-size="10" fill="#333" text-anchor="middle">10</text>
<text x="378.8" y="329.5" font-family="Liberation Sans, sans-serif" font-size="10.5" fill="#333" text-anchor="middle">α</text>
<text transform="translate(295.3,260.6) rotate(-90)" font-family="Liberation Sans, sans-serif" font-size="10" fill="#333" text-anchor="middle">Fitting score</text>
<text transform="translate(309.6,261.3) rotate(-90)" font-family="Liberation Sans, sans-serif" font-size="10" fill="#333" text-anchor="middle">(10<tspan dy="-4" font-size="9"> -3</tspan><tspan dy="4">)</tspan></text>
<polyline points="328.0,291.4 392.0,291.4 396.0,290.6 400.0,287.4 404.0,285.1 408.0,284.3 411.0,286.6 414.0,284.3 418.0,288.2 422.0,286.6 425.0,280.3" fill="none" stroke="#f9b896" stroke-width="0.8"/>
<polyline points="328.0,291.4 388.0,291.4 392.0,290.6 395.0,289.0 398.0,277.1 401.0,272.4 404.0,274.0 408.0,283.5 411.0,281.9 413.0,254.9 416.0,242.3 419.0,239.1 422.0,250.2 425.0,253.4" fill="none" stroke="#ef6a6a" stroke-width="0.8"/>
<polyline points="328.0,291.4 386.0,291.4 390.0,290.6 393.0,289.8 396.0,266.0 399.0,267.6 402.0,266.0 405.0,270.8 409.0,283.5 411.0,269.2 413.0,243.8 416.0,232.8 419.0,240.7 422.0,243.8 425.0,254.9" fill="none" stroke="#c83c78" stroke-width="0.8"/>
<polyline points="328.0,291.4 386.0,291.4 390.0,289.8 393.0,290.6 395.0,270.8 398.0,264.5 401.0,266.0 404.0,267.6 407.0,274.0 410.0,281.9 412.0,250.2 415.0,245.4 418.0,234.3 421.0,245.4 425.0,250.2" fill="none" stroke="#5a3a80" stroke-width="0.8"/>
<line x1="447" y1="236.3" x2="447" y2="291.2" stroke="#aaa" stroke-width="0.9"/>
<line x1="444.5" y1="291.2" x2="447" y2="291.2" stroke="#888" stroke-width="0.7"/>
<text x="441.2" y="294.8" font-family="Liberation Sans, sans-serif" font-size="10" fill="#333" text-anchor="end">0</text>
<line x1="444.5" y1="272.9" x2="447" y2="272.9" stroke="#888" stroke-width="0.7"/>
<text x="441.2" y="276.5" font-family="Liberation Sans, sans-serif" font-size="10" fill="#333" text-anchor="end">1</text>
<line x1="444.5" y1="254.6" x2="447" y2="254.6" stroke="#888" stroke-width="0.7"/>
<text x="441.2" y="258.2" font-family="Liberation Sans, sans-serif" font-size="10" fill="#333" text-anchor="end">2</text>
<line x1="444.5" y1="236.3" x2="447" y2="236.3" stroke="#888" stroke-width="0.7"/>
<text x="441.2" y="239.9" font-family="Liberation Sans, sans-serif" font-size="10" fill="#333" text-anchor="end">3</text>
<line x1="451" y1="302.4" x2="543.6" y2="302.4" stroke="#888" stroke-width="0.8"/>
<line x1="451.0" y1="302.4" x2="451.0" y2="305.4" stroke="#888" stroke-width="0.6"/>
<text x="451.0" y="317.7" font-family="Liberation Sans, sans-serif" font-size="10.5" fill="#333" text-anchor="middle">10</text>
<text x="458.0" y="312.6" font-family="Liberation Sans, sans-serif" font-size="9.5" fill="#333">-3</text>
<line x1="481.9" y1="302.4" x2="481.9" y2="305.4" stroke="#888" stroke-width="0.6"/>
<text x="481.9" y="317.7" font-family="Liberation Sans, sans-serif" font-size="10.5" fill="#333" text-anchor="middle">10</text>
<text x="488.9" y="312.6" font-family="Liberation Sans, sans-serif" font-size="9.5" fill="#333">-1</text>
<line x1="512.7" y1="302.4" x2="512.7" y2="305.4" stroke="#888" stroke-width="0.6"/>
<text x="512.7" y="317.7" font-family="Liberation Sans, sans-serif" font-size="10.5" fill="#333" text-anchor="middle">10</text>
<text x="519.7" y="312.6" font-family="Liberation Sans, sans-serif" font-size="9.5" fill="#333">1</text>
<line x1="543.6" y1="302.4" x2="543.6" y2="305.4" stroke="#888" stroke-width="0.6"/>
<text x="543.6" y="317.7" font-family="Liberation Sans, sans-serif" font-size="10.5" fill="#333" text-anchor="middle">10</text>
<text x="550.6" y="312.6" font-family="Liberation Sans, sans-serif" font-size="9.5" fill="#333">3</text>
<text x="499.5" y="329" font-family="Liberation Sans, sans-serif" font-size="10.5" fill="#333" text-anchor="middle">γ</text>
<polyline points="458.8,291.2 487.0,291.2 491.0,289.4 495.0,287.5 499.0,285.7 503.0,283.0 506.3,280.8 510.0,282.4 514.0,283.5 518.0,284.2 522.0,285.7 526.0,284.6 530.0,285.0 535.0,285.0" fill="none" stroke="#f9b896" stroke-width="0.8"/>
<polyline points="458.8,291.2 486.0,291.2 489.0,289.4 491.0,284.8 493.0,288.5 495.0,274.7 497.0,261.9 499.0,269.2 501.0,254.6 503.0,249.1 505.0,263.8 507.0,256.4 509.0,250.9 511.0,243.6 512.6,238.7 515.0,245.4 518.0,250.4 524.0,256.4 530.0,257.9 535.0,258.6" fill="none" stroke="#ef6a6a" stroke-width="0.8"/>
<polyline points="458.8,291.2 486.0,291.2 489.0,290.3 491.0,285.7 493.0,287.5 495.0,271.1 497.0,260.1 499.0,265.6 501.0,256.4 503.0,252.8 505.0,261.9 507.0,254.6 510.0,256.4 513.0,250.9 517.0,241.8 522.0,234.5 528.0,232.6 535.0,232.3" fill="none" stroke="#c83c78" stroke-width="0.8"/>
<polyline points="458.8,291.2 486.0,291.2 489.0,289.4 491.0,286.6 493.0,283.9 495.0,267.4 497.0,261.9 499.0,267.4 501.0,258.3 503.0,254.6 505.0,260.1 507.0,256.4 510.0,254.6 513.0,250.9 517.0,245.4 522.0,240.9 528.0,238.1 535.0,236.3" fill="none" stroke="#5a3a80" stroke-width="0.8"/>
<line x1="571.2" y1="230.9" x2="571.2" y2="293" stroke="#aaa" stroke-width="0.9"/>
<line x1="568.7" y1="293.0" x2="571.2" y2="293.0" stroke="#888" stroke-width="0.7"/>
<text x="565.8" y="296.6" font-family="Liberation Sans, sans-serif" font-size="10" fill="#333" text-anchor="end">0</text>
<line x1="568.7" y1="261.9" x2="571.2" y2="261.9" stroke="#888" stroke-width="0.7"/>
<text x="565.8" y="265.6" font-family="Liberation Sans, sans-serif" font-size="10" fill="#333" text-anchor="end">20</text>
<line x1="568.7" y1="230.9" x2="571.2" y2="230.9" stroke="#888" stroke-width="0.7"/>
<text x="565.8" y="234.5" font-family="Liberation Sans, sans-serif" font-size="10" fill="#333" text-anchor="end">40</text>
<line x1="574" y1="302.2" x2="665.6" y2="302.2" stroke="#888" stroke-width="0.8"/>
<line x1="574.0" y1="302.2" x2="574.0" y2="305.2" stroke="#888" stroke-width="0.6"/>
<text x="574.0" y="317.5" font-family="Liberation Sans, sans-serif" font-size="10.5" fill="#333" text-anchor="middle">10</text>
<text x="581.0" y="312.4" font-family="Liberation Sans, sans-serif" font-size="9.5" fill="#333">-3</text>
<line x1="604.5" y1="302.2" x2="604.5" y2="305.2" stroke="#888" stroke-width="0.6"/>
<text x="604.5" y="317.5" font-family="Liberation Sans, sans-serif" font-size="10.5" fill="#333" text-anchor="middle">10</text>
<text x="611.5" y="312.4" font-family="Liberation Sans, sans-serif" font-size="9.5" fill="#333">-1</text>
<line x1="635.1" y1="302.2" x2="635.1" y2="305.2" stroke="#888" stroke-width="0.6"/>
<text x="635.1" y="317.5" font-family="Liberation Sans, sans-serif" font-size="10.5" fill="#333" text-anchor="middle">10</text>
<text x="642.1" y="312.4" font-family="Liberation Sans, sans-serif" font-size="9.5" fill="#333">1</text>
<line x1="665.6" y1="302.2" x2="665.6" y2="305.2" stroke="#888" stroke-width="0.6"/>
<text x="665.6" y="317.5" font-family="Liberation Sans, sans-serif" font-size="10.5" fill="#333" text-anchor="middle">10</text>
<text x="672.6" y="312.4" font-family="Liberation Sans, sans-serif" font-size="9.5" fill="#333">3</text>
<text x="622.5" y="330" font-family="Liberation Sans, sans-serif" font-size="10.5" fill="#333" text-anchor="middle">ρ</text>
<polyline points="580.7,293.0 625.0,293.0 627.0,292.9 629.0,292.2 630.5,290.2 631.5,286.9 632.5,282.1 633.3,292.4 634.0,293.0 657.0,293.0" fill="none" stroke="#f9b896" stroke-width="0.8"/>
<polyline points="580.7,293.0 625.0,293.0 627.0,292.4 629.0,288.6 630.5,278.3 631.5,260.6 632.5,235.6 633.3,290.1 634.0,293.0 657.0,293.0" fill="none" stroke="#ef6a6a" stroke-width="0.8"/>
<polyline points="580.7,293.0 625.0,293.0 627.0,292.4 629.0,288.3 630.5,277.5 631.5,258.8 632.5,232.5 633.3,289.9 634.0,293.0 657.0,293.0" fill="none" stroke="#c83c78" stroke-width="0.8"/>
<polyline points="580.7,293.0 625.0,293.0 627.0,292.4 629.0,288.3 630.5,277.5 631.5,258.8 632.5,232.5 633.3,289.9 634.0,293.0 657.0,293.0" fill="none" stroke="#5a3a80" stroke-width="0.8"/>
<text x="668.5" y="228.5" font-family="Liberation Sans, sans-serif" font-size="10.5" fill="#333">η</text>
<line x1="659.5" y1="241.0" x2="667.3" y2="241.0" stroke="#f9b896" stroke-width="1"/>
<text x="677" y="244.6" font-family="Liberation Sans, sans-serif" font-size="10.5" fill="#333">3</text>
<line x1="659.5" y1="251.5" x2="667.3" y2="251.5" stroke="#ef6a6a" stroke-width="1"/>
<text x="677" y="255.1" font-family="Liberation Sans, sans-serif" font-size="10.5" fill="#333">5</text>
<line x1="659.5" y1="262.0" x2="667.3" y2="262.0" stroke="#c83c78" stroke-width="1"/>
<text x="677" y="265.6" font-family="Liberation Sans, sans-serif" font-size="10.5" fill="#333">7</text>
<line x1="659.5" y1="272.5" x2="667.3" y2="272.5" stroke="#5a3a80" stroke-width="1"/>
<text x="677" y="276.1" font-family="Liberation Sans, sans-serif" font-size="10.5" fill="#333">9</text>
</g>
<text x="277.2" y="224" font-family="Liberation Sans, sans-serif" font-size="16" font-weight="bold" fill="#111">f</text>
</svg>
</body></html>
